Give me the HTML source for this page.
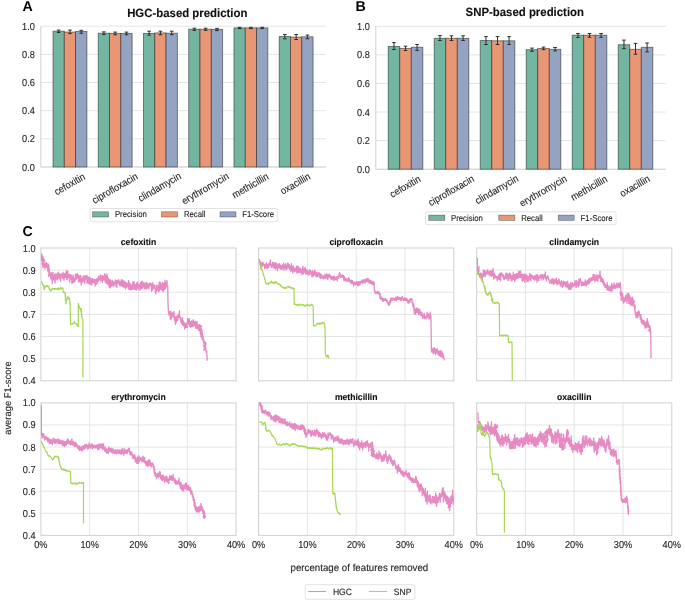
<!DOCTYPE html>
<html><head><meta charset="utf-8"><title>Figure</title>
<style>
html,body{margin:0;padding:0;background:#fff;}
body{width:685px;height:600px;overflow:hidden;font-family:"Liberation Sans", sans-serif;}
svg{display:block;will-change:transform;} text{text-rendering:geometricPrecision;}
</style></head><body>
<svg width="685" height="600" viewBox="0 0 685 600" font-family='"Liberation Sans", sans-serif'><rect width="685" height="600" fill="#fff"/><text x="22.6" y="11.4" font-size="14.2" font-weight="bold" fill="#000">A</text><text x="355.6" y="11.4" font-size="14.2" font-weight="bold" fill="#000">B</text><text x="22.4" y="236.1" font-size="14.2" font-weight="bold" fill="#000">C</text><line x1="40.8" y1="167" x2="326" y2="167" stroke="#e5e5e5" stroke-width="1"/><text x="34.90" y="170.50" text-anchor="end" font-size="10.12" fill="#262626" stroke="#262626" stroke-width="0.12" textLength="12.79" lengthAdjust="spacingAndGlyphs">0.0</text><line x1="40.8" y1="138.84" x2="326" y2="138.84" stroke="#e5e5e5" stroke-width="1"/><text x="34.90" y="142.34" text-anchor="end" font-size="10.12" fill="#262626" stroke="#262626" stroke-width="0.12" textLength="12.79" lengthAdjust="spacingAndGlyphs">0.2</text><line x1="40.8" y1="110.68" x2="326" y2="110.68" stroke="#e5e5e5" stroke-width="1"/><text x="34.90" y="114.18" text-anchor="end" font-size="10.12" fill="#262626" stroke="#262626" stroke-width="0.12" textLength="12.79" lengthAdjust="spacingAndGlyphs">0.4</text><line x1="40.8" y1="82.52" x2="326" y2="82.52" stroke="#e5e5e5" stroke-width="1"/><text x="34.90" y="86.02" text-anchor="end" font-size="10.12" fill="#262626" stroke="#262626" stroke-width="0.12" textLength="12.79" lengthAdjust="spacingAndGlyphs">0.6</text><line x1="40.8" y1="54.36" x2="326" y2="54.36" stroke="#e5e5e5" stroke-width="1"/><text x="34.90" y="57.86" text-anchor="end" font-size="10.12" fill="#262626" stroke="#262626" stroke-width="0.12" textLength="12.79" lengthAdjust="spacingAndGlyphs">0.8</text><line x1="40.8" y1="26.2" x2="326" y2="26.2" stroke="#e5e5e5" stroke-width="1"/><text x="34.90" y="29.70" text-anchor="end" font-size="10.12" fill="#262626" stroke="#262626" stroke-width="0.12" textLength="12.79" lengthAdjust="spacingAndGlyphs">1.0</text><line x1="40.8" y1="26.2" x2="40.8" y2="167" stroke="#d4d4d4" stroke-width="1.1"/><line x1="40.8" y1="167" x2="326" y2="167" stroke="#d4d4d4" stroke-width="1.1"/><rect x="53" y="31.2" width="11.3" height="135.8" fill="#72b6a1" stroke="#1a1a1a" stroke-opacity="0.55" stroke-width="0.9"/><rect x="64.3" y="32.1" width="11.3" height="134.9" fill="#e99675" stroke="#1a1a1a" stroke-opacity="0.55" stroke-width="0.9"/><rect x="75.6" y="31.5" width="11.3" height="135.5" fill="#95a3c3" stroke="#1a1a1a" stroke-opacity="0.55" stroke-width="0.9"/><path d="M58.65 30.1V32.5M56.85 30.1H60.45M56.85 32.5H60.45" stroke="#2e2e2e" stroke-width="1.0" fill="none"/><path d="M69.95 30.1V33.6M68.15 30.1H71.75M68.15 33.6H71.75" stroke="#2e2e2e" stroke-width="1.0" fill="none"/><path d="M81.25 30.3V33.3M79.45 30.3H83.05M79.45 33.3H83.05" stroke="#2e2e2e" stroke-width="1.0" fill="none"/><rect x="98.24" y="33.2" width="11.3" height="133.8" fill="#72b6a1" stroke="#1a1a1a" stroke-opacity="0.55" stroke-width="0.9"/><rect x="109.54" y="33.4" width="11.3" height="133.6" fill="#e99675" stroke="#1a1a1a" stroke-opacity="0.55" stroke-width="0.9"/><rect x="120.84" y="33.4" width="11.3" height="133.6" fill="#95a3c3" stroke="#1a1a1a" stroke-opacity="0.55" stroke-width="0.9"/><path d="M103.89 31.9V34.6M102.09 31.9H105.69M102.09 34.6H105.69" stroke="#2e2e2e" stroke-width="1.0" fill="none"/><path d="M115.19 32.1V34.8M113.39 32.1H116.99M113.39 34.8H116.99" stroke="#2e2e2e" stroke-width="1.0" fill="none"/><path d="M126.49 32.1V34.8M124.69 32.1H128.29M124.69 34.8H128.29" stroke="#2e2e2e" stroke-width="1.0" fill="none"/><rect x="143.48" y="33.4" width="11.3" height="133.6" fill="#72b6a1" stroke="#1a1a1a" stroke-opacity="0.55" stroke-width="0.9"/><rect x="154.78" y="32.9" width="11.3" height="134.1" fill="#e99675" stroke="#1a1a1a" stroke-opacity="0.55" stroke-width="0.9"/><rect x="166.08" y="33.2" width="11.3" height="133.8" fill="#95a3c3" stroke="#1a1a1a" stroke-opacity="0.55" stroke-width="0.9"/><path d="M149.13 31.2V35.1M147.33 31.2H150.93M147.33 35.1H150.93" stroke="#2e2e2e" stroke-width="1.0" fill="none"/><path d="M160.43 31.2V34.7M158.63 31.2H162.23M158.63 34.7H162.23" stroke="#2e2e2e" stroke-width="1.0" fill="none"/><path d="M171.73 31.2V34.7M169.93 31.2H173.53M169.93 34.7H173.53" stroke="#2e2e2e" stroke-width="1.0" fill="none"/><rect x="188.72" y="29.2" width="11.3" height="137.8" fill="#72b6a1" stroke="#1a1a1a" stroke-opacity="0.55" stroke-width="0.9"/><rect x="200.02" y="29.2" width="11.3" height="137.8" fill="#e99675" stroke="#1a1a1a" stroke-opacity="0.55" stroke-width="0.9"/><rect x="211.32" y="29.4" width="11.3" height="137.6" fill="#95a3c3" stroke="#1a1a1a" stroke-opacity="0.55" stroke-width="0.9"/><path d="M194.37 28.2V30.4M192.57 28.2H196.17M192.57 30.4H196.17" stroke="#2e2e2e" stroke-width="1.0" fill="none"/><path d="M205.67 28.2V30.4M203.87 28.2H207.47M203.87 30.4H207.47" stroke="#2e2e2e" stroke-width="1.0" fill="none"/><path d="M216.97 28.4V30.6M215.17 28.4H218.77M215.17 30.6H218.77" stroke="#2e2e2e" stroke-width="1.0" fill="none"/><rect x="233.96" y="27.9" width="11.3" height="139.1" fill="#72b6a1" stroke="#1a1a1a" stroke-opacity="0.55" stroke-width="0.9"/><rect x="245.26" y="27.9" width="11.3" height="139.1" fill="#e99675" stroke="#1a1a1a" stroke-opacity="0.55" stroke-width="0.9"/><rect x="256.56" y="27.9" width="11.3" height="139.1" fill="#95a3c3" stroke="#1a1a1a" stroke-opacity="0.55" stroke-width="0.9"/><path d="M239.61 27.3V28.6M237.81 27.3H241.41M237.81 28.6H241.41" stroke="#2e2e2e" stroke-width="1.0" fill="none"/><path d="M250.91 27.3V28.6M249.11 27.3H252.71M249.11 28.6H252.71" stroke="#2e2e2e" stroke-width="1.0" fill="none"/><path d="M262.21 27.3V28.6M260.41 27.3H264.01M260.41 28.6H264.01" stroke="#2e2e2e" stroke-width="1.0" fill="none"/><rect x="279.2" y="36.5" width="11.3" height="130.5" fill="#72b6a1" stroke="#1a1a1a" stroke-opacity="0.55" stroke-width="0.9"/><rect x="290.5" y="37.1" width="11.3" height="129.9" fill="#e99675" stroke="#1a1a1a" stroke-opacity="0.55" stroke-width="0.9"/><rect x="301.8" y="36.8" width="11.3" height="130.2" fill="#95a3c3" stroke="#1a1a1a" stroke-opacity="0.55" stroke-width="0.9"/><path d="M284.85 34.5V38.8M283.05 34.5H286.65M283.05 38.8H286.65" stroke="#2e2e2e" stroke-width="1.0" fill="none"/><path d="M296.15 34.5V39.5M294.35 34.5H297.95M294.35 39.5H297.95" stroke="#2e2e2e" stroke-width="1.0" fill="none"/><path d="M307.45 35.1V38.8M305.65 35.1H309.25M305.65 38.8H309.25" stroke="#2e2e2e" stroke-width="1.0" fill="none"/><text x="70.00" y="184.90" text-anchor="middle" font-size="10.12" fill="#262626" stroke="#262626" stroke-width="0.12" textLength="33.75" lengthAdjust="spacingAndGlyphs" dominant-baseline="central" transform="rotate(-30 70 184.9)">cefoxitin</text><text x="115.30" y="189.00" text-anchor="middle" font-size="10.12" fill="#262626" stroke="#262626" stroke-width="0.12" textLength="51.13" lengthAdjust="spacingAndGlyphs" dominant-baseline="central" transform="rotate(-30 115.3 189)">ciprofloxacin</text><text x="160.00" y="187.90" text-anchor="middle" font-size="10.12" fill="#262626" stroke="#262626" stroke-width="0.12" textLength="48.06" lengthAdjust="spacingAndGlyphs" dominant-baseline="central" transform="rotate(-30 160 187.9)">clindamycin</text><text x="205.70" y="189.30" text-anchor="middle" font-size="10.12" fill="#262626" stroke="#262626" stroke-width="0.12" textLength="52.66" lengthAdjust="spacingAndGlyphs" dominant-baseline="central" transform="rotate(-30 205.7 189.3)">erythromycin</text><text x="250.80" y="186.40" text-anchor="middle" font-size="10.12" fill="#262626" stroke="#262626" stroke-width="0.12" textLength="40.39" lengthAdjust="spacingAndGlyphs" dominant-baseline="central" transform="rotate(-30 250.8 186.4)">methicillin</text><text x="295.80" y="184.40" text-anchor="middle" font-size="10.12" fill="#262626" stroke="#262626" stroke-width="0.12" textLength="32.73" lengthAdjust="spacingAndGlyphs" dominant-baseline="central" transform="rotate(-30 295.8 184.4)">oxacillin</text><text x="187.30" y="16.80" text-anchor="middle" font-size="11.97" font-weight="bold" fill="#111" stroke="#111" stroke-width="0.12" textLength="120.35" lengthAdjust="spacingAndGlyphs">HGC-based prediction</text><rect x="90.1" y="208.5" width="187.2" height="13.2" rx="1.5" fill="#fff" stroke="#dcdcdc" stroke-width="0.8"/><rect x="92.6" y="211.8" width="16" height="5.2" fill="#72b6a1" stroke="#1a1a1a" stroke-opacity="0.55" stroke-width="0.6"/><text x="114.90" y="217.20" font-size="8.53" fill="#262626" stroke="#262626" stroke-width="0.12" textLength="31.87" lengthAdjust="spacingAndGlyphs">Precision</text><rect x="161.6" y="211.8" width="16" height="5.2" fill="#e99675" stroke="#1a1a1a" stroke-opacity="0.55" stroke-width="0.6"/><text x="183.90" y="217.20" font-size="8.53" fill="#262626" stroke="#262626" stroke-width="0.12" textLength="21.54" lengthAdjust="spacingAndGlyphs">Recall</text><rect x="220" y="211.8" width="16" height="5.2" fill="#95a3c3" stroke="#1a1a1a" stroke-opacity="0.55" stroke-width="0.6"/><text x="242.20" y="217.20" font-size="8.53" fill="#262626" stroke="#262626" stroke-width="0.12" textLength="31.87" lengthAdjust="spacingAndGlyphs">F1-Score</text><line x1="375.8" y1="169.2" x2="665.8" y2="169.2" stroke="#e5e5e5" stroke-width="1"/><text x="369.90" y="172.70" text-anchor="end" font-size="10.12" fill="#262626" stroke="#262626" stroke-width="0.12" textLength="12.79" lengthAdjust="spacingAndGlyphs">0.0</text><line x1="375.8" y1="140.62" x2="665.8" y2="140.62" stroke="#e5e5e5" stroke-width="1"/><text x="369.90" y="144.12" text-anchor="end" font-size="10.12" fill="#262626" stroke="#262626" stroke-width="0.12" textLength="12.79" lengthAdjust="spacingAndGlyphs">0.2</text><line x1="375.8" y1="112.04" x2="665.8" y2="112.04" stroke="#e5e5e5" stroke-width="1"/><text x="369.90" y="115.54" text-anchor="end" font-size="10.12" fill="#262626" stroke="#262626" stroke-width="0.12" textLength="12.79" lengthAdjust="spacingAndGlyphs">0.4</text><line x1="375.8" y1="83.46" x2="665.8" y2="83.46" stroke="#e5e5e5" stroke-width="1"/><text x="369.90" y="86.96" text-anchor="end" font-size="10.12" fill="#262626" stroke="#262626" stroke-width="0.12" textLength="12.79" lengthAdjust="spacingAndGlyphs">0.6</text><line x1="375.8" y1="54.88" x2="665.8" y2="54.88" stroke="#e5e5e5" stroke-width="1"/><text x="369.90" y="58.38" text-anchor="end" font-size="10.12" fill="#262626" stroke="#262626" stroke-width="0.12" textLength="12.79" lengthAdjust="spacingAndGlyphs">0.8</text><line x1="375.8" y1="26.3" x2="665.8" y2="26.3" stroke="#e5e5e5" stroke-width="1"/><text x="369.90" y="29.80" text-anchor="end" font-size="10.12" fill="#262626" stroke="#262626" stroke-width="0.12" textLength="12.79" lengthAdjust="spacingAndGlyphs">1.0</text><line x1="375.8" y1="26.3" x2="375.8" y2="169.2" stroke="#d4d4d4" stroke-width="1.1"/><line x1="375.8" y1="169.2" x2="665.8" y2="169.2" stroke="#d4d4d4" stroke-width="1.1"/><rect x="388.2" y="46.4" width="11.55" height="122.8" fill="#72b6a1" stroke="#1a1a1a" stroke-opacity="0.55" stroke-width="0.9"/><rect x="399.75" y="48.4" width="11.55" height="120.8" fill="#e99675" stroke="#1a1a1a" stroke-opacity="0.55" stroke-width="0.9"/><rect x="411.3" y="47.2" width="11.55" height="122" fill="#95a3c3" stroke="#1a1a1a" stroke-opacity="0.55" stroke-width="0.9"/><path d="M393.97 42.6V49.5M392.17 42.6H395.77M392.17 49.5H395.77" stroke="#2e2e2e" stroke-width="1.0" fill="none"/><path d="M405.52 46.2V50.5M403.72 46.2H407.32M403.72 50.5H407.32" stroke="#2e2e2e" stroke-width="1.0" fill="none"/><path d="M417.07 44.5V50.4M415.27 44.5H418.88M415.27 50.4H418.88" stroke="#2e2e2e" stroke-width="1.0" fill="none"/><rect x="434.2" y="38.3" width="11.55" height="130.9" fill="#72b6a1" stroke="#1a1a1a" stroke-opacity="0.55" stroke-width="0.9"/><rect x="445.75" y="38.3" width="11.55" height="130.9" fill="#e99675" stroke="#1a1a1a" stroke-opacity="0.55" stroke-width="0.9"/><rect x="457.3" y="38.3" width="11.55" height="130.9" fill="#95a3c3" stroke="#1a1a1a" stroke-opacity="0.55" stroke-width="0.9"/><path d="M439.97 35.6V40.5M438.17 35.6H441.77M438.17 40.5H441.77" stroke="#2e2e2e" stroke-width="1.0" fill="none"/><path d="M451.52 35.8V40.5M449.72 35.8H453.32M449.72 40.5H453.32" stroke="#2e2e2e" stroke-width="1.0" fill="none"/><path d="M463.07 35.8V40.5M461.27 35.8H464.88M461.27 40.5H464.88" stroke="#2e2e2e" stroke-width="1.0" fill="none"/><rect x="480.2" y="40.5" width="11.55" height="128.7" fill="#72b6a1" stroke="#1a1a1a" stroke-opacity="0.55" stroke-width="0.9"/><rect x="491.75" y="40.8" width="11.55" height="128.4" fill="#e99675" stroke="#1a1a1a" stroke-opacity="0.55" stroke-width="0.9"/><rect x="503.3" y="40.8" width="11.55" height="128.4" fill="#95a3c3" stroke="#1a1a1a" stroke-opacity="0.55" stroke-width="0.9"/><path d="M485.97 36.6V44.5M484.17 36.6H487.77M484.17 44.5H487.77" stroke="#2e2e2e" stroke-width="1.0" fill="none"/><path d="M497.52 36.6V44.5M495.72 36.6H499.32M495.72 44.5H499.32" stroke="#2e2e2e" stroke-width="1.0" fill="none"/><path d="M509.07 36.6V44.5M507.27 36.6H510.88M507.27 44.5H510.88" stroke="#2e2e2e" stroke-width="1.0" fill="none"/><rect x="526.2" y="49.7" width="11.55" height="119.5" fill="#72b6a1" stroke="#1a1a1a" stroke-opacity="0.55" stroke-width="0.9"/><rect x="537.75" y="48.4" width="11.55" height="120.8" fill="#e99675" stroke="#1a1a1a" stroke-opacity="0.55" stroke-width="0.9"/><rect x="549.3" y="49.3" width="11.55" height="119.9" fill="#95a3c3" stroke="#1a1a1a" stroke-opacity="0.55" stroke-width="0.9"/><path d="M531.98 48.1V51.3M530.18 48.1H533.77M530.18 51.3H533.77" stroke="#2e2e2e" stroke-width="1.0" fill="none"/><path d="M543.52 47.1V49.7M541.73 47.1H545.32M541.73 49.7H545.32" stroke="#2e2e2e" stroke-width="1.0" fill="none"/><path d="M555.08 47.5V51M553.28 47.5H556.88M553.28 51H556.88" stroke="#2e2e2e" stroke-width="1.0" fill="none"/><rect x="572.2" y="35.2" width="11.55" height="134" fill="#72b6a1" stroke="#1a1a1a" stroke-opacity="0.55" stroke-width="0.9"/><rect x="583.75" y="35.2" width="11.55" height="134" fill="#e99675" stroke="#1a1a1a" stroke-opacity="0.55" stroke-width="0.9"/><rect x="595.3" y="35.2" width="11.55" height="134" fill="#95a3c3" stroke="#1a1a1a" stroke-opacity="0.55" stroke-width="0.9"/><path d="M577.98 33.5V37.5M576.18 33.5H579.77M576.18 37.5H579.77" stroke="#2e2e2e" stroke-width="1.0" fill="none"/><path d="M589.52 33.5V37.3M587.73 33.5H591.32M587.73 37.3H591.32" stroke="#2e2e2e" stroke-width="1.0" fill="none"/><path d="M601.08 33.5V37.3M599.28 33.5H602.88M599.28 37.3H602.88" stroke="#2e2e2e" stroke-width="1.0" fill="none"/><rect x="618.2" y="44.7" width="11.55" height="124.5" fill="#72b6a1" stroke="#1a1a1a" stroke-opacity="0.55" stroke-width="0.9"/><rect x="629.75" y="49.3" width="11.55" height="119.9" fill="#e99675" stroke="#1a1a1a" stroke-opacity="0.55" stroke-width="0.9"/><rect x="641.3" y="47.3" width="11.55" height="121.9" fill="#95a3c3" stroke="#1a1a1a" stroke-opacity="0.55" stroke-width="0.9"/><path d="M623.98 40.1V48.7M622.18 40.1H625.77M622.18 48.7H625.77" stroke="#2e2e2e" stroke-width="1.0" fill="none"/><path d="M635.52 43.4V54.2M633.73 43.4H637.32M633.73 54.2H637.32" stroke="#2e2e2e" stroke-width="1.0" fill="none"/><path d="M647.08 43V51.9M645.28 43H648.88M645.28 51.9H648.88" stroke="#2e2e2e" stroke-width="1.0" fill="none"/><text x="405.60" y="187.30" text-anchor="middle" font-size="10.12" fill="#262626" stroke="#262626" stroke-width="0.12" textLength="33.75" lengthAdjust="spacingAndGlyphs" dominant-baseline="central" transform="rotate(-30 405.6 187.3)">cefoxitin</text><text x="451.66" y="191.40" text-anchor="middle" font-size="10.12" fill="#262626" stroke="#262626" stroke-width="0.12" textLength="51.13" lengthAdjust="spacingAndGlyphs" dominant-baseline="central" transform="rotate(-30 451.66 191.4)">ciprofloxacin</text><text x="497.12" y="190.30" text-anchor="middle" font-size="10.12" fill="#262626" stroke="#262626" stroke-width="0.12" textLength="48.06" lengthAdjust="spacingAndGlyphs" dominant-baseline="central" transform="rotate(-30 497.12 190.3)">clindamycin</text><text x="543.58" y="191.70" text-anchor="middle" font-size="10.12" fill="#262626" stroke="#262626" stroke-width="0.12" textLength="52.66" lengthAdjust="spacingAndGlyphs" dominant-baseline="central" transform="rotate(-30 543.58 191.7)">erythromycin</text><text x="589.44" y="188.80" text-anchor="middle" font-size="10.12" fill="#262626" stroke="#262626" stroke-width="0.12" textLength="40.39" lengthAdjust="spacingAndGlyphs" dominant-baseline="central" transform="rotate(-30 589.44 188.8)">methicillin</text><text x="635.20" y="186.80" text-anchor="middle" font-size="10.12" fill="#262626" stroke="#262626" stroke-width="0.12" textLength="32.73" lengthAdjust="spacingAndGlyphs" dominant-baseline="central" transform="rotate(-30 635.2 186.8)">oxacillin</text><text x="524.80" y="15.90" text-anchor="middle" font-size="11.97" font-weight="bold" fill="#111" stroke="#111" stroke-width="0.12" textLength="118.45" lengthAdjust="spacingAndGlyphs">SNP-based prediction</text><rect x="425.5" y="211.8" width="190.5" height="12.8" rx="1.5" fill="#fff" stroke="#dcdcdc" stroke-width="0.8"/><rect x="428.8" y="215.1" width="16" height="5.2" fill="#72b6a1" stroke="#1a1a1a" stroke-opacity="0.55" stroke-width="0.6"/><text x="451.00" y="220.50" font-size="8.53" fill="#262626" stroke="#262626" stroke-width="0.12" textLength="31.87" lengthAdjust="spacingAndGlyphs">Precision</text><rect x="498.8" y="215.1" width="16" height="5.2" fill="#e99675" stroke="#1a1a1a" stroke-opacity="0.55" stroke-width="0.6"/><text x="521.20" y="220.50" font-size="8.53" fill="#262626" stroke="#262626" stroke-width="0.12" textLength="21.54" lengthAdjust="spacingAndGlyphs">Recall</text><rect x="558.2" y="215.1" width="16" height="5.2" fill="#95a3c3" stroke="#1a1a1a" stroke-opacity="0.55" stroke-width="0.6"/><text x="580.60" y="220.50" font-size="8.53" fill="#262626" stroke="#262626" stroke-width="0.12" textLength="31.87" lengthAdjust="spacingAndGlyphs">F1-Score</text><g><line x1="89.7" y1="248" x2="89.7" y2="380.8" stroke="#e5e5e5" stroke-width="1"/><line x1="138.5" y1="248" x2="138.5" y2="380.8" stroke="#e5e5e5" stroke-width="1"/><line x1="187.3" y1="248" x2="187.3" y2="380.8" stroke="#e5e5e5" stroke-width="1"/><line x1="40.9" y1="270.13" x2="236.1" y2="270.13" stroke="#e5e5e5" stroke-width="1"/><line x1="40.9" y1="292.27" x2="236.1" y2="292.27" stroke="#e5e5e5" stroke-width="1"/><line x1="40.9" y1="314.4" x2="236.1" y2="314.4" stroke="#e5e5e5" stroke-width="1"/><line x1="40.9" y1="336.53" x2="236.1" y2="336.53" stroke="#e5e5e5" stroke-width="1"/><line x1="40.9" y1="358.67" x2="236.1" y2="358.67" stroke="#e5e5e5" stroke-width="1"/><rect x="40.9" y="248" width="195.2" height="132.8" fill="none" stroke="#d4d4d4" stroke-width="1.1"/></g><text x="35.60" y="251.50" text-anchor="end" font-size="10.12" fill="#262626" stroke="#262626" stroke-width="0.12" textLength="12.79" lengthAdjust="spacingAndGlyphs">1.0</text><text x="35.60" y="273.63" text-anchor="end" font-size="10.12" fill="#262626" stroke="#262626" stroke-width="0.12" textLength="12.79" lengthAdjust="spacingAndGlyphs">0.9</text><text x="35.60" y="295.77" text-anchor="end" font-size="10.12" fill="#262626" stroke="#262626" stroke-width="0.12" textLength="12.79" lengthAdjust="spacingAndGlyphs">0.8</text><text x="35.60" y="317.90" text-anchor="end" font-size="10.12" fill="#262626" stroke="#262626" stroke-width="0.12" textLength="12.79" lengthAdjust="spacingAndGlyphs">0.7</text><text x="35.60" y="340.03" text-anchor="end" font-size="10.12" fill="#262626" stroke="#262626" stroke-width="0.12" textLength="12.79" lengthAdjust="spacingAndGlyphs">0.6</text><text x="35.60" y="362.17" text-anchor="end" font-size="10.12" fill="#262626" stroke="#262626" stroke-width="0.12" textLength="12.79" lengthAdjust="spacingAndGlyphs">0.5</text><text x="35.60" y="384.30" text-anchor="end" font-size="10.12" fill="#262626" stroke="#262626" stroke-width="0.12" textLength="12.79" lengthAdjust="spacingAndGlyphs">0.4</text><text x="138.50" y="245.00" text-anchor="middle" font-size="9.03" font-weight="bold" fill="#111" stroke="#111" stroke-width="0.12" textLength="35.36" lengthAdjust="spacingAndGlyphs">cefoxitin</text><clipPath id="cp00"><rect x="40.9" y="247" width="195.2" height="133.8"/></clipPath><g clip-path="url(#cp00)"><path d="M41.40,255.00 40.97,256.63 41.68,254.91 41.59,253.95 41.39,255.54 41.83,254.01 41.60,257.07 42.50,256.29 41.80,255.83 41.50,260.25 41.41,259.52 42.74,257.33 41.95,259.42 42.37,257.79 42.62,256.15 42.00,260.95 42.67,256.46 43.29,257.82 42.69,258.38 42.43,258.67 42.38,260.20 42.93,261.62 43.00,259.80 42.63,261.50 44.36,259.39 43.97,260.88 44.93,261.12 42.42,261.61 43.50,262.55 43.14,258.39 43.84,262.03 42.42,261.47 42.50,262.67 43.14,264.49 42.98,261.90 43.02,261.31 43.18,261.36 43.92,262.99 42.84,261.68 43.60,262.39 42.12,263.58 42.98,266.55 42.68,267.90 43.50,264.36 43.16,264.37 43.75,265.00 43.89,266.03 44.02,262.78 44.16,265.97 44.30,264.33 44.43,266.90 44.57,265.36 44.70,263.39 44.84,265.51 44.98,268.97 45.11,266.81 45.25,265.80 45.38,266.26 45.51,265.22 45.65,264.09 45.78,263.82 45.91,262.82 46.04,262.28 46.17,264.25 46.31,267.21 46.44,266.55 46.57,266.18 46.70,265.66 46.84,263.76 46.97,264.61 47.10,264.60 47.77,264.16 48.04,266.66 47.95,266.38 47.24,264.89 46.76,265.19 46.83,264.22 46.19,264.87 47.65,268.99 47.98,267.59 47.95,266.94 48.16,267.81 48.42,264.19 48.19,266.64 48.01,268.11 47.64,270.21 47.75,269.72 49.58,268.92 48.24,271.44 47.95,271.17 48.50,267.03 47.39,268.12 48.25,269.50 49.00,265.86 48.63,269.39 48.43,268.84 48.22,271.94 48.07,271.48 48.10,271.40 48.51,270.50 48.94,272.38 48.74,270.91 48.85,271.42 49.32,270.47 49.07,271.98 48.82,276.01 48.38,274.86 48.73,276.41 49.15,272.74 48.70,271.70 49.69,274.04 49.25,273.90 49.19,274.95 50.01,273.39 49.20,272.73 49.54,274.79 49.75,274.80 49.88,273.00 50.01,274.13 50.15,274.43 50.28,273.69 50.41,275.58 50.54,277.21 50.68,278.62 50.81,274.48 50.94,275.99 51.07,276.57 51.21,272.47 51.34,273.64 51.47,276.01 51.60,273.22 51.74,276.80 51.87,280.06 52.00,277.80 52.13,276.03 52.26,280.27 52.40,283.64 52.53,280.26 52.66,278.17 52.79,277.18 52.93,272.37 53.06,273.39 53.19,278.31 53.32,277.68 53.46,279.37 53.59,278.66 53.72,278.32 53.85,279.49 53.99,276.54 54.12,278.65 54.25,278.50 54.38,279.07 54.51,276.06 54.64,274.05 54.77,275.59 54.90,282.75 55.03,282.85 55.16,281.93 55.29,278.49 55.42,278.42 55.55,277.47 55.68,279.66 55.82,279.20 55.95,273.95 56.08,277.68 56.21,279.10 56.34,276.57 56.47,275.19 56.60,277.34 56.73,275.68 56.86,276.83 56.99,276.64 57.12,275.34 57.25,276.30 57.38,273.51 57.51,279.86 57.64,275.86 57.77,276.55 57.90,275.94 58.03,276.01 58.16,272.82 58.29,273.07 58.42,272.26 58.55,277.06 58.68,274.61 58.82,273.64 58.95,276.90 59.08,276.90 59.21,278.80 59.34,277.98 59.47,276.56 59.60,274.15 59.73,278.26 59.86,276.15 59.99,273.93 60.12,274.52 60.25,275.50 60.38,274.75 60.51,278.28 60.64,281.27 60.77,277.15 60.90,278.14 61.03,274.86 61.16,274.85 61.29,273.86 61.42,275.24 61.55,276.77 61.68,276.46 61.82,275.20 61.95,275.43 62.08,274.13 62.21,276.25 62.34,275.14 62.47,276.05 62.60,277.86 62.73,275.28 62.86,278.70 62.99,272.12 63.12,273.27 63.25,275.90 63.38,276.92 63.51,275.55 63.64,273.67 63.77,273.99 63.90,278.35 64.03,280.33 64.16,274.51 64.29,273.92 64.42,273.67 64.55,277.90 64.68,276.00 64.82,276.59 64.95,276.34 65.08,275.89 65.21,274.99 65.34,277.45 65.47,276.35 65.60,273.61 65.73,274.61 65.86,272.49 65.99,274.66 66.12,274.28 66.25,275.50 66.38,273.13 66.51,270.53 66.64,278.33 66.77,276.30 66.90,279.40 67.03,275.18 67.16,276.29 67.29,279.66 67.42,278.67 67.55,275.41 67.68,271.35 67.82,271.23 67.95,275.09 68.08,277.04 68.21,277.63 68.34,276.59 68.47,276.66 68.60,277.48 68.73,275.95 68.86,276.72 68.99,277.26 69.12,274.50 69.25,275.90 69.38,277.37 69.51,280.26 69.64,282.09 69.77,279.94 69.90,277.75 70.03,274.63 70.16,277.96 70.29,279.22 70.42,276.36 70.55,278.71 70.68,277.15 70.82,275.19 70.95,277.05 71.08,277.12 71.21,276.69 71.34,276.74 71.47,277.06 71.60,275.35 71.73,282.15 71.86,283.24 71.99,278.41 72.12,280.21 72.25,279.50 72.38,279.97 72.52,279.36 72.65,282.85 72.79,281.90 72.92,277.74 73.05,277.76 73.19,274.79 73.32,278.15 73.46,278.82 73.59,279.05 73.72,278.24 73.86,278.43 73.99,278.92 74.12,282.41 74.26,280.00 74.39,278.12 74.53,279.07 74.66,280.06 74.79,280.98 74.93,281.22 75.06,278.37 75.20,279.78 75.33,276.81 75.46,274.36 75.60,274.83 75.73,277.50 75.87,273.94 76.00,277.00 76.13,279.37 76.26,277.73 76.39,278.57 76.52,276.96 76.65,274.50 76.78,275.79 76.91,277.98 77.04,275.60 77.17,277.44 77.30,275.62 77.43,273.56 77.57,274.25 77.70,277.51 77.83,274.92 77.96,278.24 78.09,278.14 78.22,276.56 78.35,277.56 78.48,281.77 78.61,281.18 78.74,281.01 78.87,278.75 79.00,278.50 79.13,275.52 79.27,279.59 79.40,281.73 79.54,280.91 79.67,280.72 79.80,280.72 79.94,279.88 80.07,278.67 80.21,280.98 80.34,280.22 80.47,275.40 80.61,278.06 80.74,278.19 80.88,275.88 81.01,281.64 81.14,285.08 81.28,279.02 81.41,280.83 81.54,279.51 81.68,279.99 81.81,278.61 81.95,279.54 82.08,282.48 82.21,281.33 82.35,279.71 82.48,279.14 82.62,277.87 82.75,280.00 82.88,278.64 83.02,276.78 83.15,281.14 83.29,275.99 83.42,278.66 83.55,277.52 83.69,277.40 83.82,277.53 83.96,277.42 84.09,280.95 84.22,282.13 84.36,277.69 84.49,276.20 84.62,281.33 84.76,283.18 84.89,281.94 85.03,275.69 85.16,280.01 85.29,277.09 85.43,279.19 85.56,276.65 85.70,278.34 85.83,277.30 85.96,278.65 86.10,276.45 86.23,277.93 86.37,276.05 86.50,278.50 86.63,277.89 86.76,277.60 86.90,282.95 87.03,281.58 87.16,275.39 87.29,278.07 87.42,281.54 87.56,278.88 87.69,277.74 87.82,278.05 87.95,282.00 88.09,282.36 88.22,283.16 88.35,278.43 88.48,278.44 88.61,277.13 88.75,278.41 88.88,280.19 89.01,277.53 89.14,280.21 89.28,284.27 89.41,279.21 89.54,278.92 89.67,280.15 89.80,280.64 89.94,277.04 90.07,281.34 90.20,280.30 90.33,281.04 90.46,280.24 90.59,279.64 90.73,284.46 90.86,278.93 90.99,279.36 91.12,278.79 91.25,281.12 91.38,280.96 91.52,281.90 91.65,280.66 91.78,285.14 91.91,281.78 92.04,280.45 92.17,278.89 92.31,280.12 92.44,278.52 92.57,279.65 92.70,278.90 92.84,282.24 92.97,281.27 93.11,279.65 93.25,281.54 93.38,280.41 93.52,282.78 93.66,281.36 93.79,281.36 93.93,279.58 94.07,281.52 94.21,282.07 94.34,282.18 94.48,280.98 94.62,282.83 94.75,281.25 94.89,279.50 95.03,280.96 95.16,286.06 95.30,281.50 95.43,281.04 95.56,280.30 95.70,279.84 95.83,281.56 95.96,281.09 96.09,279.85 96.22,279.81 96.36,284.30 96.49,278.83 96.62,280.43 96.75,278.63 96.89,279.78 97.02,283.41 97.15,280.61 97.28,282.18 97.41,281.64 97.55,280.64 97.68,280.73 97.81,279.98 97.94,281.46 98.08,280.94 98.21,276.52 98.34,277.06 98.47,279.59 98.60,280.73 98.74,278.82 98.87,277.99 99.00,278.50 99.13,276.49 99.27,278.58 99.40,279.36 99.53,278.77 99.67,277.04 99.80,279.43 99.93,278.91 100.07,277.22 100.20,278.95 100.33,280.76 100.47,274.83 100.60,278.68 100.73,279.63 100.87,277.93 101.00,276.04 101.13,277.23 101.27,279.45 101.40,277.49 101.53,276.16 101.67,280.66 101.80,278.78 101.93,280.22 102.07,275.48 102.20,279.90 102.33,281.53 102.47,282.50 102.60,280.30 102.73,279.39 102.86,277.91 103.00,279.12 103.13,279.53 103.26,278.54 103.39,276.27 103.52,279.82 103.65,279.31 103.79,279.28 103.92,275.94 104.05,276.39 104.18,277.26 104.31,277.17 104.45,275.42 104.58,275.42 104.71,273.70 104.84,276.51 104.97,280.47 105.10,277.17 105.24,282.75 105.37,282.00 105.50,276.70 105.64,281.57 105.77,280.15 105.91,278.60 106.05,275.06 106.18,276.14 106.32,276.28 106.45,277.76 106.59,277.75 106.73,279.54 106.86,278.71 107.00,278.10 106.92,274.07 107.27,276.74 106.77,276.43 107.26,280.30 107.66,284.29 107.19,283.02 106.65,283.31 106.87,279.84 107.14,279.65 107.84,278.57 107.54,276.33 107.51,281.18 107.62,280.22 107.60,279.00 107.66,280.01 107.37,279.43 107.11,281.42 107.76,282.35 108.71,285.08 108.27,284.10 108.23,282.58 108.40,282.90 108.53,282.57 108.66,278.58 108.80,282.21 108.93,285.25 109.06,283.97 109.19,287.17 109.33,286.19 109.46,282.87 109.59,279.92 109.72,281.91 109.85,282.54 109.99,285.75 110.12,284.85 110.25,288.01 110.38,284.93 110.51,282.85 110.65,280.01 110.78,282.69 110.91,286.55 111.04,284.28 111.17,284.68 111.31,282.10 111.44,283.45 111.57,284.55 111.70,285.77 111.84,286.10 111.97,283.14 112.10,283.60 112.23,280.36 112.37,283.48 112.50,282.43 112.63,282.95 112.77,285.17 112.90,282.85 113.03,283.71 113.17,281.51 113.30,283.42 113.43,281.44 113.57,282.90 113.70,284.48 113.83,286.23 113.97,283.27 114.10,285.17 114.23,284.50 114.37,283.71 114.50,284.19 114.63,283.75 114.77,283.96 114.90,282.54 115.03,281.88 115.17,280.42 115.30,280.26 115.43,281.31 115.57,279.98 115.70,282.90 115.83,280.95 115.96,286.31 116.09,282.68 116.22,284.59 116.35,281.75 116.48,280.59 116.61,286.94 116.74,282.83 116.87,287.11 117.00,282.20 117.13,280.44 117.27,280.73 117.40,281.58 117.53,280.90 117.66,281.96 117.79,283.00 117.92,282.83 118.05,282.82 118.18,282.01 118.31,281.42 118.44,282.85 118.57,279.60 118.70,282.50 118.83,283.54 118.97,282.53 119.10,284.56 119.23,282.22 119.37,281.99 119.50,283.24 119.63,285.60 119.77,281.27 119.90,281.22 120.03,284.27 120.17,283.09 120.30,283.36 120.43,284.93 120.57,284.14 120.70,283.97 120.83,285.72 120.97,284.45 121.10,284.77 121.23,282.06 121.37,279.72 121.50,280.33 121.63,285.90 121.77,284.03 121.90,285.34 122.03,283.78 122.17,282.79 122.30,283.20 122.43,283.85 122.56,283.20 122.70,280.11 122.83,283.08 122.96,286.94 123.09,285.84 123.22,286.65 123.36,284.40 123.49,284.58 123.62,284.62 123.75,286.96 123.89,286.99 124.02,281.03 124.15,285.33 124.28,283.72 124.41,284.26 124.55,281.08 124.68,284.64 124.81,284.66 124.94,283.91 125.08,285.21 125.21,286.86 125.34,288.19 125.47,288.81 125.60,287.71 125.74,284.98 125.87,282.37 126.00,284.70 126.13,285.00 126.26,284.31 126.39,287.18 126.52,286.22 126.65,287.04 126.78,283.09 126.91,285.36 127.04,283.62 127.17,284.24 127.30,284.97 127.43,286.16 127.56,285.78 127.69,284.56 127.82,284.91 127.95,283.68 128.08,284.11 128.22,288.30 128.35,284.68 128.48,282.41 128.61,280.44 128.74,283.46 128.87,287.07 129.00,288.28 129.13,289.16 129.26,289.29 129.39,285.14 129.52,288.06 129.65,285.85 129.78,283.07 129.91,285.72 130.04,289.82 130.17,287.61 130.30,286.20 130.43,289.18 130.56,286.53 130.70,284.95 130.83,284.55 130.96,284.35 131.09,287.27 131.23,289.81 131.36,285.65 131.49,285.32 131.62,285.39 131.75,285.57 131.89,287.28 132.02,287.96 132.15,289.12 132.28,286.70 132.41,289.33 132.55,288.75 132.68,287.62 132.81,283.03 132.94,282.02 133.07,283.19 133.21,285.70 133.34,289.07 133.47,288.38 133.60,283.54 133.74,283.36 133.87,287.14 134.00,285.80 134.13,283.27 134.27,281.80 134.40,287.57 134.53,289.04 134.67,285.22 134.80,285.52 134.93,285.66 135.07,286.16 135.20,286.84 135.33,289.50 135.47,286.24 135.60,284.38 135.73,288.06 135.87,286.44 136.00,285.03 136.13,289.82 136.27,287.69 136.40,289.95 136.53,286.87 136.67,283.27 136.80,286.15 136.93,284.77 137.07,286.84 137.20,287.28 137.33,286.48 137.47,281.81 137.60,284.19 137.73,288.14 137.87,287.25 138.00,287.50 138.13,284.32 138.26,285.97 138.40,289.73 138.53,287.24 138.66,288.75 138.79,284.13 138.92,284.85 139.06,286.09 139.19,286.54 139.32,285.94 139.45,285.63 139.58,287.19 139.72,286.64 139.85,285.52 139.98,284.84 140.11,290.25 140.24,289.06 140.38,282.61 140.51,286.14 140.64,285.72 140.77,287.18 140.90,284.65 141.04,285.48 141.17,281.81 141.30,284.20 141.43,288.68 141.56,285.77 141.69,282.78 141.83,282.42 141.96,284.54 142.09,281.13 142.22,282.59 142.35,282.88 142.48,281.78 142.61,288.01 142.74,286.93 142.88,283.64 143.01,285.33 143.14,285.96 143.27,285.09 143.40,286.46 143.53,283.46 143.66,284.11 143.79,283.33 143.93,282.33 144.06,287.35 144.19,286.34 144.32,283.93 144.45,288.20 144.58,286.53 144.71,287.22 144.84,288.87 144.97,285.79 145.11,284.09 145.24,288.82 145.37,288.57 145.50,285.00 145.63,283.94 145.76,283.01 145.89,283.23 146.03,284.76 146.16,283.75 146.29,283.73 146.42,285.83 146.55,282.29 146.68,288.92 146.81,287.36 146.94,286.88 147.07,286.06 147.21,285.28 147.34,286.47 147.47,285.94 147.60,287.52 147.73,285.98 147.86,283.55 147.99,284.51 148.12,287.54 148.26,284.85 148.39,286.43 148.52,287.99 148.65,284.92 148.78,288.90 148.91,286.29 149.04,284.45 149.17,284.58 149.31,284.45 149.44,283.21 149.57,284.51 149.70,285.80 149.83,283.32 149.96,284.56 150.10,285.44 150.23,285.73 150.36,285.34 150.49,284.61 150.63,283.06 150.76,285.28 150.89,284.12 151.02,284.86 151.15,284.40 151.29,283.70 151.42,284.98 151.55,291.24 151.68,287.25 151.82,287.30 151.95,289.23 152.08,284.76 152.21,290.56 152.35,290.29 152.48,286.53 152.61,285.90 152.74,283.22 152.87,282.58 153.01,288.81 153.14,288.85 153.27,286.29 153.40,286.51 153.54,286.33 153.67,287.64 153.80,286.70 153.93,284.80 154.06,288.22 154.19,287.10 154.32,286.13 154.45,285.90 154.58,287.81 154.72,285.30 154.85,287.37 154.98,288.12 155.11,288.90 155.24,289.39 155.37,292.55 155.50,289.20 155.63,293.76 155.76,292.94 155.89,289.64 156.03,292.79 156.16,289.01 156.29,289.52 156.42,285.69 156.55,288.67 156.68,291.09 156.81,285.02 156.94,289.66 157.07,289.51 157.21,289.96 157.34,288.31 157.47,287.34 157.60,289.86 157.73,290.38 157.86,289.78 157.99,286.04 158.12,287.43 158.26,286.22 158.39,286.90 158.52,289.71 158.65,291.80 158.78,289.04 158.91,290.64 159.04,287.91 159.17,281.99 159.31,283.51 159.44,287.48 159.57,290.86 159.70,287.50 159.83,289.65 159.96,284.36 160.10,286.33 160.23,285.80 160.36,284.31 160.49,282.28 160.62,283.72 160.76,285.24 160.89,289.03 161.02,286.99 161.15,284.66 161.28,287.75 161.42,287.80 161.55,285.90 161.68,289.14 161.81,287.98 161.94,290.21 162.08,286.94 162.21,284.93 162.34,284.05 162.47,282.51 162.60,285.35 162.74,286.28 162.87,290.91 163.00,286.70 163.13,287.30 163.26,291.65 163.40,288.95 163.53,286.82 163.66,283.16 163.79,286.12 163.92,283.67 164.06,285.85 164.19,286.91 164.32,283.07 164.45,285.87 164.58,285.27 164.72,289.51 164.85,284.56 164.98,281.70 165.11,280.21 165.24,283.22 165.38,288.53 165.51,286.49 165.64,282.49 165.77,284.26 165.90,284.65 166.04,286.02 166.17,284.97 166.30,284.20 166.44,284.75 166.58,282.63 166.72,284.48 166.86,281.92 167.00,280.72 167.14,286.38 167.28,287.99 167.42,286.96 167.56,286.68 167.70,285.80 168.00,303.30 168.50,313.30 168.63,312.36 168.77,312.57 168.90,311.28 169.03,315.13 169.17,314.47 169.30,313.27 169.43,313.41 169.57,311.76 169.70,312.22 169.83,314.62 169.97,314.12 170.10,316.00 170.23,316.35 170.37,319.53 170.50,317.24 170.63,318.06 170.77,311.16 170.90,311.22 171.03,317.41 171.17,318.96 171.30,314.20 171.43,315.65 171.56,314.42 171.69,317.75 171.83,314.02 171.96,313.37 172.09,314.21 172.22,315.56 172.35,316.22 172.48,316.54 172.62,312.86 172.75,315.09 172.88,315.64 173.01,315.20 173.14,316.08 173.27,315.61 173.41,312.76 173.54,313.99 173.67,312.14 173.80,316.70 173.93,311.41 174.06,313.46 174.19,318.24 174.33,320.02 174.46,319.71 174.59,318.87 174.72,316.77 174.85,317.23 174.98,321.04 175.12,319.08 175.25,320.19 175.38,324.26 175.51,318.10 175.64,321.03 175.77,323.37 175.91,319.88 176.04,319.12 176.17,316.48 176.30,319.20 176.43,316.62 176.56,321.68 176.69,320.61 176.82,319.75 176.95,318.29 177.08,317.06 177.22,316.07 177.35,317.74 177.48,320.47 177.61,320.03 177.74,320.41 177.87,317.46 178.00,315.72 178.13,314.54 178.26,315.67 178.39,317.78 178.52,315.82 178.65,317.20 178.78,316.47 178.92,315.15 179.05,317.32 179.18,313.24 179.31,316.87 179.44,310.91 179.57,314.07 179.70,316.70 179.81,316.66 179.98,316.86 180.09,317.22 180.21,318.60 180.38,317.49 180.55,317.11 180.66,321.41 180.72,319.08 180.88,319.34 181.05,321.03 181.12,322.82 181.24,319.34 181.38,320.29 181.58,323.85 181.70,320.00 181.85,322.41 181.97,320.49 182.11,319.85 182.20,318.22 182.36,322.49 182.47,317.63 182.62,319.30 182.77,324.96 182.83,324.09 183.05,322.61 183.17,325.78 183.33,321.01 183.41,321.62 183.52,325.06 183.68,323.72 183.80,323.30 183.93,322.75 184.06,324.21 184.19,322.76 184.33,323.14 184.46,325.93 184.59,329.10 184.72,324.95 184.85,323.37 184.98,326.32 185.12,323.18 185.25,326.58 185.38,324.69 185.51,327.42 185.64,323.88 185.77,326.37 185.91,326.23 186.04,325.56 186.17,326.97 186.30,325.80 186.62,326.14 186.25,327.28 186.46,326.63 186.66,325.09 186.76,324.94 187.23,321.55 186.96,323.62 186.72,324.93 187.28,327.71 187.52,327.17 186.88,325.14 187.48,323.35 187.80,318.55 187.83,320.30 188.00,323.24 187.79,321.64 188.16,319.10 188.00,321.70 188.13,323.08 188.26,321.92 188.40,319.84 188.53,322.39 188.66,322.75 188.79,324.76 188.92,322.09 189.06,320.86 189.19,318.65 189.32,319.53 189.45,326.41 189.58,324.37 189.72,323.48 189.85,323.90 189.98,321.93 190.11,321.62 190.24,323.23 190.38,324.44 190.51,322.66 190.64,327.27 190.77,326.49 190.90,325.08 191.04,325.39 191.17,324.62 191.30,325.00 191.43,324.76 191.56,324.36 191.69,320.85 191.83,325.50 191.96,321.19 192.09,326.53 192.22,324.66 192.35,321.79 192.48,324.65 192.62,326.26 192.75,322.68 192.88,325.37 193.01,326.52 193.14,325.09 193.27,319.59 193.41,322.54 193.54,321.95 193.67,325.93 193.80,324.20 193.93,325.15 194.06,321.59 194.19,323.43 194.33,322.66 194.46,325.14 194.59,324.38 194.72,322.95 194.85,323.13 194.98,322.95 195.11,322.77 195.24,321.11 195.38,324.89 195.51,324.47 195.64,328.22 195.77,325.46 195.90,326.12 196.03,324.46 196.16,324.05 196.29,322.81 196.43,325.30 196.56,328.30 196.69,327.93 196.82,324.70 196.95,321.78 197.08,321.55 197.21,323.37 197.34,325.52 197.47,326.87 197.61,326.45 197.74,328.59 197.87,327.61 198.00,325.80 198.13,325.29 198.27,327.61 198.40,325.04 198.53,325.59 198.67,324.81 198.80,328.76 198.93,330.00 199.07,328.84 199.20,326.35 199.33,328.86 199.47,325.29 199.60,325.57 199.73,328.20 199.87,326.57 200.00,327.50 201.80,329.45 200.04,326.28 201.74,326.31 199.12,324.53 198.35,330.26 201.50,329.13 200.04,329.09 201.21,328.50 199.79,329.29 199.19,326.28 200.03,328.49 199.10,328.85 201.23,326.59 199.89,330.75 200.47,329.93 201.51,330.53 200.16,329.36 199.62,330.92 200.54,332.10 200.85,333.81 199.37,329.47 201.90,330.38 201.07,333.30 201.37,332.64 201.37,330.41 200.39,331.10 200.80,333.50 200.79,331.87 201.13,331.09 200.52,332.25 200.45,334.42 201.31,331.70 201.02,331.65 200.99,331.05 201.27,331.34 201.50,331.50 201.94,331.67 201.05,330.41 201.95,330.28 202.35,333.41 201.81,335.42 201.89,333.06 200.27,333.35 201.16,335.65 201.75,333.89 202.57,334.54 202.68,336.31 201.95,337.24 201.72,334.69 202.42,334.60 201.88,333.31 201.26,332.72 200.53,331.17 201.74,332.88 202.46,335.30 202.30,335.76 202.12,334.92 202.82,337.60 201.88,336.37 201.60,337.17 201.61,336.60 202.13,338.11 203.22,336.60 200.68,336.34 201.73,337.72 202.20,338.00 202.44,338.87 202.38,339.78 202.47,339.08 202.59,338.04 202.79,339.49 203.00,336.50 203.60,342.50 204.20,340.50 203.22,341.31 205.68,342.63 203.66,341.62 203.65,341.69 204.31,342.16 205.13,342.98 204.88,341.96 203.69,343.16 206.17,343.95 203.47,342.69 204.02,342.07 203.80,341.25 204.32,342.80 203.84,342.77 204.75,346.38 205.44,348.16 204.83,345.70 204.73,345.12 205.53,346.17 204.23,347.15 205.27,346.71 204.97,346.28 203.30,345.89 205.02,343.73 204.68,347.60 205.80,346.84 205.12,344.88 204.89,346.47 203.78,350.21 204.11,350.08 204.88,348.91 204.80,347.50 204.83,345.79 204.78,348.50 204.83,344.65 204.99,343.92 205.67,345.07 205.20,344.91 205.00,347.78 205.11,344.85 205.50,345.50 206.00,352.00 206.60,350.50 207.00,356.00 207.20,360.80" fill="none" stroke="#e78ac3" stroke-width="1.3" stroke-linejoin="round"/><path d="M41.30,281.40 41.53,282.11 41.71,282.43 41.94,282.61 42.16,283.12 42.41,283.87 42.63,285.07 42.84,285.22 43.09,284.72 43.29,285.02 43.50,285.10 43.81,285.82 43.16,285.15 44.38,286.16 43.60,285.57 43.73,286.55 43.84,286.99 44.03,288.06 43.75,288.41 44.66,289.03 44.15,289.51 44.45,288.96 44.40,289.70 44.58,289.35 44.74,287.73 44.93,287.29 45.11,287.60 45.40,287.34 45.53,286.75 45.70,287.00 45.93,285.83 46.03,286.28 46.30,286.00 46.52,285.84 46.75,285.77 46.98,286.72 47.20,285.76 47.42,285.99 47.65,285.53 47.88,285.57 48.10,286.90 48.32,286.53 48.55,287.07 48.78,286.77 49.00,288.37 49.23,288.44 49.45,289.10 49.67,289.83 49.90,289.46 50.12,289.27 50.35,290.04 50.57,290.77 50.80,291.10 51.04,290.62 51.28,290.79 51.51,290.04 51.75,288.99 51.98,288.44 52.23,288.24 52.46,288.95 52.70,288.20 52.93,288.34 53.15,288.45 53.38,288.77 53.60,288.83 53.83,288.80 54.05,288.49 54.27,288.30 54.50,289.52 54.73,289.59 54.95,288.64 55.17,289.01 55.40,288.42 55.62,288.63 55.85,288.38 56.07,288.67 56.30,288.80 56.53,288.49 56.77,288.55 57.00,289.02 57.23,289.37 57.47,288.33 57.70,289.39 57.93,288.25 58.17,288.00 58.40,288.39 58.63,289.18 58.87,289.34 59.10,289.70 59.36,288.85 59.62,289.18 59.88,288.69 60.14,288.20 60.40,287.80 60.64,288.20 60.88,287.63 61.12,288.81 61.36,289.00 61.60,288.43 61.84,288.15 62.08,288.06 62.32,288.31 62.56,288.29 62.80,287.80 63.30,292.40 63.52,292.07 63.75,291.83 63.97,292.86 64.20,292.18 64.42,292.14 64.65,293.22 64.88,292.51 65.10,293.30 65.43,293.58 65.53,295.25 64.90,295.18 65.57,295.94 65.69,296.62 65.19,296.36 65.43,295.80 65.16,296.66 65.64,296.98 65.19,298.03 65.16,297.84 65.69,297.52 65.37,298.52 65.35,298.61 65.38,299.90 65.34,299.66 65.46,300.21 65.70,299.37 65.61,300.13 65.76,300.66 66.04,301.29 66.04,301.97 65.93,302.51 65.83,302.55 66.16,302.14 65.85,303.82 65.90,303.40 66.08,302.97 66.33,302.47 66.59,301.34 66.36,302.12 66.22,300.56 66.44,301.42 66.52,300.46 66.22,300.24 66.91,299.90 67.02,300.08 66.62,299.69 67.45,299.09 67.19,298.94 67.38,297.83 67.58,297.70 67.19,297.15 67.30,297.00 67.54,296.86 67.78,296.76 68.01,296.91 68.25,297.29 68.49,297.47 68.72,297.80 68.96,298.87 69.20,297.90 69.40,299.18 69.80,298.79 68.73,298.72 69.47,299.31 69.79,299.26 69.02,299.02 69.38,299.86 69.69,300.41 69.97,300.93 69.77,300.68 69.71,302.60 70.07,303.16 69.67,303.29 69.58,302.14 69.83,303.57 69.97,303.50 70.06,304.18 70.12,304.58 70.54,304.72 69.95,305.62 70.10,306.31 70.10,306.20 70.60,324.50 70.82,324.65 71.04,324.28 71.26,324.19 71.48,324.05 71.70,323.96 71.92,324.31 72.14,323.89 72.36,323.68 72.58,323.95 72.80,324.10 73.04,323.26 73.28,323.35 73.51,323.49 73.75,323.51 73.99,323.27 74.22,321.71 74.46,322.29 74.70,323.00 74.92,322.84 75.15,322.73 75.38,323.56 75.60,323.58 75.83,323.27 76.05,323.44 76.28,323.86 76.50,324.50 76.72,324.07 76.95,324.23 77.17,325.05 77.40,326.05 77.62,325.58 77.85,325.36 78.08,326.54 78.30,326.30 78.30,303.40 78.25,303.50 78.47,303.79 78.65,304.39 78.81,305.45 78.27,306.06 79.44,306.34 79.24,306.05 78.79,305.98 78.52,306.19 78.83,306.67 78.87,307.84 79.30,308.00 79.52,307.25 79.75,308.74 79.97,308.50 80.20,308.62 80.42,309.82 80.65,309.10 80.88,308.21 81.10,308.90 81.10,308.76 81.28,309.14 81.51,309.06 81.16,309.73 80.76,311.23 81.71,311.05 81.50,311.64 81.65,311.77 81.21,312.48 81.22,312.15 81.30,312.63 81.26,311.76 81.73,312.77 81.13,313.49 81.75,313.74 81.55,313.61 81.73,314.01 81.49,314.89 81.74,315.80 81.91,315.80 81.64,316.89 82.11,316.68 82.04,316.79 81.92,318.10 82.00,318.10 82.22,318.60 82.45,318.51 82.68,318.89 82.90,319.00 82.90,377.70" fill="none" stroke="#a6d854" stroke-width="1.2" stroke-linejoin="round"/></g><g><line x1="307.4" y1="248" x2="307.4" y2="380.8" stroke="#e5e5e5" stroke-width="1"/><line x1="356.2" y1="248" x2="356.2" y2="380.8" stroke="#e5e5e5" stroke-width="1"/><line x1="405" y1="248" x2="405" y2="380.8" stroke="#e5e5e5" stroke-width="1"/><line x1="258.6" y1="270.13" x2="453.8" y2="270.13" stroke="#e5e5e5" stroke-width="1"/><line x1="258.6" y1="292.27" x2="453.8" y2="292.27" stroke="#e5e5e5" stroke-width="1"/><line x1="258.6" y1="314.4" x2="453.8" y2="314.4" stroke="#e5e5e5" stroke-width="1"/><line x1="258.6" y1="336.53" x2="453.8" y2="336.53" stroke="#e5e5e5" stroke-width="1"/><line x1="258.6" y1="358.67" x2="453.8" y2="358.67" stroke="#e5e5e5" stroke-width="1"/><rect x="258.6" y="248" width="195.2" height="132.8" fill="none" stroke="#d4d4d4" stroke-width="1.1"/></g><text x="356.20" y="245.00" text-anchor="middle" font-size="9.03" font-weight="bold" fill="#111" stroke="#111" stroke-width="0.12" textLength="53.52" lengthAdjust="spacingAndGlyphs">ciprofloxacin</text><clipPath id="cp10"><rect x="258.6" y="247" width="195.2" height="133.8"/></clipPath><g clip-path="url(#cp10)"><path d="M259.10,261.00 259.18,259.62 259.31,259.88 259.30,262.35 259.54,261.58 259.70,260.53 260.08,261.80 259.95,262.91 259.98,264.39 260.25,262.59 260.23,262.27 260.31,262.18 260.69,265.20 260.66,268.64 260.79,265.53 260.93,265.79 261.03,266.46 261.33,263.10 261.30,265.10 261.43,263.66 261.57,266.58 261.70,265.08 261.84,265.38 261.97,262.45 262.11,262.59 262.24,264.96 262.38,266.14 262.51,265.16 262.65,265.47 262.78,262.23 262.92,264.29 263.05,263.81 263.18,263.05 263.32,265.13 263.45,264.52 263.59,263.58 263.72,264.08 263.86,264.28 263.99,264.53 264.13,265.24 264.26,264.62 264.40,266.70 264.53,268.55 264.67,268.27 264.80,265.50 264.94,265.92 265.07,264.60 265.21,265.90 265.35,265.36 265.48,267.85 265.62,266.80 265.76,266.85 265.89,265.15 266.03,265.82 266.17,263.93 266.31,262.63 266.44,265.04 266.58,263.67 266.72,264.07 266.85,266.74 266.99,268.88 267.13,267.07 267.26,265.64 267.40,266.00 267.53,267.09 267.67,267.87 267.80,267.36 267.94,264.79 268.07,264.47 268.21,266.86 268.34,264.08 268.48,265.01 268.61,267.23 268.75,267.63 268.88,264.91 269.02,264.50 269.15,264.44 269.28,262.85 269.42,264.25 269.55,263.13 269.69,265.14 269.82,262.97 269.96,262.89 270.09,262.87 270.23,263.89 270.36,260.00 270.50,264.32 270.63,263.80 270.77,264.18 270.90,264.00 271.03,266.27 271.16,265.08 271.29,265.43 271.42,265.18 271.55,266.39 271.68,266.65 271.81,267.60 271.94,266.00 272.07,263.89 272.20,265.45 272.33,263.80 272.46,265.14 272.59,265.18 272.72,262.27 272.85,264.34 272.98,264.06 273.11,263.55 273.24,262.67 273.37,266.14 273.50,267.00 273.63,267.77 273.77,265.38 273.90,264.67 274.03,264.76 274.17,264.44 274.30,267.00 274.43,265.28 274.57,267.89 274.70,263.24 274.83,262.58 274.97,266.72 275.10,266.15 275.23,263.19 275.37,269.18 275.50,268.77 275.63,268.01 275.77,262.99 275.90,266.90 276.03,266.72 276.17,266.37 276.30,265.88 276.43,263.39 276.57,263.51 276.70,266.24 276.83,268.10 276.97,268.25 277.10,267.86 277.23,267.39 277.37,267.75 277.50,270.67 277.63,268.15 277.77,264.56 277.90,266.80 278.03,266.66 278.17,266.08 278.30,264.65 278.43,263.89 278.57,266.99 278.70,265.68 278.83,266.03 278.97,265.06 279.10,268.07 279.23,266.54 279.37,265.99 279.50,263.99 279.63,263.76 279.77,267.57 279.90,265.45 280.03,268.09 280.17,268.18 280.30,267.95 280.43,267.70 280.57,267.26 280.70,269.04 280.83,267.94 280.97,265.06 281.10,265.91 281.23,269.28 281.37,265.93 281.50,266.68 281.63,266.88 281.77,268.93 281.90,266.37 282.03,269.24 282.17,266.15 282.30,267.30 282.43,267.09 282.57,265.29 282.70,266.84 282.83,266.10 282.97,264.33 283.10,266.74 283.23,265.40 283.37,267.73 283.50,263.16 283.63,268.44 283.77,267.45 283.90,270.23 284.03,269.50 284.17,268.08 284.30,267.16 284.43,266.39 284.57,268.12 284.70,267.27 284.83,264.79 284.97,266.00 285.10,267.69 285.23,267.59 285.37,267.83 285.50,268.24 285.63,263.55 285.77,266.25 285.90,269.40 286.03,268.80 286.17,267.20 286.30,265.33 286.43,265.51 286.57,269.71 286.70,266.80 286.83,267.32 286.96,268.17 287.09,267.48 287.22,268.43 287.35,265.71 287.48,263.55 287.61,265.42 287.74,266.90 287.87,262.90 288.00,265.46 288.13,267.09 288.26,267.03 288.39,266.72 288.52,264.08 288.65,264.91 288.78,264.74 288.92,267.91 289.05,268.13 289.18,268.64 289.31,265.32 289.44,264.75 289.57,267.08 289.70,267.50 289.83,269.45 289.96,267.42 290.09,266.70 290.22,268.85 290.35,266.87 290.48,266.85 290.61,269.66 290.74,271.28 290.87,268.58 291.00,268.10 291.13,266.10 291.27,266.62 291.40,263.55 291.53,267.80 291.67,270.95 291.80,269.96 291.93,267.57 292.07,266.41 292.20,267.10 292.33,268.65 292.47,270.30 292.60,271.46 292.73,272.85 292.87,271.08 293.00,271.78 293.13,265.71 293.27,265.80 293.40,268.24 293.53,267.15 293.67,267.95 293.80,269.02 293.93,270.42 294.07,270.03 294.20,269.96 294.33,269.29 294.47,270.31 294.60,271.78 294.73,269.48 294.87,270.23 295.00,270.16 295.13,269.53 295.27,268.04 295.40,269.50 295.53,268.00 295.67,268.39 295.80,270.08 295.93,270.67 296.07,271.47 296.20,270.32 296.33,268.01 296.47,269.70 296.60,266.31 296.73,270.16 296.87,272.99 297.00,269.38 297.13,268.81 297.27,265.96 297.40,268.21 297.53,268.72 297.67,269.98 297.80,270.78 297.93,270.04 298.07,272.13 298.20,272.44 298.33,270.36 298.47,271.47 298.60,268.48 298.73,266.68 298.87,266.85 299.00,272.04 299.13,269.15 299.27,268.27 299.40,269.29 299.53,269.87 299.67,271.53 299.80,270.30 299.93,272.89 300.07,270.99 300.20,269.89 300.33,268.99 300.47,268.49 300.60,268.28 300.73,268.93 300.87,270.29 301.00,272.01 301.13,272.16 301.27,270.94 301.40,272.09 301.53,269.59 301.67,273.05 301.80,272.93 301.93,274.71 302.07,272.50 302.20,269.41 302.33,273.54 302.47,271.57 302.60,269.55 302.73,266.94 302.87,266.25 303.00,269.78 303.13,271.58 303.27,270.46 303.40,273.87 303.53,272.08 303.67,272.72 303.80,270.01 303.93,269.28 304.07,268.66 304.20,271.20 304.33,271.40 304.47,271.51 304.60,271.43 304.73,271.96 304.87,271.70 305.00,272.15 305.13,267.08 305.27,271.15 305.40,272.60 305.53,273.75 305.67,272.55 305.80,270.75 305.93,269.39 306.07,272.68 306.20,270.88 306.33,273.06 306.47,272.83 306.60,270.77 306.73,271.94 306.87,274.30 307.00,273.35 307.13,269.88 307.27,271.53 307.40,271.52 307.53,272.45 307.67,272.22 307.80,273.31 307.93,271.72 308.07,272.38 308.20,274.21 308.33,274.03 308.47,273.53 308.60,272.50 308.73,273.53 308.86,274.84 308.99,275.22 309.12,274.64 309.25,270.51 309.38,269.84 309.51,270.67 309.64,272.12 309.77,270.83 309.90,269.53 310.03,271.59 310.16,270.96 310.29,270.59 310.42,270.94 310.55,270.69 310.68,272.61 310.82,274.39 310.95,273.00 311.08,271.54 311.21,273.72 311.34,272.21 311.47,272.57 311.60,272.40 311.73,272.08 311.86,276.14 311.99,275.52 312.12,276.37 312.25,276.86 312.38,275.18 312.51,270.77 312.64,273.79 312.77,275.11 312.90,273.80 313.03,271.72 313.17,271.80 313.30,275.31 313.44,275.53 313.57,276.15 313.71,273.31 313.84,275.02 313.98,274.24 314.11,275.32 314.25,272.13 314.38,273.17 314.52,270.01 314.65,271.18 314.79,272.31 314.92,273.30 315.06,273.07 315.19,272.80 315.33,274.69 315.46,274.22 315.60,271.98 315.73,274.31 315.87,276.50 316.00,274.60 316.13,275.02 316.27,273.33 316.40,275.48 316.54,275.48 316.67,272.49 316.81,273.76 316.94,273.73 317.08,276.89 317.21,275.26 317.35,273.32 317.48,274.80 317.62,275.94 317.75,272.90 317.88,273.92 318.02,273.88 318.15,275.33 318.29,275.30 318.42,273.91 318.56,274.62 318.69,274.60 318.83,272.69 318.96,272.53 319.10,274.90 319.23,275.68 319.37,277.56 319.50,274.60 319.63,275.78 319.77,275.85 319.90,273.64 320.04,276.11 320.17,274.13 320.31,273.92 320.44,275.37 320.58,274.48 320.71,278.46 320.85,275.88 320.98,274.06 321.12,274.91 321.25,276.60 321.38,275.16 321.52,277.05 321.65,277.85 321.79,274.89 321.92,276.65 322.06,276.78 322.19,277.02 322.33,277.31 322.46,277.80 322.60,276.85 322.73,277.68 322.87,276.77 323.00,277.50 323.13,278.54 323.27,278.52 323.40,278.83 323.54,277.77 323.67,277.53 323.81,276.72 323.94,275.84 324.08,277.06 324.21,274.81 324.35,277.97 324.48,277.88 324.62,275.07 324.75,276.86 324.88,278.48 325.02,278.84 325.15,277.07 325.29,277.08 325.42,274.61 325.56,276.49 325.69,277.56 325.83,277.42 325.96,276.97 326.10,276.73 326.23,277.22 326.37,275.44 326.50,276.40 326.63,273.87 326.76,274.48 326.90,278.05 327.03,278.35 327.16,277.13 327.30,274.46 327.43,276.17 327.56,275.29 327.69,279.52 327.82,278.18 327.96,275.83 328.09,274.89 328.22,275.55 328.36,275.21 328.49,275.30 328.62,274.99 328.75,276.10 328.88,277.60 329.02,275.89 329.15,276.41 329.28,276.40 329.42,273.94 329.55,275.34 329.68,275.89 329.81,274.70 329.94,275.37 330.08,276.42 330.21,275.53 330.34,276.20 330.48,277.41 330.61,277.80 330.74,278.54 330.87,278.58 331.00,277.41 331.14,276.90 331.27,276.32 331.40,278.16 331.54,279.52 331.67,276.99 331.80,276.40 331.94,278.55 332.07,278.65 332.21,277.76 332.35,278.14 332.48,277.78 332.62,279.22 332.76,278.32 332.89,276.91 333.03,277.82 333.17,276.45 333.31,278.38 333.44,278.30 333.58,279.06 333.72,280.35 333.85,279.75 333.99,278.79 334.13,278.26 334.26,276.03 334.40,279.30 334.53,277.83 334.66,276.80 334.79,278.61 334.92,278.04 335.05,279.79 335.18,279.53 335.31,277.38 335.44,277.52 335.57,277.77 335.70,279.56 335.83,279.39 335.96,278.66 336.09,277.50 336.22,277.92 336.35,276.96 336.48,279.18 336.61,279.20 336.74,277.60 336.87,277.64 337.00,278.10 337.13,278.83 337.27,280.98 337.40,277.38 337.54,276.56 337.67,278.89 337.81,278.34 337.94,278.27 338.08,278.58 338.21,276.64 338.35,277.45 338.48,277.15 338.62,276.04 338.75,278.37 338.89,276.30 339.02,273.95 339.16,275.46 339.29,273.39 339.43,274.21 339.56,272.67 339.70,274.60 339.83,275.11 339.97,273.62 340.10,275.30 340.24,276.53 340.38,275.87 340.51,275.84 340.65,277.48 340.79,277.07 340.93,277.45 341.06,276.45 341.20,275.70 341.34,275.50 341.48,276.60 341.61,275.99 341.75,276.98 341.89,276.37 342.03,274.81 342.16,274.63 342.30,277.30 342.43,276.72 342.57,277.32 342.70,275.50 342.84,277.49 342.97,276.17 343.11,277.20 343.24,275.94 343.38,275.40 343.51,276.97 343.65,278.54 343.78,280.15 343.92,278.21 344.05,277.43 344.18,276.29 344.32,276.42 344.45,278.49 344.59,277.19 344.72,280.31 344.86,278.30 344.99,277.94 345.13,280.90 345.26,281.14 345.40,279.20 345.53,280.18 345.67,279.65 345.80,279.90 345.93,280.13 346.07,279.21 346.20,278.61 346.34,280.28 346.47,278.89 346.61,280.25 346.74,280.43 346.88,280.39 347.01,280.02 347.15,279.17 347.28,279.46 347.42,281.59 347.55,280.68 347.68,278.93 347.82,280.15 347.95,279.20 348.09,281.07 348.22,279.47 348.36,281.12 348.49,278.84 348.63,278.97 348.76,277.37 348.90,279.28 349.03,278.70 349.17,280.58 349.30,280.30 349.43,281.33 349.56,280.73 349.69,280.65 349.82,279.93 349.95,280.07 350.08,280.46 350.22,281.17 350.35,282.89 350.48,282.93 350.61,282.20 350.74,282.76 350.87,282.67 351.00,282.30 351.13,282.23 351.27,281.71 351.40,280.15 351.54,282.94 351.67,281.62 351.81,283.32 351.94,283.19 352.08,283.57 352.21,282.09 352.35,280.61 352.48,281.50 352.62,281.30 352.75,281.69 352.88,281.29 353.02,281.53 353.15,282.11 353.29,282.91 353.42,282.60 353.56,285.93 353.69,283.82 353.83,284.21 353.96,283.88 354.10,283.20 354.23,283.03 354.37,284.09 354.50,283.00 354.63,282.29 354.77,283.04 354.90,282.96 355.03,283.67 355.17,282.66 355.30,282.72 355.43,284.89 355.57,283.81 355.70,283.49 355.83,282.23 355.97,283.36 356.10,282.83 356.23,284.48 356.37,282.70 356.50,282.91 356.63,282.85 356.77,283.20 356.90,282.61 357.03,281.71 357.17,282.47 357.30,283.94 357.43,283.95 357.57,285.27 357.70,283.16 357.83,282.26 357.97,285.94 358.10,285.83 358.23,285.04 358.37,284.78 358.50,281.93 358.63,281.88 358.77,281.52 358.90,283.60 359.03,282.83 359.16,285.13 359.29,283.28 359.42,281.86 359.55,282.45 359.68,284.44 359.81,284.67 359.94,283.83 360.07,282.50 360.20,281.68 360.33,281.87 360.46,281.95 360.59,281.48 360.72,283.04 360.85,283.05 360.98,281.10 361.11,282.57 361.24,281.57 361.37,282.78 361.50,281.60 361.63,281.02 361.77,280.64 361.90,281.33 362.04,282.34 362.17,279.97 362.31,280.15 362.44,281.58 362.58,281.27 362.71,282.31 362.85,283.49 362.98,283.23 363.12,281.27 363.25,281.49 363.38,280.98 363.52,280.44 363.65,280.94 363.79,280.95 363.92,279.48 364.06,279.94 364.19,280.20 364.33,281.30 364.46,282.26 364.60,280.47 364.73,280.49 364.87,280.06 365.00,280.80 365.13,283.00 365.26,281.75 365.40,281.32 365.53,281.39 365.66,281.33 365.80,279.64 365.93,281.92 366.06,281.46 366.19,278.61 366.32,280.03 366.46,280.14 366.59,280.39 366.72,279.41 366.86,279.07 366.99,281.35 367.12,281.01 367.25,280.79 367.38,280.87 367.52,281.68 367.65,281.20 367.78,279.95 367.92,278.98 368.05,278.14 368.18,280.32 368.31,279.75 368.44,281.58 368.58,281.55 368.71,281.27 368.84,282.77 368.98,280.24 369.11,281.90 369.24,283.10 369.37,281.92 369.50,282.37 369.64,280.04 369.77,280.89 369.90,280.57 370.04,281.92 370.17,281.94 370.30,281.60 370.43,283.25 370.57,280.33 370.70,280.19 370.84,281.38 370.97,281.65 371.11,282.27 371.24,282.65 371.38,282.10 371.51,284.04 371.65,281.11 371.78,282.07 371.92,282.92 372.05,281.77 372.19,283.09 372.32,282.84 372.46,281.69 372.59,281.44 372.73,282.92 372.86,284.75 373.00,284.27 373.13,283.63 373.27,281.81 373.40,283.20 373.53,282.53 373.67,283.87 373.80,282.81 373.93,283.45 374.07,282.00 374.20,283.00 374.40,291.00 374.69,290.48 374.63,289.73 374.89,290.57 374.86,291.24 375.00,292.70 375.10,292.16 375.20,292.60 375.33,293.22 375.46,291.85 375.59,293.62 375.72,292.52 375.86,292.75 375.99,292.11 376.12,293.08 376.25,292.95 376.38,292.46 376.51,292.70 376.64,293.34 376.77,292.51 376.90,292.65 377.03,292.34 377.17,293.00 377.30,292.06 377.43,291.13 377.56,291.97 377.69,291.78 377.82,291.81 377.95,292.30 378.08,293.42 378.21,292.86 378.34,292.68 378.48,292.68 378.61,292.98 378.74,293.46 378.87,291.64 379.00,292.60 378.70,293.17 379.19,293.98 378.99,294.38 379.42,293.65 379.27,294.13 379.59,293.57 379.00,292.70 378.83,293.73 380.05,294.05 379.58,294.58 379.48,293.26 379.84,295.33 379.78,294.28 379.77,293.45 380.28,294.17 379.92,293.90 380.53,293.99 379.83,296.66 380.06,298.07 381.02,296.87 380.61,296.73 380.23,296.57 380.53,298.40 380.60,298.00 380.74,299.22 380.88,298.11 381.01,298.36 381.15,299.46 381.29,298.37 381.43,297.69 381.56,297.34 381.70,297.59 381.84,298.59 381.98,298.68 382.11,297.65 382.25,299.38 382.39,300.34 382.53,301.42 382.66,299.54 382.80,299.00 382.93,299.57 383.07,300.06 383.20,301.37 383.33,300.68 383.47,298.54 383.60,300.20 383.73,300.03 383.87,300.18 384.00,299.67 384.13,300.68 384.27,300.35 384.40,299.98 384.53,298.90 384.67,300.37 384.80,299.70 384.93,299.88 385.07,299.09 385.20,299.71 385.33,298.30 385.47,300.49 385.60,300.62 385.73,300.02 385.87,298.83 386.00,299.60 386.14,299.52 386.22,299.31 386.42,300.11 386.54,301.39 386.65,300.67 386.75,300.01 386.87,300.17 386.88,301.07 387.07,300.12 387.19,301.59 387.30,302.79 387.42,301.74 387.55,303.12 387.68,302.75 387.88,303.57 387.93,303.62 388.04,303.42 388.20,303.60 388.33,304.90 388.47,305.13 388.60,305.01 388.73,304.39 388.87,303.00 389.00,302.11 389.13,303.04 389.27,302.88 389.40,303.79 389.53,304.14 389.67,304.76 389.80,303.40 389.59,301.99 389.61,302.90 390.47,302.06 390.52,302.44 390.05,301.67 389.45,301.50 390.14,300.20 390.24,301.88 389.89,302.77 390.14,303.18 390.42,300.62 390.46,300.00 390.20,301.26 390.90,301.19 391.04,300.34 390.53,298.52 391.31,300.04 390.56,299.78 391.18,299.39 390.90,299.00 391.03,298.51 391.16,298.95 391.29,300.13 391.42,299.84 391.56,300.04 391.69,298.69 391.82,297.99 391.95,300.06 392.08,300.55 392.21,299.96 392.34,298.47 392.47,298.13 392.60,298.22 392.73,299.32 392.87,298.04 393.00,299.32 393.13,298.44 393.26,298.76 393.39,299.50 393.52,299.05 393.65,298.36 393.78,299.51 393.91,298.42 394.04,299.08 394.18,299.67 394.31,299.06 394.44,298.57 394.57,300.01 394.70,300.10 394.83,300.53 394.96,299.69 395.09,299.92 395.22,300.21 395.35,299.90 395.48,299.17 395.61,297.66 395.74,299.88 395.87,300.03 396.00,297.24 396.13,299.55 396.26,300.59 396.39,299.41 396.52,299.26 396.65,297.28 396.78,298.78 396.92,299.20 397.05,297.72 397.18,296.88 397.31,297.61 397.44,296.33 397.57,298.23 397.70,299.12 397.83,299.18 397.96,299.80 398.09,299.50 398.22,298.58 398.35,297.40 398.48,298.28 398.61,297.44 398.74,297.64 398.87,297.86 399.00,298.00 399.13,297.96 399.26,299.15 399.39,298.46 399.52,299.22 399.65,299.27 399.78,297.67 399.91,298.49 400.04,297.71 400.17,299.78 400.30,297.68 400.43,299.56 400.56,299.88 400.69,299.33 400.82,299.45 400.95,300.62 401.08,300.78 401.22,299.63 401.35,298.85 401.48,297.55 401.61,299.40 401.74,299.28 401.87,298.41 402.00,296.74 402.13,297.05 402.26,296.35 402.39,296.60 402.52,298.59 402.65,299.13 402.78,298.24 402.91,298.50 403.04,299.27 403.17,300.55 403.30,298.50 403.43,299.49 403.56,299.01 403.70,298.93 403.83,298.76 403.96,299.87 404.09,299.97 404.22,298.83 404.36,300.40 404.49,297.94 404.62,299.98 404.75,299.41 404.88,298.68 405.02,298.14 405.15,299.32 405.28,298.05 405.41,299.79 405.54,300.27 405.68,300.48 405.81,299.23 405.94,300.04 406.07,298.18 406.20,299.54 406.34,298.35 406.47,298.92 406.60,300.10 406.74,300.70 406.87,300.88 407.00,299.59 407.14,299.74 407.28,299.95 407.41,299.16 407.55,300.34 407.68,300.86 407.81,301.33 407.95,302.92 408.09,302.45 408.22,302.12 408.36,302.22 408.49,300.84 408.62,303.15 408.76,302.28 408.90,300.32 409.03,300.56 409.17,301.06 409.30,300.70 409.43,299.97 409.56,300.65 409.69,300.92 409.82,302.54 409.96,300.61 410.09,299.91 410.22,299.09 410.35,299.73 410.48,300.02 410.61,298.56 410.74,300.30 410.88,299.82 411.01,298.73 411.14,299.10 411.27,298.40 411.40,299.00 411.60,299.25 411.63,300.03 411.25,299.85 411.86,299.19 411.71,299.08 411.72,298.93 412.09,299.83 411.95,298.99 412.17,301.63 412.23,303.01 412.01,302.51 412.17,302.18 412.32,302.23 412.66,301.68 412.50,302.30 412.85,303.04 412.55,301.70 412.24,301.88 412.54,303.76 412.76,304.45 412.55,303.60 412.76,303.21 412.95,305.55 413.28,304.49 412.54,305.06 412.75,305.26 413.22,304.42 413.94,307.52 413.86,306.17 413.33,303.71 413.54,303.99 412.86,305.60 413.39,305.52 413.23,306.10 413.36,306.75 413.42,307.84 413.38,305.91 412.84,305.99 413.53,306.90 414.21,307.00 413.62,306.44 413.50,306.36 413.99,307.66 414.18,308.60 414.50,309.05 414.82,309.14 414.44,309.37 413.73,309.91 414.10,309.80 414.33,309.82 413.92,309.40 414.15,308.88 414.42,311.56 414.23,310.08 414.36,313.51 414.53,312.52 414.56,311.56 414.70,312.02 415.21,311.97 414.97,312.55 415.26,312.78 415.60,314.22 415.20,313.00 415.34,311.50 415.47,310.73 415.61,312.77 415.75,309.33 415.89,308.88 416.02,310.60 416.16,308.18 416.30,311.86 416.44,312.48 416.57,310.87 416.71,309.71 416.85,309.75 416.99,310.52 417.12,310.35 417.26,308.05 417.40,309.80 417.53,311.18 417.66,312.28 417.79,312.63 417.92,310.53 418.06,312.21 418.19,309.85 418.32,309.24 418.45,311.60 418.58,314.23 418.71,311.36 418.84,309.20 418.98,311.32 419.11,309.70 419.24,313.44 419.37,312.83 419.50,311.50 419.64,310.86 419.77,309.19 419.91,314.12 420.05,312.24 420.19,312.07 420.32,314.29 420.46,315.55 420.60,314.41 420.74,312.97 420.88,313.26 421.01,312.56 421.15,312.15 421.29,314.39 421.43,315.10 421.56,312.97 421.70,313.60 421.83,312.19 421.96,314.70 422.09,316.08 422.23,315.67 422.36,315.02 422.49,315.74 422.62,318.33 422.75,317.38 422.88,316.19 423.01,318.04 423.14,315.13 423.27,316.45 423.41,316.64 423.54,315.18 423.67,314.21 423.80,316.30 423.94,316.20 424.07,316.77 424.21,313.06 424.35,314.96 424.49,316.34 424.62,318.66 424.76,318.39 424.90,317.26 425.04,316.64 425.18,318.78 425.31,317.27 425.45,317.23 425.59,317.41 425.73,316.51 425.86,317.59 426.00,317.20 426.14,318.07 426.27,316.96 426.41,316.39 426.55,315.14 426.69,317.91 426.82,316.39 426.96,313.79 427.10,312.33 427.24,313.66 427.38,317.02 427.51,314.20 427.65,316.37 427.79,316.43 427.93,317.10 428.06,316.89 428.20,316.30 428.33,314.30 428.47,313.86 428.60,315.72 428.74,316.89 428.88,315.36 429.01,315.45 429.14,318.92 429.28,315.99 429.41,318.82 429.55,318.33 429.69,317.30 429.82,315.34 429.95,318.61 430.09,312.05 430.22,316.36 430.36,316.26 430.50,313.56 430.63,313.92 430.76,316.79 430.90,315.80 431.40,350.80 431.53,349.02 431.66,349.51 431.79,351.65 431.92,352.20 432.05,349.96 432.18,350.60 432.31,349.59 432.44,350.05 432.57,351.35 432.70,350.25 432.83,350.13 432.96,348.05 433.09,353.20 433.22,351.16 433.35,350.13 433.48,350.85 433.61,353.49 433.74,352.88 433.87,353.39 434.00,351.60 434.13,350.07 434.27,347.56 434.40,348.36 434.54,350.03 434.67,348.49 434.81,352.31 434.94,350.16 435.08,351.33 435.21,351.41 435.35,351.61 435.48,350.19 435.62,354.83 435.75,352.22 435.88,353.14 436.02,349.05 436.15,350.85 436.29,351.43 436.42,351.23 436.56,351.71 436.69,352.37 436.83,351.74 436.96,350.94 437.10,352.61 437.23,348.75 437.37,349.89 437.50,351.60 437.63,352.76 437.77,352.88 437.90,353.94 438.04,354.32 438.17,351.88 438.31,351.78 438.44,351.62 438.58,350.97 438.71,353.50 438.85,355.32 438.98,355.07 439.12,355.17 439.25,353.32 439.38,352.02 439.52,353.46 439.65,351.85 439.79,350.93 439.92,351.40 440.06,356.18 440.19,353.79 440.33,352.30 440.46,354.03 440.60,356.63 440.73,352.57 440.87,354.79 441.00,353.40 441.13,350.49 441.26,353.92 441.39,353.80 441.52,356.09 441.65,353.98 441.78,352.49 441.91,353.51 442.04,355.07 442.17,352.21 442.30,357.74 442.43,356.19 442.56,354.12 442.69,354.81 442.82,353.64 442.95,353.63 443.08,353.86 443.21,356.47 443.34,357.16 443.47,356.03 443.60,356.00 444.20,360.40" fill="none" stroke="#e78ac3" stroke-width="1.3" stroke-linejoin="round"/><path d="M259.30,262.00 259.39,262.76 259.49,263.10 259.70,263.00 259.82,263.28 260.00,263.45 260.14,264.77 260.19,265.13 260.26,264.95 260.55,264.87 260.54,265.31 260.84,265.58 260.87,267.19 260.90,267.36 260.99,268.52 261.23,268.55 261.44,268.29 261.60,267.78 261.67,268.09 261.80,269.20 261.98,269.29 261.79,270.24 262.16,270.51 262.35,270.77 262.43,270.83 262.54,270.85 262.55,271.15 262.78,271.69 262.86,272.69 262.95,273.25 263.34,274.56 263.27,274.11 263.33,275.21 263.69,275.71 263.68,275.72 263.95,276.18 263.79,275.67 264.00,275.90 263.96,276.25 264.23,276.80 264.53,277.16 264.42,277.60 264.52,277.92 264.63,278.46 264.81,278.99 264.59,279.54 264.90,279.81 265.16,279.73 265.16,279.60 264.96,280.09 265.44,280.64 265.39,281.62 265.30,282.65 265.38,282.77 265.56,282.78 265.97,283.08 266.00,283.41 266.00,283.50 266.23,283.91 266.45,283.97 266.68,284.09 266.91,283.97 267.14,283.90 267.36,283.77 267.59,283.68 267.82,283.19 268.05,283.82 268.27,284.36 268.50,284.10 268.73,283.25 268.95,282.71 269.18,282.73 269.41,282.67 269.64,282.92 269.86,282.80 270.09,283.04 270.32,283.16 270.55,282.65 270.77,281.99 271.00,281.60 271.23,281.96 271.46,281.10 271.69,281.68 271.92,282.46 272.15,282.51 272.38,282.99 272.61,282.91 272.84,282.62 273.07,282.22 273.30,283.00 273.53,282.60 273.77,283.45 274.00,282.40 274.23,282.94 274.47,282.63 274.70,282.17 274.93,283.17 275.17,283.44 275.40,282.51 275.63,281.76 275.87,281.47 276.10,282.60 276.32,282.29 276.55,282.84 276.77,283.03 276.99,282.85 277.22,282.77 277.44,282.76 277.66,282.99 277.88,283.20 278.11,284.13 278.33,284.06 278.55,284.57 278.78,284.56 279.00,284.50 279.22,284.01 279.45,284.45 279.67,284.12 279.89,284.16 280.12,284.87 280.34,285.55 280.56,285.03 280.78,286.00 281.01,285.56 281.23,286.01 281.45,287.01 281.68,286.44 281.90,287.40 282.12,286.97 282.35,287.27 282.57,287.29 282.79,287.42 283.02,287.39 283.24,287.83 283.46,287.59 283.68,288.16 283.91,287.72 284.13,286.97 284.35,288.00 284.58,287.51 284.80,288.30 285.03,288.05 285.27,288.39 285.50,287.72 285.73,287.91 285.97,288.04 286.20,287.88 286.43,288.31 286.67,287.44 286.90,287.19 287.13,286.72 287.37,286.80 287.60,286.40 287.82,286.25 288.05,286.16 288.27,286.82 288.49,286.67 288.72,287.06 288.94,287.46 289.16,286.95 289.38,286.53 289.61,286.95 289.83,287.26 290.05,287.38 290.28,287.78 290.50,287.40 290.73,287.79 290.97,287.79 291.20,287.65 291.43,287.45 291.67,288.42 291.90,288.31 292.13,288.60 292.37,288.88 292.60,288.07 292.83,287.80 293.07,288.17 293.30,288.12 293.53,288.55 293.77,288.99 294.00,288.30 294.30,304.60 294.53,304.55 294.76,303.67 294.99,304.45 295.22,304.28 295.45,304.61 295.68,304.40 295.91,304.47 296.14,304.55 296.36,304.57 296.59,304.51 296.82,304.62 297.05,304.80 297.28,305.53 297.51,305.52 297.74,305.70 297.97,305.13 298.20,304.60 298.42,304.80 298.65,304.86 298.87,304.75 299.09,305.22 299.32,304.08 299.54,304.04 299.76,304.59 299.99,304.20 300.21,304.90 300.44,304.68 300.66,304.56 300.88,304.85 301.11,305.03 301.33,305.12 301.55,305.11 301.78,304.79 302.00,304.86 302.22,304.74 302.45,304.51 302.67,304.87 302.89,304.87 303.12,304.60 303.34,304.48 303.56,304.73 303.79,304.78 304.01,305.31 304.24,306.11 304.46,305.28 304.68,305.29 304.91,305.71 305.13,305.75 305.35,306.07 305.58,305.56 305.80,305.20 306.02,305.99 306.24,305.49 306.46,305.96 306.68,305.71 306.91,304.40 307.13,304.37 307.35,304.96 307.57,304.49 307.79,305.16 308.01,305.58 308.23,305.50 308.45,304.92 308.68,304.97 308.90,305.07 309.12,305.04 309.34,305.17 309.56,305.95 309.78,305.81 310.00,305.41 310.22,305.58 310.45,305.36 310.67,305.45 310.89,304.72 311.11,304.29 311.33,305.11 311.55,304.49 311.77,304.49 311.99,304.24 312.22,304.54 312.44,305.11 312.66,305.35 312.88,305.52 313.10,305.60 313.50,325.70 313.72,325.64 313.95,325.71 314.17,325.86 314.39,326.12 314.62,325.35 314.84,325.41 315.06,325.65 315.29,325.69 315.51,325.15 315.74,325.71 315.96,325.14 316.18,324.77 316.41,324.69 316.63,323.94 316.85,324.30 317.08,323.53 317.30,323.80 317.53,323.44 317.76,323.21 317.99,323.25 318.22,323.20 318.45,324.00 318.68,323.28 318.91,323.16 319.14,323.05 319.36,323.21 319.59,323.63 319.82,324.14 320.05,324.39 320.28,324.19 320.51,323.40 320.74,323.18 320.97,323.50 321.20,322.80 321.43,323.61 321.67,323.22 321.90,323.01 322.13,322.46 322.37,322.85 322.60,323.09 322.83,322.39 323.07,322.85 323.30,322.61 323.53,322.89 323.77,323.69 324.00,322.80 324.20,324.18 324.20,323.76 324.29,323.64 324.38,324.34 324.58,324.70 324.76,324.97 324.65,325.25 324.89,325.52 324.68,326.78 325.00,326.70 325.40,354.50 325.59,354.75 325.90,355.66 326.07,355.77 326.21,355.77 326.48,356.64 326.68,356.61 326.90,357.30 327.02,356.75 327.33,356.08 327.38,356.63 327.60,355.55 327.72,354.79 327.90,355.00 327.95,355.04 327.89,355.09 328.18,355.65 328.06,355.58 328.04,355.53 328.77,356.87 328.45,357.83 328.70,357.80 328.80,358.30" fill="none" stroke="#a6d854" stroke-width="1.2" stroke-linejoin="round"/></g><g><line x1="525.4" y1="248" x2="525.4" y2="380.8" stroke="#e5e5e5" stroke-width="1"/><line x1="574.2" y1="248" x2="574.2" y2="380.8" stroke="#e5e5e5" stroke-width="1"/><line x1="623" y1="248" x2="623" y2="380.8" stroke="#e5e5e5" stroke-width="1"/><line x1="476.6" y1="270.13" x2="671.8" y2="270.13" stroke="#e5e5e5" stroke-width="1"/><line x1="476.6" y1="292.27" x2="671.8" y2="292.27" stroke="#e5e5e5" stroke-width="1"/><line x1="476.6" y1="314.4" x2="671.8" y2="314.4" stroke="#e5e5e5" stroke-width="1"/><line x1="476.6" y1="336.53" x2="671.8" y2="336.53" stroke="#e5e5e5" stroke-width="1"/><line x1="476.6" y1="358.67" x2="671.8" y2="358.67" stroke="#e5e5e5" stroke-width="1"/><rect x="476.6" y="248" width="195.2" height="132.8" fill="none" stroke="#d4d4d4" stroke-width="1.1"/></g><text x="574.20" y="245.00" text-anchor="middle" font-size="9.03" font-weight="bold" fill="#111" stroke="#111" stroke-width="0.12" textLength="49.71" lengthAdjust="spacingAndGlyphs">clindamycin</text><clipPath id="cp20"><rect x="476.6" y="247" width="195.2" height="133.8"/></clipPath><g clip-path="url(#cp20)"><path d="M477.30,257.70 477.50,274.00 477.90,270.00 477.65,272.60 477.23,271.71 478.69,270.96 477.79,274.16 478.21,271.26 479.04,266.34 478.68,271.15 478.43,273.62 478.97,273.11 478.53,274.08 479.04,270.79 478.47,272.89 479.22,275.16 479.09,274.79 479.69,275.05 479.80,273.63 479.30,273.90 479.44,274.44 479.57,275.00 479.71,277.34 479.85,275.74 479.98,275.62 480.12,273.77 480.26,274.21 480.39,274.69 480.53,273.63 480.67,273.02 480.81,275.87 480.94,277.20 481.08,274.00 481.22,273.39 481.35,275.94 481.49,277.54 481.63,274.08 481.76,274.10 481.90,275.20 482.03,277.06 482.16,279.59 482.29,278.65 482.42,274.30 482.55,277.42 482.68,276.00 482.81,275.06 482.94,276.03 483.07,273.85 483.20,273.44 483.33,270.22 483.46,275.59 483.59,276.01 483.72,274.89 483.85,275.38 483.98,275.40 484.11,274.55 484.24,273.89 484.37,274.41 484.50,275.60 484.63,270.41 484.76,270.34 484.89,272.71 485.02,276.63 485.15,276.19 485.28,276.50 485.41,276.35 485.54,274.41 485.67,274.61 485.80,273.90 485.93,272.71 486.06,272.96 486.19,273.75 486.32,272.28 486.45,271.12 486.58,272.36 486.71,272.36 486.84,272.54 486.97,274.24 487.10,271.70 487.24,272.98 487.37,272.25 487.50,270.85 487.64,269.55 487.78,272.18 487.91,273.28 488.05,273.53 488.18,273.66 488.31,271.66 488.45,272.85 488.59,272.87 488.72,273.75 488.86,272.06 488.99,274.51 489.12,275.18 489.26,271.63 489.40,272.04 489.53,272.41 489.67,273.52 489.80,272.60 489.93,275.45 490.07,270.68 490.20,274.08 490.34,274.59 490.47,272.62 490.61,271.78 490.74,273.74 490.88,272.90 491.01,272.25 491.15,272.19 491.28,276.63 491.42,270.95 491.55,276.01 491.68,271.43 491.82,274.87 491.95,273.10 492.09,273.54 492.22,272.39 492.36,272.56 492.49,275.78 492.63,272.98 492.76,269.30 492.90,271.43 493.03,268.60 493.17,270.51 493.30,273.90 493.43,272.67 493.58,272.81 493.71,278.26 493.83,279.03 493.95,275.01 494.08,273.15 494.22,273.64 494.35,277.52 494.47,277.74 494.60,277.80 494.75,276.67 494.87,277.24 495.00,276.50 495.13,277.98 495.27,275.86 495.40,276.56 495.54,275.04 495.67,277.75 495.81,276.92 495.94,276.91 496.08,277.34 496.21,277.46 496.35,277.58 496.48,277.18 496.62,276.55 496.75,277.71 496.88,278.04 497.02,279.27 497.15,280.19 497.29,280.84 497.42,278.37 497.56,276.78 497.69,277.71 497.83,277.48 497.96,279.40 498.10,277.84 498.23,279.14 498.37,275.97 498.50,277.00 498.63,278.12 498.77,276.89 498.90,275.42 499.03,274.07 499.17,274.00 499.30,274.92 499.43,279.19 499.57,279.51 499.70,278.80 499.83,276.86 499.97,277.52 500.10,274.98 500.23,272.97 500.37,273.59 500.50,275.70 500.63,280.99 500.77,274.86 500.90,274.26 501.03,273.96 501.17,273.70 501.30,273.22 501.43,274.32 501.57,273.52 501.70,275.39 501.83,272.88 501.97,273.68 502.10,273.53 502.23,274.39 502.37,276.51 502.50,274.68 502.63,275.55 502.77,274.76 502.90,276.10 503.03,275.85 503.17,276.85 503.30,275.84 503.43,277.81 503.57,275.07 503.70,279.06 503.83,275.13 503.97,276.54 504.10,277.65 504.23,279.48 504.37,277.32 504.50,277.89 504.63,277.58 504.77,278.05 504.90,277.81 505.03,277.30 505.17,276.90 505.30,278.56 505.43,277.70 505.57,276.30 505.70,274.17 505.83,274.30 505.97,273.26 506.10,277.24 506.23,278.89 506.37,275.33 506.50,276.02 506.63,278.30 506.77,276.61 506.90,275.24 507.03,273.06 507.17,274.22 507.30,276.50 507.43,275.84 507.57,276.89 507.70,278.14 507.83,277.85 507.97,278.84 508.10,280.35 508.23,279.31 508.37,277.95 508.50,274.53 508.63,276.98 508.77,277.74 508.90,280.23 509.03,275.78 509.17,275.97 509.30,272.85 509.43,275.93 509.57,278.10 509.70,275.44 509.83,277.31 509.97,276.23 510.10,277.84 510.23,277.83 510.37,276.28 510.50,273.77 510.63,274.49 510.77,277.26 510.90,278.63 511.03,276.65 511.17,278.14 511.30,280.94 511.43,276.69 511.57,277.62 511.70,277.40 511.83,277.95 511.96,275.69 512.09,275.46 512.22,280.25 512.35,279.11 512.48,279.55 512.61,276.27 512.74,277.82 512.87,277.96 513.00,278.80 513.13,275.16 513.26,272.18 513.39,276.72 513.52,279.53 513.65,278.51 513.78,279.08 513.92,274.49 514.05,278.32 514.18,278.87 514.31,274.96 514.44,274.97 514.57,278.59 514.70,281.25 514.83,279.04 514.96,277.13 515.09,274.42 515.22,274.93 515.35,274.21 515.48,276.09 515.61,276.40 515.74,279.27 515.87,275.17 516.00,276.10 516.13,275.54 516.27,274.23 516.40,275.18 516.54,278.10 516.67,274.59 516.81,275.08 516.94,276.93 517.08,273.32 517.21,274.05 517.35,278.29 517.48,273.72 517.62,278.04 517.75,277.48 517.88,278.24 518.02,276.21 518.15,275.39 518.29,273.72 518.42,274.34 518.56,275.13 518.69,271.32 518.83,274.52 518.96,277.45 519.10,275.30 519.23,271.10 519.37,275.76 519.50,273.90 519.63,272.69 519.77,272.86 519.90,272.94 520.04,277.40 520.17,272.66 520.31,274.54 520.44,272.77 520.58,271.13 520.71,273.30 520.85,275.22 520.98,276.09 521.12,277.90 521.25,276.54 521.38,276.11 521.52,274.03 521.65,277.24 521.79,276.87 521.92,277.56 522.06,280.17 522.19,281.10 522.33,281.20 522.46,275.40 522.60,274.75 522.73,274.42 522.87,275.46 523.00,276.50 523.13,277.91 523.27,277.52 523.40,274.66 523.53,278.64 523.67,280.28 523.80,278.20 523.93,277.11 524.07,278.84 524.20,278.84 524.33,274.19 524.47,276.60 524.60,278.25 524.73,282.33 524.87,278.52 525.00,278.56 525.13,280.89 525.27,278.18 525.40,277.97 525.53,276.52 525.67,278.71 525.80,277.59 525.93,273.87 526.07,277.11 526.20,277.81 526.33,278.06 526.47,276.22 526.60,277.80 526.73,275.74 526.87,281.78 527.00,277.54 527.14,275.58 527.27,279.28 527.41,281.17 527.54,279.30 527.68,276.65 527.81,277.80 527.95,277.18 528.08,279.47 528.22,276.65 528.35,277.66 528.48,278.01 528.62,277.72 528.75,281.13 528.89,279.17 529.02,276.17 529.16,277.93 529.29,278.22 529.43,277.23 529.56,278.88 529.70,274.24 529.83,273.54 529.97,277.18 530.10,277.20 530.23,278.63 530.36,277.88 530.49,279.80 530.63,278.26 530.76,280.83 530.89,277.70 531.02,274.50 531.15,275.63 531.28,276.38 531.42,276.56 531.55,276.46 531.68,277.32 531.81,275.74 531.94,276.96 532.07,277.03 532.21,276.84 532.34,278.14 532.47,278.45 532.60,276.60 532.73,278.44 532.87,275.56 533.00,277.21 533.14,276.31 533.27,276.81 533.41,278.48 533.54,279.32 533.68,278.80 533.81,278.30 533.95,278.14 534.08,278.39 534.22,276.95 534.35,275.88 534.48,277.66 534.62,278.24 534.75,278.20 534.89,280.31 535.02,276.45 535.16,277.69 535.29,276.44 535.43,278.10 535.56,279.16 535.70,277.75 535.83,278.21 535.97,275.23 536.10,278.80 536.23,274.59 536.37,278.21 536.50,278.07 536.64,278.43 536.77,278.92 536.91,282.12 537.04,277.92 537.18,279.40 537.31,276.60 537.45,274.92 537.58,275.16 537.72,276.43 537.85,279.14 537.98,280.23 538.12,277.80 538.25,277.28 538.39,278.46 538.52,277.46 538.66,280.61 538.79,276.82 538.93,276.06 539.06,278.46 539.20,275.90 539.33,276.47 539.47,277.06 539.60,277.50 539.73,277.51 539.87,276.32 540.00,277.10 540.13,277.52 540.27,275.15 540.40,276.35 540.53,277.33 540.67,277.51 540.80,275.35 540.93,276.76 541.07,277.21 541.20,280.08 541.33,276.77 541.47,277.06 541.60,277.49 541.73,274.30 541.87,275.11 542.00,277.15 542.13,276.04 542.27,276.34 542.40,276.98 542.53,275.75 542.67,276.36 542.80,278.38 542.93,274.57 543.07,275.76 543.20,277.00 543.33,277.87 543.47,279.73 543.60,276.14 543.73,276.48 543.87,275.87 544.00,275.30 544.13,275.96 544.27,277.61 544.40,274.59 544.54,275.18 544.67,275.53 544.81,276.46 544.94,275.08 545.08,275.94 545.21,273.88 545.35,271.99 545.48,276.82 545.62,278.90 545.75,278.65 545.88,276.65 546.02,277.98 546.15,277.40 546.29,276.89 546.42,279.28 546.56,281.07 546.69,278.07 546.83,277.67 546.96,278.42 547.10,276.69 547.23,277.71 547.37,276.36 547.50,277.50 547.63,275.55 547.77,278.11 547.90,278.07 548.04,276.59 548.17,278.18 548.31,278.22 548.44,277.72 548.58,279.52 548.71,279.74 548.85,279.43 548.98,279.77 549.12,281.52 549.25,279.55 549.38,281.74 549.52,280.87 549.65,282.58 549.79,283.05 549.92,281.21 550.06,281.61 550.19,281.57 550.33,280.89 550.46,281.99 550.60,282.71 550.73,281.91 550.87,280.80 551.00,280.60 551.13,280.72 551.27,283.56 551.40,279.11 551.54,279.14 551.67,280.03 551.81,281.13 551.94,279.57 552.08,281.06 552.21,282.58 552.35,283.13 552.48,281.69 552.62,279.45 552.75,279.74 552.88,278.49 553.02,281.98 553.15,279.91 553.29,279.73 553.42,283.74 553.56,284.49 553.69,280.66 553.83,281.46 553.96,281.56 554.10,283.63 554.23,280.32 554.37,280.86 554.50,281.90 554.63,282.33 554.77,282.71 554.90,279.27 555.03,280.56 555.17,281.66 555.30,282.55 555.43,283.16 555.57,280.96 555.70,279.34 555.83,281.48 555.97,282.10 556.10,280.86 556.23,280.32 556.37,277.99 556.50,280.37 556.63,283.54 556.77,282.67 556.90,280.77 557.03,282.80 557.17,282.95 557.30,284.94 557.43,281.56 557.57,282.77 557.70,281.08 557.83,280.54 557.97,282.62 558.10,283.51 558.23,283.59 558.37,283.80 558.50,281.31 558.63,278.86 558.77,279.00 558.90,281.90 559.03,280.76 559.17,279.75 559.30,280.77 559.44,281.70 559.57,283.54 559.71,283.32 559.84,282.98 559.98,282.81 560.11,281.86 560.25,286.24 560.38,284.92 560.52,283.98 560.65,283.73 560.78,284.35 560.92,284.64 561.05,282.48 561.19,282.45 561.32,283.35 561.46,280.68 561.59,281.41 561.73,282.85 561.86,285.21 562.00,286.40 562.13,285.67 562.27,287.41 562.40,283.60 562.53,282.63 562.67,286.44 562.80,283.60 562.93,285.88 563.07,285.87 563.20,285.04 563.33,284.50 563.47,281.03 563.60,285.64 563.73,282.48 563.87,285.81 564.00,284.14 564.13,283.39 564.27,284.38 564.40,282.72 564.53,281.93 564.67,282.72 564.80,283.57 564.93,282.68 565.07,282.61 565.20,283.14 565.33,284.65 565.47,284.77 565.60,283.99 565.73,286.82 565.87,286.30 566.00,281.90 566.13,282.13 566.27,283.68 566.40,286.03 566.53,286.72 566.67,284.16 566.80,285.40 566.93,286.94 567.07,284.03 567.20,284.34 567.34,284.31 567.47,281.49 567.61,284.14 567.74,287.40 567.88,286.52 568.01,288.05 568.15,285.33 568.28,283.63 568.42,285.50 568.55,284.45 568.68,285.52 568.82,289.16 568.95,286.62 569.09,286.47 569.22,286.98 569.36,287.03 569.49,285.01 569.63,285.04 569.76,285.58 569.90,289.53 570.03,287.08 570.17,284.80 570.30,286.70 570.43,282.72 570.57,286.94 570.70,287.70 570.84,289.17 570.97,289.17 571.11,284.93 571.24,284.92 571.38,284.96 571.51,286.05 571.65,285.42 571.78,287.62 571.92,285.39 572.05,282.34 572.18,285.35 572.32,283.07 572.45,285.62 572.59,284.45 572.72,284.30 572.86,284.60 572.99,283.19 573.13,286.58 573.26,285.54 573.40,286.32 573.53,285.45 573.67,285.30 573.80,285.00 573.93,284.88 574.07,285.69 574.20,284.13 574.34,284.78 574.47,285.72 574.61,283.45 574.74,284.28 574.88,283.29 575.01,280.53 575.15,280.98 575.28,284.72 575.42,283.77 575.55,282.94 575.68,282.32 575.82,285.41 575.95,287.30 576.09,284.99 576.22,286.27 576.36,287.09 576.49,286.44 576.63,283.34 576.76,280.49 576.90,282.77 577.03,284.47 577.17,284.62 577.30,284.10 577.43,284.38 577.57,284.45 577.70,282.77 577.84,284.30 577.97,285.23 578.11,282.35 578.24,285.79 578.38,286.79 578.51,284.91 578.65,282.15 578.78,279.32 578.92,281.42 579.05,284.36 579.18,285.40 579.32,284.01 579.45,283.07 579.59,282.69 579.72,279.13 579.86,279.83 579.99,280.51 580.13,278.58 580.26,279.82 580.40,278.58 580.53,280.40 580.67,280.58 580.80,281.00 580.93,280.79 581.07,281.81 581.20,284.64 581.34,283.73 581.47,285.66 581.61,284.44 581.74,282.30 581.88,283.77 582.01,281.83 582.15,283.89 582.28,281.86 582.42,282.70 582.55,285.23 582.68,284.61 582.82,285.57 582.95,284.19 583.09,283.43 583.22,282.75 583.36,284.21 583.49,283.90 583.63,283.34 583.76,282.36 583.90,284.56 584.03,285.51 584.17,284.97 584.30,283.60 584.43,283.17 584.56,283.51 584.70,283.39 584.83,281.72 584.96,282.87 585.09,285.20 585.22,280.33 585.36,279.76 585.49,281.02 585.62,281.74 585.75,281.97 585.89,282.93 586.02,282.19 586.15,282.06 586.28,285.86 586.41,285.82 586.55,282.60 586.68,281.30 586.81,282.35 586.94,282.13 587.08,282.80 587.21,283.04 587.34,282.62 587.47,280.46 587.60,280.73 587.74,284.27 587.87,281.55 588.00,281.90 588.13,281.13 588.26,281.78 588.39,280.26 588.52,278.88 588.65,280.65 588.78,281.91 588.91,283.74 589.04,281.93 589.17,279.89 589.31,282.62 589.44,282.60 589.57,281.98 589.70,282.60 589.83,280.49 589.96,279.98 590.09,277.92 590.22,278.88 590.35,278.60 590.48,278.66 590.61,281.01 590.74,280.29 590.87,278.39 591.00,281.04 591.13,280.57 591.26,278.12 591.39,279.39 591.53,277.93 591.66,279.64 591.79,280.46 591.92,277.47 592.05,278.52 592.18,279.51 592.31,280.00 592.44,277.56 592.57,280.22 592.70,279.00 592.83,279.57 592.96,275.78 593.09,274.37 593.23,276.85 593.36,279.04 593.49,278.21 593.62,279.14 593.75,279.58 593.88,278.53 594.01,279.31 594.15,279.23 594.28,275.47 594.41,274.54 594.54,277.34 594.67,280.00 594.80,281.08 594.93,281.63 595.07,279.09 595.20,278.19 595.33,277.82 595.46,277.00 595.59,276.21 595.72,276.04 595.85,276.01 595.99,279.42 596.12,280.01 596.25,277.97 596.38,274.80 596.51,276.40 596.64,278.19 596.77,280.69 596.91,279.02 597.04,274.89 597.17,275.39 597.30,279.60 597.44,280.31 597.55,280.02 597.69,279.77 597.82,281.24 597.95,277.18 598.09,277.80 598.22,275.79 598.34,278.23 598.46,278.20 598.61,276.85 598.74,275.77 598.86,277.34 599.00,277.47 599.13,276.50 599.26,275.27 599.38,274.11 599.51,277.80 599.66,277.94 599.79,275.33 599.91,272.85 600.04,271.03 600.16,273.45 600.30,275.00 600.80,281.30 600.93,281.38 601.07,280.56 601.20,280.60 601.33,276.89 601.47,279.51 601.60,279.76 601.73,281.70 601.87,280.50 602.00,278.90 602.13,278.36 602.27,278.51 602.40,282.37 602.53,281.42 602.67,282.84 602.80,278.92 602.93,281.07 603.07,282.57 603.20,282.50 603.34,283.12 603.47,279.89 603.61,283.19 603.74,285.51 603.88,282.82 604.01,283.07 604.15,284.19 604.28,283.93 604.42,284.23 604.55,283.24 604.69,284.30 604.82,283.39 604.96,284.79 605.09,287.67 605.23,285.56 605.36,286.83 605.50,284.80 605.63,285.58 605.76,285.13 605.90,286.89 606.03,287.32 606.16,284.82 606.29,286.22 606.42,286.66 606.55,285.80 606.69,284.92 606.82,287.59 606.95,289.85 607.08,287.55 607.21,282.37 607.35,286.63 607.48,289.90 607.61,287.02 607.74,289.18 607.87,285.67 608.00,287.59 608.14,290.04 608.27,287.84 608.40,288.60 608.53,289.06 608.66,289.06 608.80,288.91 608.93,289.02 609.06,289.31 609.19,290.70 609.32,286.76 609.45,286.42 609.59,285.94 609.72,287.00 609.85,288.56 609.98,291.19 610.11,288.25 610.25,289.57 610.38,290.86 610.51,289.20 610.64,289.59 610.77,287.35 610.90,290.10 611.04,287.56 611.17,285.96 611.30,288.30 611.43,289.84 611.56,285.52 611.69,283.48 611.82,284.07 611.95,287.58 612.08,291.39 612.21,287.56 612.34,288.97 612.47,286.80 612.61,286.16 612.74,285.65 612.87,287.86 613.00,288.11 613.13,288.55 613.26,288.67 613.39,286.95 613.52,286.72 613.65,285.60 613.78,284.96 613.91,284.64 614.04,282.80 614.17,283.59 614.30,285.65 614.43,284.22 614.56,287.03 614.69,288.46 614.83,288.20 614.96,285.29 615.09,286.59 615.22,285.41 615.35,285.82 615.48,285.34 615.61,285.55 615.74,288.14 615.87,286.58 616.00,286.60 616.13,287.42 616.27,286.32 616.40,286.54 616.54,286.29 616.67,284.71 616.81,285.10 616.94,283.01 617.08,283.34 617.21,283.94 617.35,286.67 617.48,284.85 617.62,287.76 617.75,287.63 617.88,284.24 618.02,287.34 618.15,286.49 618.29,283.31 618.42,283.52 618.56,283.94 618.69,284.15 618.83,284.23 618.96,285.77 619.10,284.67 619.23,285.96 619.37,285.62 619.50,284.80 619.53,287.31 619.98,284.55 619.69,285.06 620.24,282.30 620.15,284.04 620.12,283.24 620.11,283.53 620.40,283.00 620.90,293.00 620.75,293.12 621.87,297.14 621.58,296.59 621.58,297.37 621.38,292.24 621.58,292.74 620.97,293.23 620.18,292.90 620.64,295.34 620.93,294.46 620.12,293.48 622.22,293.12 620.30,292.09 621.99,293.86 621.61,292.05 620.46,293.87 621.54,297.76 622.01,297.57 621.61,295.79 621.03,300.08 622.06,298.49 624.17,298.26 622.52,298.30 623.09,296.92 622.40,298.50 622.53,293.85 622.66,298.71 622.80,299.70 622.93,301.78 623.06,299.35 623.19,301.98 623.32,297.19 623.45,301.18 623.59,303.09 623.72,298.97 623.85,299.84 623.98,300.85 624.11,298.92 624.25,299.43 624.38,301.88 624.51,298.86 624.64,301.82 624.77,298.18 624.90,301.80 625.04,298.33 625.17,299.32 625.30,299.40 625.43,296.36 625.57,296.28 625.70,300.54 625.83,297.84 625.97,296.75 626.10,295.03 626.23,294.95 626.37,296.22 626.50,294.95 626.63,298.67 626.77,300.13 626.90,301.80 627.03,303.30 627.17,298.29 627.30,301.05 627.43,296.34 627.57,295.86 627.70,296.50 627.77,293.09 627.88,295.16 628.18,295.23 627.97,300.03 628.74,299.50 628.21,296.90 628.34,297.75 628.52,296.37 628.66,293.65 628.83,297.58 628.75,303.63 629.12,300.76 629.28,296.21 629.34,294.69 628.85,296.29 629.47,296.35 629.66,298.92 629.33,300.30 629.60,303.11 630.33,304.25 630.00,301.20 630.14,302.43 630.27,301.72 630.41,297.25 630.54,298.69 630.68,301.65 630.81,305.23 630.95,303.26 631.08,297.53 631.22,301.47 631.35,301.33 631.49,303.60 631.62,302.73 631.76,300.30 631.89,299.94 632.03,302.08 632.16,305.48 632.30,302.30 632.43,301.29 632.57,297.19 632.70,300.44 632.83,301.78 632.97,304.71 633.10,303.13 633.23,302.75 633.37,301.92 633.50,301.20 633.60,302.20 633.79,302.63 633.44,299.98 634.33,301.82 633.44,303.87 633.46,301.11 634.38,302.54 633.09,301.69 633.32,304.70 634.40,306.69 634.57,306.15 634.94,305.64 634.78,306.46 635.31,306.50 634.66,310.21 634.70,304.70 635.30,314.00 635.43,314.56 635.56,311.58 635.70,314.25 635.83,312.83 635.96,317.16 636.09,313.77 636.22,313.90 636.35,315.73 636.49,313.70 636.62,315.51 636.75,315.35 636.88,317.91 637.01,315.57 637.15,312.37 637.28,313.58 637.41,314.99 637.54,317.56 637.67,317.69 637.80,313.06 637.94,311.92 638.07,313.19 638.20,315.20 638.34,314.03 638.47,310.92 638.61,315.00 638.74,315.03 638.88,311.01 639.01,315.47 639.15,313.99 639.28,311.86 639.42,312.86 639.55,314.47 639.69,313.75 639.82,314.86 639.96,317.16 640.09,315.17 640.23,316.19 640.36,319.57 640.50,316.30 641.03,314.63 640.65,318.50 640.36,314.60 640.66,316.63 641.22,317.42 641.59,317.87 641.35,317.98 640.93,318.77 641.45,319.32 641.13,322.14 641.65,319.31 641.50,318.99 640.78,317.13 641.94,319.96 642.01,320.56 642.45,323.55 641.97,321.77 642.28,319.65 642.37,321.05 642.67,321.73 642.55,321.27 641.90,323.38 642.07,320.76 642.34,321.67 643.10,322.21 643.31,324.68 642.80,322.20 642.93,323.46 643.07,321.50 643.20,322.18 643.33,320.50 643.47,322.13 643.60,321.24 643.73,321.03 643.87,323.64 644.00,323.08 644.13,320.73 644.27,323.32 644.40,323.60 644.53,324.62 644.67,323.48 644.80,324.68 644.93,327.44 645.07,328.12 645.20,325.70 645.33,327.67 645.49,323.91 645.60,322.36 645.73,323.96 645.87,327.78 646.02,326.56 646.15,326.25 646.28,325.60 646.42,327.25 646.55,323.43 646.68,323.59 646.81,323.88 646.95,324.45 647.10,323.41 647.23,318.29 647.36,323.00 647.50,322.20 647.38,323.83 647.51,321.36 647.51,321.70 646.34,321.56 647.58,323.40 647.67,322.14 648.37,323.14 647.25,323.10 647.09,320.28 648.64,324.22 647.75,323.94 648.23,327.70 648.20,324.14 647.62,326.97 647.74,323.72 647.48,326.35 649.25,326.91 649.82,329.76 648.33,330.69 649.65,329.41 649.45,327.30 648.67,326.29 649.46,325.75 648.80,326.53 650.12,326.61 647.79,324.06 648.64,326.63 650.15,326.31 649.31,329.83 649.91,327.62 650.06,332.34 650.34,331.11 649.49,330.85 649.92,328.96 649.80,329.80 649.95,325.70 650.10,330.44 650.25,328.33 650.40,331.50 650.55,330.51 650.70,331.00 651.00,358.10" fill="none" stroke="#e78ac3" stroke-width="1.3" stroke-linejoin="round"/><path d="M477.30,271.00 477.46,271.12 477.61,272.20 477.72,271.57 478.03,272.85 478.18,273.17 478.39,273.17 478.43,274.25 478.66,274.33 478.84,274.56 478.97,274.44 479.16,275.26 479.30,275.70 479.46,276.52 479.72,277.39 479.89,276.96 480.02,277.50 480.28,277.37 480.44,277.09 480.64,277.82 480.85,278.82 481.09,278.98 481.22,279.24 481.44,279.25 481.62,279.58 481.78,280.13 482.00,281.00 482.19,281.84 482.38,280.66 482.69,280.57 482.75,280.76 483.02,281.98 483.14,281.40 483.45,283.45 483.53,284.19 483.70,284.15 484.03,286.32 484.19,286.02 484.23,285.72 484.41,287.69 484.70,286.30 484.79,287.31 484.60,287.65 485.07,287.43 484.66,288.08 484.48,288.74 484.57,287.96 485.26,288.39 484.53,289.02 485.28,289.18 485.58,290.29 484.94,290.37 485.30,291.00 485.47,292.09 485.83,292.30 485.61,292.20 486.02,293.56 486.13,292.25 486.16,293.07 486.56,293.33 486.59,294.26 486.70,294.50 486.92,294.53 487.14,294.28 487.37,294.38 487.59,294.84 487.81,295.66 488.03,294.46 488.26,294.54 488.48,293.13 488.70,294.50 489.01,293.54 489.24,292.87 489.49,293.30 489.77,291.80 490.00,292.30 490.12,291.57 490.07,291.97 490.09,293.12 490.71,293.84 490.34,293.30 491.00,293.98 490.59,294.37 491.15,294.77 490.83,295.57 491.70,295.91 491.19,296.37 491.30,297.00 491.15,295.27 491.44,295.39 491.42,296.92 491.61,297.97 492.02,299.54 492.19,298.57 492.14,298.36 491.91,298.11 491.45,300.61 492.82,299.08 492.47,301.32 492.36,301.35 493.02,301.50 492.69,302.75 492.70,302.50 492.94,302.82 493.17,302.60 493.41,302.63 493.65,302.76 493.88,302.99 494.12,303.16 494.35,302.86 494.59,303.07 494.83,303.34 495.06,302.91 495.30,303.50 495.53,303.18 495.75,303.21 495.98,302.33 496.20,302.82 496.43,302.56 496.65,302.75 496.88,302.99 497.10,302.86 497.32,303.27 497.55,303.14 497.77,302.02 498.00,303.00 498.26,302.57 498.52,303.58 498.78,303.87 499.04,304.32 499.30,304.00 499.60,335.50 499.82,335.95 500.04,335.53 500.27,336.03 500.49,335.28 500.71,335.39 500.93,335.90 501.15,335.42 501.37,335.49 501.60,335.26 501.82,335.41 502.04,334.96 502.26,335.38 502.48,335.77 502.70,335.30 502.93,335.44 503.15,335.40 503.37,335.31 503.59,335.93 503.81,335.17 504.03,335.42 504.26,335.50 504.48,335.17 504.70,335.50 504.92,335.36 505.14,335.09 505.36,335.43 505.58,335.40 505.80,335.80 506.02,335.45 506.24,335.70 506.46,335.71 506.68,335.20 506.90,335.99 507.12,335.61 507.34,335.73 507.56,335.40 507.78,335.35 508.00,335.50 508.50,342.30 508.73,341.93 508.97,342.27 509.20,342.45 509.43,342.71 509.67,342.61 509.90,342.37 510.13,342.25 510.37,342.11 510.60,341.99 510.83,342.22 511.07,342.34 511.30,342.16 511.53,342.03 511.77,341.82 512.00,342.30 512.30,382.00" fill="none" stroke="#a6d854" stroke-width="1.2" stroke-linejoin="round"/></g><g><line x1="89.7" y1="402.9" x2="89.7" y2="535.4" stroke="#e5e5e5" stroke-width="1"/><line x1="138.5" y1="402.9" x2="138.5" y2="535.4" stroke="#e5e5e5" stroke-width="1"/><line x1="187.3" y1="402.9" x2="187.3" y2="535.4" stroke="#e5e5e5" stroke-width="1"/><line x1="40.9" y1="424.98" x2="236.1" y2="424.98" stroke="#e5e5e5" stroke-width="1"/><line x1="40.9" y1="447.07" x2="236.1" y2="447.07" stroke="#e5e5e5" stroke-width="1"/><line x1="40.9" y1="469.15" x2="236.1" y2="469.15" stroke="#e5e5e5" stroke-width="1"/><line x1="40.9" y1="491.23" x2="236.1" y2="491.23" stroke="#e5e5e5" stroke-width="1"/><line x1="40.9" y1="513.32" x2="236.1" y2="513.32" stroke="#e5e5e5" stroke-width="1"/><rect x="40.9" y="402.9" width="195.2" height="132.5" fill="none" stroke="#d4d4d4" stroke-width="1.1"/></g><text x="35.60" y="406.40" text-anchor="end" font-size="10.12" fill="#262626" stroke="#262626" stroke-width="0.12" textLength="12.79" lengthAdjust="spacingAndGlyphs">1.0</text><text x="35.60" y="428.48" text-anchor="end" font-size="10.12" fill="#262626" stroke="#262626" stroke-width="0.12" textLength="12.79" lengthAdjust="spacingAndGlyphs">0.9</text><text x="35.60" y="450.57" text-anchor="end" font-size="10.12" fill="#262626" stroke="#262626" stroke-width="0.12" textLength="12.79" lengthAdjust="spacingAndGlyphs">0.8</text><text x="35.60" y="472.65" text-anchor="end" font-size="10.12" fill="#262626" stroke="#262626" stroke-width="0.12" textLength="12.79" lengthAdjust="spacingAndGlyphs">0.7</text><text x="35.60" y="494.73" text-anchor="end" font-size="10.12" fill="#262626" stroke="#262626" stroke-width="0.12" textLength="12.79" lengthAdjust="spacingAndGlyphs">0.6</text><text x="35.60" y="516.82" text-anchor="end" font-size="10.12" fill="#262626" stroke="#262626" stroke-width="0.12" textLength="12.79" lengthAdjust="spacingAndGlyphs">0.5</text><text x="35.60" y="538.90" text-anchor="end" font-size="10.12" fill="#262626" stroke="#262626" stroke-width="0.12" textLength="12.79" lengthAdjust="spacingAndGlyphs">0.4</text><text x="40.90" y="547.80" text-anchor="middle" font-size="10.12" fill="#262626" stroke="#262626" stroke-width="0.12" textLength="13.30" lengthAdjust="spacingAndGlyphs">0%</text><text x="89.70" y="547.80" text-anchor="middle" font-size="10.12" fill="#262626" stroke="#262626" stroke-width="0.12" textLength="18.41" lengthAdjust="spacingAndGlyphs">10%</text><text x="138.50" y="547.80" text-anchor="middle" font-size="10.12" fill="#262626" stroke="#262626" stroke-width="0.12" textLength="18.41" lengthAdjust="spacingAndGlyphs">20%</text><text x="187.30" y="547.80" text-anchor="middle" font-size="10.12" fill="#262626" stroke="#262626" stroke-width="0.12" textLength="18.41" lengthAdjust="spacingAndGlyphs">30%</text><text x="236.10" y="547.80" text-anchor="middle" font-size="10.12" fill="#262626" stroke="#262626" stroke-width="0.12" textLength="18.41" lengthAdjust="spacingAndGlyphs">40%</text><text x="138.50" y="399.90" text-anchor="middle" font-size="9.03" font-weight="bold" fill="#111" stroke="#111" stroke-width="0.12" textLength="54.49" lengthAdjust="spacingAndGlyphs">erythromycin</text><clipPath id="cp01"><rect x="40.9" y="401.9" width="195.2" height="133.5"/></clipPath><g clip-path="url(#cp01)"><path d="M41.30,405.00 41.40,435.50 41.90,435.50 42.04,437.37 42.17,438.28 42.31,436.70 42.45,435.01 42.59,434.00 42.73,435.26 42.86,434.25 43.00,433.36 43.14,435.38 43.27,436.03 43.41,436.88 43.55,435.16 43.69,435.88 43.83,436.07 43.96,434.15 44.10,436.40 44.23,436.47 44.37,437.02 44.51,440.17 44.64,438.25 44.77,437.15 44.91,438.76 45.05,437.92 45.18,438.68 45.31,437.21 45.45,437.57 45.59,438.89 45.72,438.94 45.85,438.22 45.99,436.32 46.12,437.86 46.26,437.93 46.39,438.92 46.53,438.61 46.66,439.78 46.80,438.10 46.93,438.81 47.06,438.90 47.19,439.70 47.32,437.62 47.45,437.96 47.58,438.05 47.71,441.67 47.84,440.14 47.97,440.75 48.10,441.03 48.23,439.97 48.36,437.92 48.49,440.84 48.62,440.05 48.75,441.46 48.88,439.21 49.01,439.76 49.14,442.43 49.27,443.72 49.40,441.40 49.53,440.48 49.67,439.26 49.80,440.67 49.94,442.27 50.07,442.05 50.21,442.20 50.34,440.46 50.48,442.09 50.61,443.42 50.75,441.73 50.88,439.76 51.02,440.04 51.15,442.30 51.28,439.61 51.42,440.99 51.55,440.24 51.69,441.20 51.82,441.40 51.96,441.86 52.09,444.13 52.23,443.43 52.36,444.49 52.50,442.81 52.63,441.77 52.77,442.64 52.90,442.30 53.03,438.40 53.17,440.81 53.30,441.91 53.44,440.30 53.57,442.10 53.71,441.26 53.84,438.27 53.98,440.36 54.11,439.98 54.25,440.47 54.38,441.13 54.52,443.30 54.65,442.42 54.78,441.90 54.92,442.28 55.05,439.29 55.19,442.51 55.32,440.35 55.46,441.70 55.59,439.94 55.73,439.51 55.86,440.15 56.00,443.56 56.13,443.05 56.27,441.01 56.40,441.20 56.53,440.72 56.67,439.41 56.80,440.53 56.94,440.16 57.07,441.85 57.21,439.52 57.34,440.14 57.48,439.65 57.61,439.65 57.75,441.66 57.88,441.54 58.02,442.14 58.15,443.20 58.28,443.52 58.42,440.08 58.55,441.56 58.69,438.85 58.82,440.29 58.96,443.58 59.09,441.76 59.23,440.88 59.36,441.33 59.50,441.27 59.63,441.26 59.77,440.16 59.90,441.20 60.03,442.43 60.17,443.01 60.30,441.71 60.44,442.05 60.57,442.70 60.71,443.50 60.84,442.93 60.98,443.21 61.11,442.01 61.25,440.51 61.38,440.84 61.52,443.13 61.65,443.93 61.78,443.09 61.92,441.84 62.05,442.68 62.19,444.93 62.32,445.34 62.46,442.66 62.59,442.68 62.73,440.75 62.86,440.58 63.00,442.42 63.13,442.89 63.27,444.42 63.40,443.20 63.53,445.39 63.66,445.06 63.80,445.59 63.93,443.12 64.06,441.41 64.19,443.06 64.33,446.67 64.46,444.64 64.59,441.78 64.72,442.70 64.86,444.65 64.99,441.85 65.12,443.42 65.25,441.94 65.39,444.04 65.52,444.06 65.65,443.36 65.78,445.46 65.92,442.78 66.05,441.42 66.18,444.48 66.31,441.69 66.45,444.99 66.58,442.97 66.71,440.83 66.84,441.51 66.98,441.90 67.11,442.10 67.24,441.58 67.38,443.16 67.51,438.90 67.64,439.86 67.77,440.57 67.91,443.71 68.04,439.43 68.17,440.21 68.30,439.33 68.44,439.66 68.57,441.58 68.70,441.20 68.83,441.95 68.96,443.59 69.09,441.33 69.22,441.80 69.35,443.28 69.48,443.45 69.61,441.81 69.74,443.34 69.87,441.03 70.00,444.09 70.13,442.88 70.26,442.12 70.39,442.44 70.52,443.40 70.65,445.03 70.78,442.99 70.92,442.00 71.05,443.04 71.18,441.39 71.31,439.69 71.44,442.70 71.57,442.08 71.70,444.02 71.83,441.71 71.96,438.82 72.09,441.63 72.22,442.65 72.35,445.08 72.48,444.46 72.61,443.98 72.74,444.24 72.87,443.03 73.00,443.20 73.13,443.33 73.27,441.44 73.40,443.45 73.54,442.32 73.67,442.47 73.81,444.17 73.94,445.11 74.08,442.77 74.21,446.22 74.35,443.82 74.48,445.02 74.62,445.65 74.75,444.88 74.88,444.57 75.02,446.79 75.15,446.33 75.29,445.58 75.42,442.16 75.56,442.52 75.69,445.37 75.83,445.04 75.96,443.35 76.10,443.23 76.23,443.70 76.37,445.30 76.50,444.70 76.63,445.59 76.77,446.61 76.90,444.49 77.04,446.37 77.17,445.01 77.31,444.89 77.44,447.79 77.58,446.55 77.71,445.89 77.85,445.64 77.98,445.38 78.12,448.10 78.25,448.87 78.38,448.30 78.52,447.42 78.65,448.40 78.79,447.24 78.92,447.66 79.06,447.82 79.19,447.51 79.33,449.67 79.46,450.65 79.60,450.47 79.73,445.93 79.87,449.69 80.00,447.80 80.13,449.49 80.27,447.76 80.40,447.75 80.54,449.38 80.67,450.00 80.81,449.77 80.94,448.69 81.08,448.16 81.21,449.10 81.35,448.13 81.48,446.65 81.62,446.52 81.75,447.16 81.88,448.04 82.02,451.07 82.15,447.02 82.29,448.20 82.42,447.81 82.56,448.23 82.69,449.85 82.83,450.26 82.96,448.44 83.10,447.24 83.23,445.69 83.37,446.96 83.50,447.80 83.64,449.13 83.77,447.69 83.91,448.46 84.04,448.66 84.17,448.21 84.31,448.93 84.45,447.43 84.58,445.81 84.72,444.68 84.85,447.15 84.98,446.13 85.12,445.76 85.25,447.16 85.39,445.29 85.53,448.14 85.66,447.51 85.80,445.53 85.93,444.61 86.06,446.62 86.20,445.30 86.33,444.18 86.46,444.21 86.59,445.21 86.72,445.92 86.85,445.98 86.98,446.61 87.12,445.85 87.25,446.00 87.38,448.09 87.51,448.03 87.64,446.55 87.77,449.15 87.90,446.90 88.04,444.89 88.17,446.24 88.31,447.50 88.44,448.35 88.58,447.40 88.71,446.34 88.84,447.31 88.98,446.52 89.11,447.16 89.25,442.67 89.39,445.62 89.52,444.97 89.66,447.15 89.79,447.61 89.92,447.72 90.06,446.13 90.19,446.73 90.33,445.82 90.46,446.25 90.60,446.00 90.73,445.92 90.87,444.80 91.00,448.44 91.14,447.97 91.27,443.93 91.41,446.68 91.54,444.45 91.68,445.32 91.81,445.16 91.95,445.19 92.08,446.32 92.22,445.94 92.35,444.25 92.48,445.71 92.62,446.76 92.75,449.12 92.89,446.91 93.02,445.06 93.16,445.58 93.29,447.23 93.43,445.67 93.56,445.38 93.70,447.09 93.83,446.92 93.97,447.21 94.10,446.90 94.24,446.16 94.37,445.53 94.51,446.03 94.64,446.46 94.78,446.38 94.91,447.45 95.05,448.00 95.19,448.21 95.32,448.21 95.46,446.31 95.59,445.33 95.73,447.71 95.86,447.45 96.00,447.30 96.13,447.52 96.27,445.71 96.40,446.40 96.54,446.03 96.67,445.57 96.81,445.73 96.94,444.56 97.08,446.35 97.21,448.49 97.35,446.59 97.48,447.04 97.62,445.52 97.75,447.45 97.88,449.79 98.02,446.24 98.15,446.40 98.29,448.77 98.42,448.10 98.56,447.50 98.69,444.24 98.83,445.75 98.96,447.77 99.10,449.19 99.23,448.55 99.37,446.61 99.50,446.80 99.63,445.71 99.77,443.78 99.90,444.12 100.04,447.29 100.17,446.63 100.31,444.65 100.44,447.66 100.58,444.47 100.71,447.45 100.85,446.23 100.98,446.70 101.12,447.31 101.25,446.91 101.38,448.15 101.52,446.79 101.65,445.80 101.79,444.95 101.92,443.52 102.06,444.04 102.19,446.55 102.33,447.17 102.46,448.15 102.60,449.55 102.73,448.24 102.87,447.18 103.00,445.50 103.10,444.44 103.28,448.58 103.38,446.89 103.42,443.97 103.44,443.92 103.79,446.96 103.87,446.84 103.99,445.78 104.20,448.03 104.24,450.09 104.26,448.58 104.49,447.52 104.56,448.94 104.73,451.12 104.80,448.80 104.93,449.86 105.06,449.15 105.19,449.38 105.32,448.11 105.45,447.72 105.58,449.55 105.71,448.98 105.84,449.31 105.97,451.62 106.10,450.54 106.23,452.38 106.36,451.26 106.49,453.11 106.62,452.38 106.75,449.10 106.88,452.26 107.01,451.43 107.14,448.77 107.27,450.85 107.40,451.80 107.54,451.64 107.67,449.76 107.81,450.00 107.95,451.65 108.08,453.37 108.22,453.53 108.36,453.63 108.49,453.46 108.63,448.27 108.77,448.86 108.91,450.28 109.04,446.70 109.18,450.21 109.32,451.55 109.45,449.61 109.59,449.43 109.73,448.51 109.86,449.42 110.00,449.90 110.13,449.75 110.27,450.02 110.40,448.76 110.54,450.38 110.67,449.99 110.81,451.74 110.94,451.53 111.08,449.00 111.21,448.25 111.35,450.19 111.48,450.15 111.62,451.56 111.75,452.59 111.88,451.92 112.02,449.37 112.15,449.23 112.29,451.74 112.42,450.41 112.56,453.05 112.69,452.37 112.83,453.05 112.96,451.40 113.10,451.99 113.23,448.68 113.37,450.88 113.50,452.80 113.63,452.95 113.77,451.55 113.90,451.12 114.04,452.06 114.17,452.53 114.31,451.46 114.44,453.15 114.58,450.46 114.71,453.38 114.85,450.85 114.98,450.76 115.12,453.74 115.25,451.49 115.38,449.77 115.52,451.57 115.65,450.79 115.79,450.22 115.92,450.59 116.06,450.64 116.19,450.31 116.33,450.11 116.46,453.73 116.60,451.77 116.73,453.37 116.87,450.58 117.00,452.10 117.14,452.40 117.27,450.58 117.41,451.10 117.55,452.88 117.68,451.91 117.82,449.61 117.96,450.84 118.09,451.88 118.23,453.32 118.37,451.66 118.51,452.12 118.64,452.84 118.78,450.74 118.92,452.22 119.05,451.78 119.19,453.45 119.33,453.32 119.46,453.24 119.60,453.60 119.73,449.99 119.87,451.99 120.00,452.24 120.14,451.44 120.27,451.70 120.41,450.65 120.55,452.22 120.68,453.38 120.81,453.62 120.95,452.05 121.08,454.52 121.22,454.14 121.35,451.40 121.49,451.50 121.62,449.36 121.76,450.66 121.89,452.20 122.03,453.45 122.16,451.44 122.30,451.20 122.43,448.74 122.57,450.13 122.70,452.77 122.84,452.00 122.97,453.33 123.11,453.17 123.24,454.16 123.38,453.16 123.51,451.05 123.65,451.88 123.78,455.12 123.92,451.97 124.05,449.00 124.18,453.53 124.32,452.75 124.45,451.03 124.59,450.46 124.72,448.96 124.86,451.60 124.99,451.75 125.13,450.72 125.26,450.66 125.40,450.65 125.53,452.75 125.67,451.74 125.80,451.60 125.93,453.53 126.06,450.99 126.19,450.38 126.32,450.30 126.45,450.15 126.58,450.69 126.71,452.40 126.84,453.22 126.97,450.26 127.10,452.48 127.23,451.55 127.36,453.29 127.49,451.38 127.62,449.73 127.75,451.40 127.88,451.71 128.01,450.25 128.14,450.38 128.27,450.53 128.40,450.30 128.54,451.00 128.67,448.26 128.81,448.18 128.95,450.15 129.08,451.26 129.22,450.59 129.36,448.61 129.49,452.69 129.63,451.75 129.77,450.43 129.91,454.04 130.04,454.72 130.18,454.93 130.32,454.81 130.45,454.49 130.59,452.17 130.73,452.98 130.86,453.86 131.00,453.60 131.15,454.92 131.25,452.92 131.40,453.37 131.48,452.86 131.68,452.31 131.83,454.07 131.93,452.01 132.02,455.60 132.16,454.04 132.35,457.08 132.49,455.61 132.65,455.96 132.78,458.11 132.91,457.77 133.06,458.50 133.17,454.93 133.30,456.69 133.43,456.96 133.57,458.31 133.70,458.00 133.83,458.49 133.96,456.74 134.09,455.93 134.22,456.48 134.35,455.19 134.48,456.71 134.61,456.82 134.74,455.50 134.87,454.90 135.00,456.96 135.13,457.59 135.26,462.01 135.39,461.67 135.52,459.15 135.65,458.77 135.78,457.93 135.91,458.05 136.04,458.82 136.17,459.61 136.30,460.20 136.43,459.06 136.57,460.96 136.70,461.33 136.84,463.40 136.97,459.21 137.11,460.69 137.24,459.60 137.38,457.35 137.51,458.49 137.65,456.85 137.78,458.67 137.92,463.42 138.05,462.91 138.18,463.48 138.32,462.71 138.45,458.30 138.59,459.67 138.72,459.72 138.86,460.15 138.99,458.06 139.13,455.89 139.26,461.22 139.40,461.70 139.53,460.51 139.67,458.87 139.80,459.10 139.93,459.29 140.07,457.33 140.20,459.96 140.34,459.69 140.47,459.14 140.61,458.53 140.74,458.88 140.88,459.31 141.01,458.66 141.15,460.49 141.28,460.02 141.42,459.41 141.55,458.05 141.68,460.70 141.82,461.76 141.95,461.23 142.09,457.26 142.22,458.12 142.36,460.44 142.49,459.83 142.63,461.48 142.76,459.50 142.90,460.67 143.03,460.68 143.17,456.24 143.30,459.50 143.44,457.93 143.57,458.88 143.71,458.74 143.85,458.41 143.98,462.13 144.12,460.98 144.26,462.05 144.39,459.35 144.53,457.41 144.67,459.25 144.81,461.33 144.94,460.47 145.08,462.16 145.22,463.28 145.35,461.90 145.49,462.12 145.63,461.29 145.76,463.84 145.90,462.80 146.03,465.84 146.17,464.56 146.31,462.59 146.44,461.58 146.57,461.85 146.71,463.67 146.84,461.82 146.98,464.51 147.12,461.38 147.25,462.09 147.38,464.30 147.52,465.75 147.66,462.96 147.79,463.76 147.93,466.51 148.06,465.57 148.19,460.14 148.33,461.93 148.47,465.68 148.60,462.20 148.74,461.82 148.87,463.70 149.01,459.96 149.15,464.26 149.28,462.23 149.42,464.09 149.56,465.00 149.69,459.89 149.83,460.23 149.97,463.08 150.11,461.41 150.24,463.18 150.38,462.51 150.52,465.81 150.65,464.30 150.79,463.26 150.93,465.33 151.06,467.03 151.20,465.20 151.34,465.61 151.48,465.67 151.62,465.98 151.75,464.57 151.89,463.01 152.03,465.00 152.17,464.34 152.31,462.55 152.45,465.22 152.58,465.49 152.72,465.11 152.86,463.60 153.00,464.50 153.19,464.24 152.95,465.09 153.26,464.62 153.43,465.31 153.51,464.81 153.57,466.69 153.63,466.43 153.41,465.54 153.22,467.57 153.80,466.31 153.57,466.35 154.10,466.19 153.75,466.62 154.04,466.12 154.04,467.27 154.00,468.00 154.09,469.08 153.75,467.96 154.53,468.55 154.07,468.06 154.39,468.73 154.32,468.61 154.25,469.82 154.49,469.81 154.73,470.39 154.76,469.65 154.05,470.09 154.06,470.18 154.81,470.59 154.15,469.53 154.46,471.28 154.17,472.06 153.84,471.92 154.90,471.49 155.22,472.84 154.46,472.62 154.17,472.48 155.19,473.71 155.43,472.80 155.07,472.34 154.38,472.68 154.60,473.73 155.00,474.00 155.13,476.02 155.27,473.49 155.40,474.30 155.53,473.73 155.67,474.60 155.80,473.77 155.93,475.88 156.07,476.37 156.20,475.77 156.33,475.33 156.47,478.60 156.60,475.59 156.73,475.03 156.87,476.85 157.00,476.00 157.13,476.28 157.26,473.43 157.39,474.77 157.52,474.83 157.65,473.85 157.78,475.37 157.91,473.76 158.04,474.58 158.17,473.42 158.30,477.29 158.43,475.67 158.57,476.24 158.70,476.16 158.83,476.77 158.96,475.59 159.09,476.59 159.22,475.91 159.35,471.55 159.48,474.39 159.61,472.80 159.74,475.78 159.87,475.63 160.00,475.00 160.04,474.83 160.22,471.90 160.35,473.82 160.55,478.39 160.63,476.84 160.79,476.04 160.93,475.74 161.00,477.76 161.24,477.69 161.33,475.27 161.42,476.13 161.59,478.70 161.75,480.06 161.88,478.40 162.00,478.30 162.13,477.81 162.26,475.52 162.39,479.59 162.52,479.33 162.65,480.50 162.78,476.19 162.91,479.23 163.04,479.94 163.17,478.81 163.30,475.10 163.43,477.34 163.57,476.90 163.70,477.50 163.83,478.11 163.96,476.79 164.09,477.56 164.22,478.06 164.35,480.54 164.48,478.92 164.61,482.26 164.74,477.80 164.87,477.91 165.00,478.30 165.13,480.21 165.27,476.59 165.40,478.87 165.54,479.35 165.67,477.99 165.81,478.13 165.94,481.08 166.08,478.99 166.21,479.46 166.35,479.92 166.48,481.37 166.62,476.71 166.75,476.08 166.88,476.11 167.02,477.86 167.15,479.95 167.29,481.08 167.42,479.74 167.56,482.19 167.69,480.57 167.83,481.27 167.96,479.26 168.10,481.14 168.23,479.37 168.37,481.80 168.50,480.30 168.63,482.08 168.76,483.66 168.89,480.46 169.03,478.07 169.16,480.31 169.29,480.18 169.42,478.69 169.55,476.79 169.68,479.43 169.82,475.88 169.95,476.91 170.08,479.61 170.21,478.36 170.34,478.96 170.47,479.12 170.61,479.25 170.74,479.94 170.87,479.44 171.00,477.50 171.13,477.62 171.26,475.72 171.39,476.62 171.52,476.40 171.65,478.07 171.78,480.03 171.91,480.06 172.04,477.77 172.17,478.45 172.30,478.44 172.43,477.73 172.57,480.36 172.70,480.25 172.83,479.86 172.96,477.26 173.09,474.47 173.22,476.16 173.35,479.89 173.48,479.10 173.61,479.18 173.74,478.89 173.87,480.02 174.00,479.50 174.23,479.92 174.23,479.81 174.42,482.38 174.53,482.26 174.65,481.19 174.76,481.88 174.96,478.41 174.96,479.57 175.08,480.34 175.24,479.89 175.36,482.69 175.41,483.15 175.55,483.91 175.70,484.22 175.79,482.41 176.00,483.00 176.13,480.78 176.26,481.76 176.39,480.86 176.52,481.70 176.65,484.12 176.78,481.77 176.91,481.75 177.04,482.04 177.17,481.27 177.30,481.90 177.43,482.50 177.57,483.95 177.70,481.60 177.83,481.55 177.96,481.58 178.09,483.74 178.22,480.92 178.35,481.76 178.48,482.96 178.61,483.05 178.74,480.98 178.87,479.69 179.00,481.50 179.02,478.11 178.98,480.27 179.34,482.91 179.33,482.25 179.47,483.30 179.55,483.86 179.47,485.07 180.10,482.25 180.18,484.77 180.15,482.87 180.28,485.20 180.47,484.27 180.15,485.04 180.47,488.72 180.45,488.22 180.79,484.70 180.64,486.41 180.66,486.23 181.13,482.64 181.18,482.98 181.23,486.75 181.33,488.94 181.38,487.89 181.54,487.87 181.58,485.84 182.07,486.17 181.67,488.98 181.63,489.09 182.00,487.80 182.13,488.38 182.26,490.84 182.39,488.91 182.52,490.13 182.65,487.90 182.78,488.42 182.91,488.44 183.04,484.33 183.17,485.09 183.30,489.63 183.43,486.86 183.57,489.10 183.70,490.69 183.83,488.41 183.96,489.26 184.09,488.52 184.22,486.71 184.35,487.93 184.48,488.10 184.61,485.87 184.74,485.93 184.87,484.49 185.00,487.00 185.13,485.59 185.26,486.48 185.39,485.31 185.52,483.50 185.65,486.93 185.78,489.08 185.91,486.39 186.04,487.02 186.17,486.08 186.30,482.80 186.43,489.00 186.57,488.34 186.70,485.42 186.83,488.67 186.96,488.96 187.09,490.17 187.22,489.52 187.35,488.99 187.48,490.26 187.61,487.99 187.74,488.03 187.87,485.95 188.00,487.50 188.13,485.25 188.26,487.23 188.39,488.02 188.52,485.48 188.65,487.78 188.78,489.67 188.91,486.79 189.04,487.31 189.17,490.84 189.30,488.06 189.43,489.42 189.57,490.31 189.70,489.72 189.83,489.54 189.96,490.21 190.09,490.08 190.22,489.88 190.35,487.29 190.48,489.20 190.61,488.29 190.74,491.68 190.87,494.09 191.00,490.00 190.48,492.56 191.16,492.12 190.86,490.33 191.08,491.65 191.33,491.30 190.70,492.18 191.22,492.87 191.67,491.88 190.94,492.32 191.58,492.82 191.52,491.76 191.96,491.05 191.64,493.54 191.48,492.91 191.66,492.63 192.47,493.29 192.33,494.53 192.35,493.40 191.95,493.36 192.22,494.71 192.36,496.81 192.58,495.33 192.62,494.23 192.46,496.29 192.87,495.40 192.73,494.72 192.77,495.12 192.91,495.19 193.29,496.49 192.99,496.31 192.72,495.21 193.00,497.00 192.49,496.89 192.72,497.23 193.37,497.98 193.44,497.59 193.26,497.52 193.49,498.55 193.99,499.11 193.28,498.40 193.74,497.29 193.19,497.65 193.65,498.42 193.41,499.03 193.43,499.69 193.21,499.98 193.16,499.77 194.06,501.03 193.87,501.45 194.01,500.67 192.81,499.74 194.48,499.86 194.54,501.25 194.37,501.07 194.00,502.00 194.44,503.31 194.52,503.06 194.85,502.49 193.87,501.84 193.91,502.75 194.53,504.66 194.98,503.38 194.19,504.83 194.87,505.66 194.21,504.35 194.94,504.71 195.13,506.05 193.84,504.92 195.22,503.65 195.13,505.67 194.73,505.62 194.93,506.15 194.39,506.14 194.89,505.06 195.44,505.84 194.11,505.49 194.94,504.75 195.00,507.00 195.13,509.12 195.26,507.45 195.39,506.41 195.53,507.86 195.66,510.32 195.79,510.56 195.92,510.42 196.05,510.56 196.18,508.76 196.32,508.84 196.45,509.49 196.58,512.05 196.71,506.64 196.84,507.50 196.97,509.36 197.11,509.14 197.24,509.34 197.37,509.30 197.50,510.00 197.63,508.17 197.77,509.97 197.90,511.79 198.04,509.71 198.17,510.18 198.31,511.34 198.44,508.86 198.58,508.82 198.71,506.79 198.85,510.61 198.98,512.09 199.12,509.47 199.25,511.98 199.38,510.97 199.52,506.26 199.65,508.23 199.79,508.46 199.92,508.88 200.06,509.23 200.19,507.47 200.33,509.31 200.46,508.57 200.60,510.75 200.73,508.24 200.87,503.48 201.00,507.00 201.13,508.97 201.27,508.90 201.40,505.20 201.53,505.99 201.67,506.10 201.80,509.02 201.93,507.69 202.07,510.20 202.20,508.55 202.33,510.44 202.47,508.73 202.60,507.33 202.73,509.82 202.87,509.50 203.00,510.00 202.15,510.70 202.91,509.44 203.36,512.52 201.84,509.64 203.41,512.75 203.81,510.47 204.49,512.20 203.11,512.20 202.69,513.05 202.93,512.06 202.82,511.72 202.96,510.76 203.63,512.63 203.91,512.90 203.96,514.07 203.90,516.11 203.53,515.06 204.62,515.63 204.33,511.41 204.13,512.18 203.30,513.92 203.89,513.05 203.41,517.37 203.97,515.61 204.78,515.29 204.19,517.94 204.09,517.16 204.28,518.34 204.25,517.89 204.37,518.37 205.49,516.47 204.50,517.00" fill="none" stroke="#e78ac3" stroke-width="1.3" stroke-linejoin="round"/><path d="M41.30,441.20 41.46,441.40 41.62,442.62 41.83,442.24 42.02,442.74 42.23,443.02 42.45,443.68 42.52,444.21 42.72,444.96 42.89,444.82 43.09,444.94 43.20,445.50 43.40,445.62 43.58,445.89 43.79,446.95 43.86,447.03 44.07,447.71 44.31,447.76 44.50,447.81 44.64,448.80 44.81,448.86 45.00,449.50 45.22,450.27 45.44,450.92 45.66,451.07 45.88,451.32 46.11,451.88 46.30,452.03 46.52,452.11 46.75,451.86 47.00,452.33 47.16,452.83 47.41,453.60 47.63,454.36 47.83,455.30 48.06,455.43 48.25,455.43 48.50,455.70 48.74,456.14 48.97,455.61 49.21,456.08 49.45,456.43 49.68,456.68 49.92,456.21 50.15,456.84 50.39,456.74 50.63,457.12 50.86,457.15 51.10,457.40 51.33,458.41 51.57,458.47 51.79,458.26 52.04,458.75 52.29,459.15 52.50,459.80 52.74,459.92 52.95,459.29 53.19,459.48 53.36,458.92 53.60,458.60 53.80,457.40 54.04,457.80 54.27,457.47 54.51,456.84 54.75,456.41 54.98,456.21 55.22,456.59 55.45,456.73 55.69,456.46 55.93,456.44 56.16,456.94 56.40,456.50 56.62,456.36 56.84,456.36 57.06,456.12 57.28,457.09 57.50,456.84 57.72,457.34 57.94,457.41 58.16,457.00 58.38,457.23 58.60,457.00 58.74,457.60 58.81,457.94 58.60,458.43 58.64,458.92 58.76,458.66 58.75,458.82 59.07,459.01 58.85,459.94 58.99,460.78 58.87,460.70 59.08,461.22 59.59,461.61 59.17,462.23 59.16,462.05 59.17,462.25 59.35,461.96 59.77,462.39 59.58,463.09 59.32,463.84 59.50,464.40 59.66,464.75 59.85,465.02 60.08,464.80 60.20,465.70 60.35,466.64 60.57,466.00 60.74,466.39 60.91,466.87 61.09,467.15 61.28,468.06 61.47,469.07 61.63,469.35 61.80,469.30 62.04,469.80 62.27,469.63 62.51,469.19 62.74,469.06 62.98,468.77 63.21,469.18 63.45,469.55 63.69,469.91 63.92,470.37 64.16,470.13 64.39,469.46 64.63,469.61 64.86,469.96 65.10,470.40 65.32,469.59 65.55,469.59 65.77,469.66 66.00,470.77 66.22,471.09 66.45,470.68 66.67,470.55 66.90,470.69 67.12,470.85 67.35,470.94 67.58,470.54 67.80,470.41 68.02,471.15 68.25,471.11 68.47,471.46 68.70,471.33 68.92,471.36 69.15,471.41 69.38,471.28 69.60,471.72 69.83,471.86 70.05,471.66 70.28,471.64 70.50,471.50 70.90,483.00 71.13,483.55 71.35,483.00 71.58,483.30 71.80,483.58 72.03,483.89 72.26,484.03 72.48,483.35 72.71,483.53 72.93,483.24 73.16,483.49 73.39,483.41 73.61,483.61 73.84,483.21 74.06,483.27 74.29,483.44 74.51,483.54 74.74,483.73 74.97,484.15 75.19,483.45 75.42,483.42 75.64,482.82 75.87,483.26 76.10,483.85 76.32,483.70 76.55,483.96 76.77,484.40 77.00,483.40 77.23,484.11 77.45,484.10 77.68,484.11 77.91,483.54 78.13,483.07 78.36,483.08 78.58,482.93 78.81,483.35 79.04,482.61 79.26,482.36 79.49,482.36 79.72,482.78 79.94,482.97 80.17,483.09 80.39,483.10 80.62,483.07 80.85,482.94 81.07,483.21 81.30,483.40 81.52,483.11 81.74,483.17 81.96,483.03 82.18,482.96 82.40,482.86 82.62,483.43 82.84,483.67 83.06,483.49 83.28,482.30 83.50,482.30 83.50,523.50" fill="none" stroke="#a6d854" stroke-width="1.2" stroke-linejoin="round"/></g><g><line x1="307.4" y1="402.9" x2="307.4" y2="535.4" stroke="#e5e5e5" stroke-width="1"/><line x1="356.2" y1="402.9" x2="356.2" y2="535.4" stroke="#e5e5e5" stroke-width="1"/><line x1="405" y1="402.9" x2="405" y2="535.4" stroke="#e5e5e5" stroke-width="1"/><line x1="258.6" y1="424.98" x2="453.8" y2="424.98" stroke="#e5e5e5" stroke-width="1"/><line x1="258.6" y1="447.07" x2="453.8" y2="447.07" stroke="#e5e5e5" stroke-width="1"/><line x1="258.6" y1="469.15" x2="453.8" y2="469.15" stroke="#e5e5e5" stroke-width="1"/><line x1="258.6" y1="491.23" x2="453.8" y2="491.23" stroke="#e5e5e5" stroke-width="1"/><line x1="258.6" y1="513.32" x2="453.8" y2="513.32" stroke="#e5e5e5" stroke-width="1"/><rect x="258.6" y="402.9" width="195.2" height="132.5" fill="none" stroke="#d4d4d4" stroke-width="1.1"/></g><text x="258.60" y="547.80" text-anchor="middle" font-size="10.12" fill="#262626" stroke="#262626" stroke-width="0.12" textLength="13.30" lengthAdjust="spacingAndGlyphs">0%</text><text x="307.40" y="547.80" text-anchor="middle" font-size="10.12" fill="#262626" stroke="#262626" stroke-width="0.12" textLength="18.41" lengthAdjust="spacingAndGlyphs">10%</text><text x="356.20" y="547.80" text-anchor="middle" font-size="10.12" fill="#262626" stroke="#262626" stroke-width="0.12" textLength="18.41" lengthAdjust="spacingAndGlyphs">20%</text><text x="405.00" y="547.80" text-anchor="middle" font-size="10.12" fill="#262626" stroke="#262626" stroke-width="0.12" textLength="18.41" lengthAdjust="spacingAndGlyphs">30%</text><text x="453.80" y="547.80" text-anchor="middle" font-size="10.12" fill="#262626" stroke="#262626" stroke-width="0.12" textLength="18.41" lengthAdjust="spacingAndGlyphs">40%</text><text x="356.20" y="399.90" text-anchor="middle" font-size="9.03" font-weight="bold" fill="#111" stroke="#111" stroke-width="0.12" textLength="42.53" lengthAdjust="spacingAndGlyphs">methicillin</text><clipPath id="cp11"><rect x="258.6" y="401.9" width="195.2" height="133.5"/></clipPath><g clip-path="url(#cp11)"><path d="M259.50,403.50 259.64,402.09 259.78,403.83 259.92,405.38 260.05,404.08 260.19,402.68 260.33,403.98 260.47,405.27 260.61,406.67 260.75,404.26 260.88,403.44 261.02,405.90 261.16,406.59 261.30,406.10 261.77,408.58 261.32,407.21 261.38,410.38 261.09,407.23 261.68,407.43 261.66,407.07 262.04,407.90 261.91,409.42 262.17,406.31 261.88,405.85 262.02,405.77 262.17,406.80 262.12,412.65 261.66,411.62 262.55,409.93 262.49,409.74 261.99,410.07 262.14,410.94 262.33,413.11 262.60,410.60 262.74,412.51 262.88,411.35 263.01,412.23 263.15,410.53 263.29,412.06 263.43,411.16 263.56,412.70 263.70,412.43 263.84,411.74 263.98,410.32 264.11,411.88 264.25,412.07 264.39,413.71 264.53,411.67 264.66,412.21 264.80,411.40 264.94,412.41 265.07,412.20 265.21,412.06 265.35,412.01 265.48,411.00 265.62,410.13 265.76,410.67 265.89,412.18 266.03,413.95 266.17,413.90 266.31,414.01 266.44,413.72 266.58,413.54 266.72,412.84 266.85,413.39 266.99,414.93 267.13,412.75 267.26,411.53 267.40,412.30 267.54,414.70 267.67,413.59 267.81,414.21 267.95,414.36 268.09,411.82 268.23,415.67 268.36,416.21 268.50,414.35 268.64,414.51 268.77,413.80 268.91,412.27 269.05,412.81 269.19,413.68 269.33,415.02 269.46,415.00 269.60,413.60 269.85,414.42 269.90,413.25 269.90,415.44 269.94,412.55 270.21,414.33 270.15,416.82 270.44,415.81 270.23,415.39 270.83,416.65 270.60,417.49 270.83,416.07 270.98,419.52 271.19,417.76 271.34,417.03 271.20,416.12 271.51,417.79 271.50,418.43 271.51,415.55 271.63,416.28 271.80,418.00 271.94,418.26 272.07,417.69 272.21,418.97 272.35,418.51 272.48,417.82 272.62,418.18 272.76,418.73 272.89,419.50 273.03,418.03 273.17,417.85 273.31,416.32 273.44,419.69 273.58,420.68 273.72,418.90 273.85,417.90 273.99,416.57 274.13,417.96 274.26,418.51 274.40,418.40 274.53,421.29 274.67,419.71 274.80,417.80 274.94,414.94 275.07,418.98 275.21,418.79 275.34,416.35 275.48,417.83 275.61,416.00 275.75,421.89 275.88,421.02 276.02,419.94 276.15,418.57 276.28,415.51 276.42,417.07 276.55,415.73 276.69,418.07 276.82,415.29 276.96,415.93 277.09,418.93 277.23,420.53 277.36,417.37 277.50,415.79 277.63,418.40 277.77,419.26 277.90,418.00 278.03,417.28 278.17,417.07 278.30,417.09 278.44,416.54 278.57,417.11 278.71,419.93 278.84,420.28 278.98,422.28 279.11,420.27 279.25,419.59 279.38,418.34 279.52,419.11 279.65,417.92 279.78,416.99 279.92,420.00 280.05,422.12 280.19,422.16 280.32,422.92 280.46,421.86 280.59,420.31 280.73,420.91 280.86,420.61 281.00,419.63 281.13,418.62 281.27,418.64 281.40,421.70 281.53,420.66 281.66,421.52 281.79,420.99 281.92,423.30 282.05,422.46 282.18,422.69 282.31,423.59 282.44,421.23 282.57,418.89 282.70,421.64 282.83,420.70 282.96,422.99 283.09,422.51 283.22,423.21 283.35,423.13 283.48,419.36 283.61,421.71 283.74,420.70 283.87,420.23 284.00,421.50 284.13,420.59 284.27,422.36 284.40,423.20 284.54,423.73 284.68,420.48 284.81,420.82 284.94,418.66 285.08,420.95 285.21,422.75 285.35,421.65 285.49,422.66 285.62,423.07 285.75,424.29 285.89,422.39 286.02,421.79 286.16,421.73 286.30,425.08 286.43,425.45 286.56,424.05 286.70,423.60 286.83,424.16 286.96,424.06 287.09,424.19 287.22,423.74 287.35,423.46 287.48,422.20 287.61,422.61 287.74,425.81 287.87,425.51 288.00,424.83 288.13,424.27 288.26,424.49 288.39,424.99 288.52,423.90 288.65,424.67 288.78,425.04 288.91,423.92 289.04,423.52 289.17,423.15 289.30,425.00 289.43,422.86 289.57,425.71 289.70,421.89 289.84,423.74 289.97,423.92 290.11,424.02 290.24,425.18 290.38,427.18 290.51,426.35 290.65,425.79 290.78,424.94 290.92,425.41 291.05,427.19 291.18,425.90 291.32,424.37 291.45,423.71 291.59,423.77 291.72,423.41 291.86,427.07 291.99,427.28 292.13,426.52 292.26,428.85 292.40,426.54 292.53,427.89 292.67,428.49 292.80,427.00 292.94,425.19 293.07,423.97 293.21,424.47 293.35,427.36 293.48,428.94 293.62,425.68 293.76,427.93 293.89,426.55 294.03,426.02 294.17,425.58 294.31,425.74 294.44,423.53 294.58,423.96 294.72,423.74 294.85,426.22 294.99,429.46 295.13,430.53 295.26,427.64 295.40,426.30 295.53,424.23 295.67,425.06 295.80,424.59 295.94,428.84 296.07,428.25 296.21,426.14 296.34,427.93 296.48,427.99 296.61,424.81 296.75,425.38 296.88,426.05 297.02,426.71 297.15,427.15 297.28,426.63 297.42,427.28 297.55,426.39 297.69,425.64 297.82,429.04 297.96,428.53 298.09,428.51 298.23,425.49 298.36,426.61 298.50,428.52 298.63,426.06 298.77,428.82 298.90,427.80 299.03,427.54 299.16,428.22 299.29,427.62 299.42,427.90 299.55,429.44 299.68,427.54 299.81,429.78 299.94,427.02 300.07,425.79 300.20,427.78 300.33,425.78 300.46,426.09 300.59,428.08 300.72,429.19 300.85,425.07 300.98,427.01 301.11,429.72 301.24,429.60 301.37,427.37 301.50,426.70 301.63,426.08 301.77,426.15 301.90,424.93 302.04,425.87 302.18,426.36 302.31,426.64 302.44,428.77 302.58,427.44 302.71,425.18 302.85,428.19 302.99,426.10 303.12,426.35 303.25,426.95 303.39,426.89 303.52,425.92 303.66,426.75 303.80,430.73 303.93,427.99 304.06,427.77 304.20,428.00 304.68,429.84 304.80,430.15 303.88,426.30 304.71,428.24 304.75,430.81 304.56,429.55 304.73,429.29 304.46,430.67 304.23,429.06 305.49,431.51 305.30,432.34 304.88,432.54 304.34,432.50 304.58,431.32 304.72,432.45 305.33,431.73 304.71,433.81 305.68,431.25 305.53,430.24 305.27,430.83 305.79,429.31 304.94,430.89 305.50,433.00 305.65,435.53 305.80,435.09 305.95,437.41 306.10,436.02 306.25,433.84 306.40,433.50 306.53,433.76 306.66,435.92 306.79,434.20 306.92,434.28 307.05,434.37 307.18,432.24 307.31,433.02 307.44,432.31 307.57,430.92 307.70,433.58 307.83,434.17 307.97,433.46 308.10,431.70 308.23,429.41 308.36,432.31 308.49,432.42 308.62,430.05 308.75,431.63 308.88,429.96 309.01,431.58 309.14,432.37 309.27,432.94 309.40,432.40 309.53,432.95 309.67,432.93 309.80,430.99 309.94,431.48 310.07,431.49 310.21,431.94 310.34,432.89 310.48,433.78 310.61,435.64 310.75,430.03 310.88,432.55 311.02,432.56 311.15,436.31 311.28,435.64 311.42,431.56 311.55,433.25 311.69,432.49 311.82,434.52 311.96,432.20 312.09,432.84 312.23,433.06 312.36,433.22 312.50,432.58 312.63,430.50 312.77,433.26 312.90,433.70 313.04,435.07 313.17,434.10 313.31,432.34 313.45,433.57 313.59,434.55 313.73,433.79 313.86,433.77 314.00,433.80 314.13,435.82 314.27,432.69 314.40,432.37 314.54,430.19 314.67,431.17 314.81,431.40 314.94,431.10 315.08,431.33 315.21,435.09 315.35,433.36 315.48,432.82 315.62,436.04 315.75,433.73 315.89,430.35 316.02,432.32 316.16,430.94 316.29,434.26 316.43,431.05 316.56,430.86 316.70,429.20 316.83,431.12 316.97,430.07 317.10,431.80 317.23,431.24 317.36,431.33 317.49,431.12 317.62,433.49 317.75,434.42 317.88,433.55 318.01,431.92 318.14,431.20 318.27,433.07 318.40,437.02 318.53,434.25 318.67,432.90 318.80,432.67 318.93,432.11 319.06,432.21 319.19,433.50 319.32,436.53 319.45,435.55 319.58,434.56 319.71,432.67 319.84,434.86 319.97,435.38 320.10,435.80 320.23,433.81 320.37,433.37 320.50,434.75 320.64,436.77 320.77,436.86 320.91,436.22 321.04,435.16 321.18,435.71 321.31,435.37 321.45,438.48 321.58,434.58 321.72,434.32 321.85,436.64 321.98,435.11 322.12,437.07 322.25,435.52 322.39,435.22 322.52,434.30 322.66,432.42 322.79,432.34 322.93,437.05 323.06,436.30 323.20,435.94 323.33,436.30 323.47,435.81 323.60,434.20 323.73,436.38 323.87,434.75 324.00,434.31 324.14,436.04 324.27,434.72 324.41,432.86 324.54,433.94 324.68,433.91 324.81,435.71 324.95,434.41 325.08,433.52 325.22,434.37 325.35,437.57 325.48,436.36 325.62,436.32 325.75,436.16 325.89,436.60 326.02,437.78 326.16,438.96 326.29,434.89 326.43,438.04 326.56,437.17 326.70,436.47 326.83,440.37 326.97,437.96 327.10,437.10 327.23,440.24 327.37,439.47 327.50,436.14 327.64,437.17 327.77,437.84 327.91,436.71 328.04,432.94 328.18,434.53 328.31,435.24 328.45,434.04 328.58,437.95 328.72,436.15 328.85,435.22 328.99,434.97 329.12,434.08 329.26,433.71 329.39,434.82 329.53,435.46 329.66,434.39 329.80,434.56 329.93,432.61 330.07,434.72 330.20,434.60 330.33,433.63 330.47,434.83 330.60,433.66 330.74,433.93 330.87,435.22 331.01,433.63 331.14,438.69 331.28,436.80 331.41,436.18 331.55,435.06 331.68,438.26 331.82,439.16 331.95,437.95 332.09,435.12 332.22,435.52 332.36,437.43 332.49,436.51 332.63,435.27 332.76,434.93 332.90,435.53 333.03,437.02 333.17,436.64 333.30,438.00 333.43,437.67 333.57,442.18 333.70,442.27 333.84,438.13 333.97,438.80 334.11,438.69 334.24,438.35 334.38,440.05 334.51,438.63 334.65,438.18 334.78,437.99 334.92,438.38 335.05,440.64 335.18,440.70 335.32,437.60 335.45,437.90 335.59,437.51 335.72,439.84 335.86,439.81 335.99,440.84 336.13,439.82 336.26,436.73 336.40,439.23 336.53,439.82 336.67,440.48 336.80,439.70 336.93,438.09 337.07,439.34 337.20,438.66 337.34,438.45 337.47,439.97 337.61,440.54 337.74,438.90 337.88,437.13 338.01,435.99 338.15,437.68 338.28,441.05 338.42,440.50 338.55,437.04 338.68,437.95 338.82,440.22 338.95,442.93 339.09,443.15 339.22,442.06 339.36,441.46 339.49,439.39 339.63,439.62 339.76,439.90 339.90,439.38 340.03,440.48 340.17,440.21 340.30,441.00 340.43,441.26 340.57,443.27 340.70,442.94 340.84,442.35 340.97,441.17 341.11,438.85 341.24,440.15 341.38,441.60 341.51,439.79 341.65,442.56 341.78,441.16 341.92,441.74 342.05,440.90 342.18,439.23 342.32,443.63 342.45,440.35 342.59,442.32 342.72,440.82 342.86,441.55 342.99,440.19 343.13,440.31 343.26,442.36 343.40,444.63 343.53,441.25 343.67,441.36 343.80,441.40 343.93,442.84 344.07,441.02 344.20,442.41 344.34,440.68 344.47,442.18 344.61,442.47 344.74,443.76 344.88,442.96 345.01,440.37 345.15,442.27 345.28,440.31 345.42,442.43 345.55,444.33 345.68,443.65 345.82,441.71 345.95,443.67 346.09,442.84 346.22,440.45 346.36,440.98 346.49,443.84 346.63,442.28 346.76,442.40 346.90,441.77 347.03,439.55 347.17,440.56 347.30,442.30 347.43,442.21 347.57,442.54 347.70,442.06 347.84,438.94 347.97,442.86 348.11,443.46 348.24,444.11 348.38,444.73 348.51,442.32 348.65,441.22 348.78,442.19 348.92,444.55 349.05,440.32 349.18,441.01 349.32,440.50 349.45,442.22 349.59,444.16 349.72,442.18 349.86,440.06 349.99,441.23 350.13,441.12 350.26,439.18 350.40,442.12 350.53,441.02 350.67,442.43 350.80,441.60 350.93,439.97 351.07,442.77 351.20,439.99 351.34,442.80 351.47,439.53 351.61,443.20 351.74,441.90 351.88,439.71 352.01,440.97 352.15,442.31 352.28,440.82 352.42,441.09 352.55,442.37 352.68,442.20 352.82,438.36 352.95,440.30 353.09,442.49 353.22,443.10 353.36,444.42 353.49,442.37 353.63,446.56 353.76,445.44 353.90,444.35 354.03,445.17 354.17,445.30 354.30,443.20 354.44,444.04 354.57,442.23 354.71,444.47 354.85,444.12 354.98,439.81 355.12,439.65 355.26,442.32 355.39,442.56 355.53,442.89 355.67,443.58 355.81,442.88 355.94,445.13 356.08,441.99 356.22,441.17 356.35,442.11 356.49,443.13 356.63,443.50 356.76,444.81 356.90,441.40 357.03,441.89 357.16,443.94 357.29,443.52 357.42,440.80 357.55,441.58 357.68,445.92 357.81,445.24 357.94,442.88 358.07,438.73 358.20,440.36 358.33,441.10 358.46,442.86 358.59,447.56 358.72,446.54 358.85,445.52 358.98,443.06 359.11,441.86 359.24,443.30 359.37,443.46 359.50,444.90 359.63,449.85 359.77,445.99 359.90,444.29 360.04,446.83 360.18,445.87 360.31,443.23 360.44,446.83 360.58,445.27 360.71,442.94 360.85,445.10 360.99,446.17 361.12,445.11 361.25,446.61 361.39,447.38 361.52,444.65 361.66,441.64 361.80,440.73 361.93,443.50 362.06,447.17 362.20,445.80 362.33,448.02 362.47,448.95 362.60,450.07 362.73,447.14 362.87,447.93 363.00,443.57 363.13,445.95 363.27,446.21 363.40,445.40 363.53,444.46 363.67,442.89 363.80,444.54 363.93,447.10 364.07,445.03 364.20,445.86 364.33,443.99 364.47,444.93 364.60,442.97 364.73,444.71 364.87,444.22 365.00,444.96 365.13,443.54 365.27,441.99 365.40,442.91 365.53,445.63 365.67,447.50 365.80,444.73 365.93,445.73 366.07,445.96 366.20,445.35 366.33,441.64 366.47,443.64 366.60,443.80 366.74,442.15 366.87,445.57 367.01,446.17 367.15,446.18 367.28,440.67 367.42,444.46 367.56,446.02 367.69,443.15 367.83,446.25 367.97,445.84 368.11,445.33 368.24,444.31 368.38,443.51 368.52,444.37 368.65,451.03 368.79,448.33 368.93,447.50 369.06,445.78 369.20,446.70 369.33,445.19 369.46,444.95 369.59,444.18 369.72,446.95 369.85,445.78 369.98,447.30 370.11,444.14 370.24,446.65 370.37,445.74 370.50,446.56 370.63,445.38 370.76,443.48 370.89,446.45 371.02,444.47 371.15,444.19 371.28,442.69 371.41,444.01 371.54,443.32 371.67,444.18 371.80,443.80 371.23,444.71 372.20,441.97 372.44,445.29 372.38,442.93 372.12,444.96 371.62,445.90 372.70,445.98 370.69,444.87 372.11,445.34 371.38,442.55 371.84,446.04 370.91,446.52 373.50,448.28 371.39,447.07 372.79,445.08 371.37,446.78 372.72,449.48 370.58,449.49 372.63,448.37 372.91,446.13 373.01,450.21 371.54,447.95 373.01,450.26 373.20,451.72 371.84,450.01 372.87,446.43 371.82,452.67 372.79,450.10 371.08,450.85 371.33,449.32 371.67,453.79 373.94,453.42 373.53,455.29 371.27,455.61 371.72,452.35 374.50,451.45 372.85,448.80 373.54,448.81 371.97,453.46 372.49,456.60 372.70,456.48 372.13,453.26 373.00,453.07 374.50,453.57 372.50,453.60 372.63,453.47 372.76,452.99 372.89,452.47 373.03,452.28 373.16,451.19 373.29,451.65 373.42,455.09 373.55,454.95 373.68,454.60 373.82,455.44 373.95,457.03 374.08,456.91 374.21,457.22 374.34,455.17 374.47,455.04 374.61,454.21 374.74,455.15 374.87,454.35 375.00,456.10 375.13,455.00 375.27,455.58 375.40,455.77 375.53,455.82 375.67,455.52 375.80,458.51 375.93,456.84 376.07,455.18 376.20,456.70 376.33,455.13 376.47,454.67 376.60,456.52 376.73,454.28 376.87,452.76 377.00,455.75 377.13,458.75 377.27,455.30 377.40,455.46 377.53,458.07 377.67,454.72 377.80,455.48 377.93,455.26 378.07,456.94 378.20,458.40 378.75,454.37 378.49,456.38 377.24,456.63 377.73,456.87 378.06,457.09 378.47,456.47 379.06,457.94 378.70,455.32 379.04,458.41 378.77,455.66 379.40,455.20 379.16,455.53 378.28,459.18 378.15,454.87 379.61,452.25 380.09,454.36 378.80,451.14 379.89,455.63 379.40,454.20 379.53,456.26 379.67,456.64 379.80,455.45 379.93,455.06 380.07,455.10 380.20,456.57 380.33,455.49 380.47,456.03 380.60,458.22 380.73,454.74 380.87,454.25 381.00,456.39 381.13,455.84 381.27,455.93 381.40,459.86 381.53,458.49 381.67,456.71 381.80,458.74 381.93,461.73 382.07,457.04 382.20,456.16 382.33,457.28 382.47,456.50 382.60,457.80 382.73,460.94 382.87,459.58 383.00,457.47 383.14,458.15 383.27,456.14 383.41,455.68 383.54,456.64 383.68,460.74 383.81,454.28 383.95,456.44 384.08,458.69 384.22,458.37 384.35,460.17 384.49,458.24 384.62,456.97 384.76,455.98 384.89,454.33 385.03,457.88 385.16,454.29 385.30,454.74 385.43,454.14 385.57,453.41 385.70,455.00 385.68,450.87 385.91,454.15 385.91,456.63 386.13,455.13 385.88,456.95 385.93,454.05 386.58,457.52 386.42,455.60 386.85,457.98 386.50,456.43 387.32,459.51 386.42,460.94 386.74,459.75 386.73,458.63 386.99,457.66 387.28,461.32 387.18,460.42 387.19,458.26 387.57,461.00 387.50,463.32 387.07,460.93 387.60,459.80 387.73,460.84 387.86,457.08 387.99,461.18 388.13,458.91 388.26,459.11 388.39,456.83 388.52,457.41 388.65,456.81 388.78,460.01 388.92,459.57 389.05,456.94 389.18,454.69 389.31,456.97 389.44,456.99 389.57,455.88 389.71,458.29 389.84,457.76 389.97,458.01 390.10,457.80 390.18,457.06 390.24,457.13 390.50,459.13 390.61,456.01 390.74,459.91 390.83,461.66 390.88,460.23 390.97,458.35 391.24,457.85 391.43,460.20 391.41,460.51 391.59,461.27 391.86,463.96 391.77,463.65 391.99,461.19 392.14,460.15 392.28,462.29 392.29,462.41 392.47,460.79 392.60,462.20 392.73,464.06 392.86,465.58 392.99,465.13 393.13,463.96 393.26,464.11 393.39,464.43 393.52,465.37 393.65,464.99 393.78,460.85 393.92,463.62 394.05,463.66 394.18,462.28 394.31,463.48 394.44,463.53 394.57,463.00 394.71,460.09 394.84,462.13 394.97,463.62 395.10,463.00 395.70,467.80 395.83,467.76 395.97,465.18 396.10,467.76 396.23,469.13 396.37,468.74 396.50,469.04 396.63,467.86 396.77,466.96 396.90,468.67 397.03,467.82 397.17,468.45 397.30,473.03 397.43,471.53 397.57,469.76 397.70,466.21 397.83,467.90 397.97,469.63 398.10,467.80 398.23,467.98 398.37,464.67 398.50,468.28 398.63,467.63 398.77,469.59 398.90,471.45 399.03,469.56 399.17,470.86 399.30,470.11 399.43,469.11 399.57,468.66 399.70,467.57 399.83,470.81 399.97,471.30 400.10,469.30 400.27,468.54 400.29,468.17 400.43,471.43 400.64,472.70 400.78,472.81 400.91,473.41 401.03,472.80 401.13,473.60 401.36,473.89 401.44,472.31 401.53,471.15 401.66,472.19 401.81,470.76 401.96,472.22 401.99,473.75 402.20,475.62 402.32,472.73 402.51,473.91 402.60,473.50 402.73,473.09 402.86,473.59 402.99,470.80 403.12,472.79 403.26,473.00 403.39,472.53 403.52,474.57 403.65,476.80 403.78,476.29 403.91,473.04 404.04,475.79 404.17,473.60 404.30,473.31 404.43,472.29 404.57,473.67 404.70,474.31 404.83,473.83 404.96,473.05 405.09,472.88 405.22,472.38 405.35,474.50 405.48,472.72 405.61,472.71 405.74,472.60 405.88,471.64 406.01,472.17 406.14,470.26 406.27,472.73 406.40,473.00 406.53,474.00 406.66,473.16 406.79,476.11 406.92,473.27 407.06,474.71 407.19,475.21 407.32,473.80 407.45,473.93 407.58,476.00 407.71,475.45 407.84,475.76 407.97,477.86 408.10,476.74 408.23,473.29 408.37,473.78 408.50,476.71 408.63,476.25 408.76,474.61 408.89,472.65 409.02,475.95 409.15,479.21 409.28,475.85 409.41,473.26 409.54,476.95 409.68,476.62 409.81,477.05 409.94,477.27 410.07,476.50 410.20,478.50 410.33,478.68 410.46,480.23 410.60,479.89 410.73,478.27 410.86,480.43 410.99,479.31 411.12,480.13 411.26,477.92 411.39,479.86 411.52,480.74 411.65,482.01 411.79,480.39 411.92,480.56 412.05,478.97 412.18,480.90 412.31,481.45 412.45,482.20 412.58,480.05 412.71,477.96 412.84,479.20 412.97,479.45 413.11,478.69 413.24,480.72 413.37,482.06 413.50,481.65 413.64,482.75 413.77,482.00 413.90,480.60 414.03,479.43 414.16,479.13 414.29,479.37 414.42,481.15 414.55,482.14 414.68,481.13 414.81,482.21 414.94,479.49 415.07,479.68 415.20,482.40 415.33,481.56 415.46,482.23 415.59,477.55 415.72,476.23 415.85,477.08 415.98,480.46 416.11,482.63 416.24,479.62 416.37,477.92 416.50,479.50 416.13,477.46 416.48,480.07 417.05,483.33 416.88,480.35 417.21,480.33 416.73,482.23 417.24,483.01 417.15,481.80 416.94,482.80 417.77,481.03 416.94,481.69 416.58,482.82 416.70,482.68 416.56,481.97 417.92,481.39 416.97,482.21 417.32,485.83 417.43,486.81 418.64,482.41 418.18,482.73 417.25,485.67 417.67,484.99 418.01,485.77 418.11,483.10 418.01,485.66 417.96,486.36 418.45,485.74 418.96,485.98 418.82,487.54 418.55,487.85 419.05,484.99 418.72,488.93 418.66,487.15 418.88,489.09 418.72,486.29 418.77,485.81 418.52,485.57 419.00,487.80 419.13,491.00 419.26,491.76 419.40,485.25 419.53,484.64 419.66,485.85 419.79,486.47 419.93,484.19 420.06,489.27 420.19,484.68 420.32,489.05 420.45,490.63 420.59,488.51 420.72,487.08 420.85,488.46 420.98,489.23 421.11,483.78 421.25,484.10 421.38,488.83 421.51,488.90 421.64,488.19 421.77,486.51 421.91,486.71 422.04,486.68 422.17,495.85 422.30,488.72 422.44,493.43 422.57,492.43 422.70,490.00 422.86,491.67 423.35,490.00 423.01,491.84 423.17,491.02 423.14,488.26 423.50,488.77 422.93,492.23 423.80,491.48 423.32,488.61 423.71,493.64 423.52,491.83 423.80,492.93 424.17,493.57 424.07,495.20 424.27,492.77 424.42,493.16 424.41,492.33 424.42,492.05 424.99,494.00 424.94,493.05 424.92,495.13 424.84,496.85 425.18,497.31 425.20,495.40 425.33,488.22 425.46,493.67 425.59,496.58 425.72,501.14 425.85,495.07 425.98,495.98 426.11,497.02 426.24,494.05 426.37,498.65 426.50,498.40 426.63,495.18 426.76,493.08 426.89,494.42 427.02,502.11 427.15,504.18 427.28,493.26 427.41,491.14 427.54,496.85 427.67,496.92 427.80,497.40 427.93,495.82 428.06,498.69 428.20,498.50 428.33,499.03 428.46,499.26 428.59,495.97 428.73,501.11 428.86,498.45 428.99,501.72 429.12,501.83 429.25,500.30 429.39,500.13 429.52,499.70 429.65,495.05 429.78,497.42 429.91,500.30 430.05,496.16 430.18,495.13 430.31,501.49 430.44,503.13 430.57,497.75 430.71,501.13 430.84,501.11 430.97,503.85 431.10,501.57 431.24,501.14 431.37,499.74 431.50,502.00 431.63,501.64 431.76,501.40 431.89,499.88 432.02,500.08 432.16,499.03 432.29,502.15 432.42,498.90 432.55,496.35 432.68,496.91 432.81,502.32 432.94,500.05 433.07,502.16 433.20,503.06 433.33,500.10 433.47,502.25 433.60,502.30 433.73,500.83 433.86,498.54 433.99,499.33 434.12,496.39 434.25,497.89 434.38,497.56 434.51,500.01 434.64,500.55 434.78,498.13 434.91,501.11 435.04,502.93 435.17,500.59 435.30,499.00 435.43,497.62 435.56,499.84 435.70,493.00 435.83,495.40 435.96,499.26 436.09,504.28 436.23,498.95 436.36,502.95 436.49,506.28 436.62,506.28 436.75,495.53 436.89,500.65 437.02,500.09 437.15,502.02 437.28,499.61 437.41,497.63 437.55,497.94 437.68,502.53 437.81,502.43 437.94,499.45 438.07,500.16 438.21,501.66 438.34,501.41 438.47,499.75 438.60,497.57 438.74,496.58 438.87,497.03 439.00,499.00 439.13,496.76 439.26,493.92 439.39,493.27 439.52,498.90 439.65,495.61 439.78,493.87 439.92,496.47 440.05,501.17 440.18,502.25 440.31,498.20 440.44,495.08 440.57,495.20 440.70,494.18 440.83,494.68 440.96,497.45 441.09,494.32 441.22,493.88 441.35,494.99 441.48,495.91 441.62,494.22 441.75,493.48 441.88,492.26 442.01,492.73 442.14,496.13 442.27,495.24 442.40,488.39 442.53,494.25 442.66,494.79 442.79,492.80 442.92,493.63 443.05,487.75 443.18,487.64 443.32,495.27 443.45,500.39 443.58,501.79 443.71,495.17 443.84,494.64 443.97,496.30 444.10,494.00 444.23,491.75 444.36,498.09 444.49,494.00 444.63,495.50 444.76,492.23 444.89,495.17 445.02,495.32 445.15,498.38 445.28,493.73 445.42,495.22 445.55,500.65 445.68,494.80 445.81,496.92 445.94,498.01 446.07,496.08 446.21,496.12 446.34,500.67 446.47,501.67 446.60,497.70 446.82,500.86 446.81,496.20 447.38,502.38 445.86,496.43 447.09,496.31 446.93,496.70 447.62,499.33 447.89,500.04 447.57,496.15 446.64,499.78 446.67,503.36 448.85,497.68 447.84,503.02 448.32,505.19 448.06,499.58 447.81,504.40 447.73,502.74 447.77,504.04 447.50,501.16 448.33,499.40 448.09,502.61 448.55,499.87 449.11,502.76 448.32,501.67 449.40,504.08 448.65,503.59 448.58,501.22 449.30,505.50 448.09,507.59 448.54,507.73 449.10,504.50 448.74,507.05 449.15,504.78 449.46,507.45 449.46,508.32 449.57,510.24 449.67,510.46 450.06,502.96 449.98,501.69 450.04,498.59 450.08,501.23 449.87,502.74 450.36,504.45 450.48,506.44 450.57,501.36 450.90,501.91 450.73,500.00 451.17,501.56 450.90,496.19 451.57,497.01 451.50,502.20 451.22,501.92 451.47,503.35 452.06,498.62 452.06,495.09 451.71,498.08 451.84,498.93 451.99,499.10 452.73,495.37 452.54,495.74 452.59,496.93 452.36,493.98 452.88,490.16 452.55,494.91 452.90,497.00 453.03,498.37 453.16,498.98 453.29,504.13 453.42,500.41 453.55,500.45 453.68,499.63 453.81,499.73 453.94,497.62 454.07,495.81 454.20,496.50" fill="none" stroke="#e78ac3" stroke-width="1.3" stroke-linejoin="round"/><path d="M259.50,422.30 259.76,422.25 260.02,421.83 260.28,422.10 260.54,421.68 260.80,421.50 261.04,421.51 261.29,422.14 261.53,422.34 261.78,422.66 262.02,422.96 262.27,423.59 262.51,424.26 262.76,424.64 263.00,424.80 263.23,424.62 263.45,424.00 263.68,423.46 263.90,423.18 264.12,423.43 264.35,422.62 264.57,422.56 264.80,422.30 264.75,422.75 264.98,423.15 265.05,424.31 265.35,424.27 265.53,424.51 265.14,424.52 265.11,424.41 265.44,425.07 265.35,425.44 265.71,425.45 265.84,426.59 265.70,427.67 265.34,427.31 265.75,427.19 265.76,427.92 266.15,427.65 265.85,428.82 265.69,429.48 265.79,429.81 266.37,429.64 266.63,430.08 266.57,430.32 266.50,431.00 266.74,431.15 266.97,431.03 267.21,431.07 267.45,431.27 267.68,431.18 267.92,431.10 268.15,430.86 268.39,430.23 268.63,430.10 268.86,430.02 269.10,430.70 269.33,431.01 269.55,430.82 269.78,431.01 270.00,430.83 270.23,431.58 270.45,431.95 270.68,432.60 270.90,433.14 271.12,433.56 271.35,434.33 271.57,434.84 271.80,434.20 272.04,435.46 272.27,435.83 272.51,435.75 272.75,435.43 272.98,435.98 273.22,436.28 273.45,436.84 273.69,436.84 273.93,437.15 274.16,437.26 274.40,437.70 274.57,438.30 274.74,438.44 274.80,438.53 274.99,438.76 275.19,439.10 275.30,439.36 275.36,439.48 275.69,440.02 275.84,441.20 275.91,441.06 276.07,441.43 276.23,441.99 276.45,442.57 276.50,443.37 276.67,443.78 276.82,443.48 277.00,444.00 277.23,444.02 277.47,444.28 277.70,444.24 277.93,444.46 278.17,444.70 278.40,444.68 278.63,444.99 278.87,444.55 279.10,444.70 279.33,444.39 279.57,443.99 279.80,444.59 280.03,444.73 280.27,445.21 280.50,445.30 280.72,445.21 280.94,445.28 281.16,445.44 281.38,445.26 281.60,444.96 281.82,444.74 282.05,444.49 282.27,444.63 282.49,444.65 282.71,444.38 282.93,443.92 283.15,444.34 283.37,444.24 283.59,443.59 283.81,444.28 284.03,444.29 284.25,444.48 284.48,444.97 284.70,444.55 284.92,444.90 285.14,443.88 285.36,443.81 285.58,443.99 285.80,443.80 286.03,443.33 286.27,443.95 286.50,443.85 286.73,443.72 286.97,443.37 287.20,444.00 287.43,443.93 287.67,444.57 287.90,444.17 288.13,444.17 288.37,444.68 288.60,444.15 288.83,444.94 289.07,445.22 289.30,445.30 289.53,446.07 289.75,445.80 289.98,445.64 290.20,445.30 290.43,444.59 290.66,444.60 290.88,444.94 291.11,444.32 291.33,444.23 291.56,444.10 291.79,444.53 292.01,443.92 292.24,444.39 292.47,444.74 292.69,444.25 292.92,444.21 293.14,444.52 293.37,443.90 293.60,444.17 293.82,443.87 294.05,444.28 294.27,443.65 294.50,443.80 294.73,443.75 294.97,444.30 295.20,444.26 295.43,444.37 295.67,444.52 295.90,445.14 296.13,445.06 296.37,445.43 296.60,445.00 296.83,445.16 297.07,445.36 297.30,445.33 297.53,445.54 297.77,446.09 298.00,445.80 298.22,446.27 298.44,446.31 298.66,446.45 298.88,446.43 299.10,445.90 299.32,445.64 299.55,446.07 299.77,446.24 299.99,446.05 300.21,446.01 300.43,445.81 300.65,445.89 300.87,445.95 301.09,446.27 301.31,446.31 301.53,446.22 301.75,446.00 301.98,446.08 302.20,445.90 302.42,446.51 302.64,445.87 302.86,446.10 303.08,446.01 303.30,446.40 303.52,446.61 303.74,446.75 303.96,446.71 304.18,446.80 304.40,446.72 304.62,446.17 304.85,446.95 305.07,446.38 305.29,446.34 305.51,446.52 305.73,447.16 305.95,447.20 306.17,447.29 306.39,447.07 306.61,447.69 306.83,447.46 307.05,448.18 307.28,447.94 307.50,447.56 307.72,447.41 307.94,447.73 308.16,448.02 308.38,448.43 308.60,448.00 308.82,448.49 309.05,448.29 309.27,448.23 309.50,447.73 309.72,447.60 309.95,448.01 310.17,448.16 310.39,448.51 310.62,447.98 310.84,448.08 311.07,447.83 311.29,448.41 311.52,448.41 311.74,447.87 311.96,447.77 312.19,448.36 312.41,448.42 312.64,448.49 312.86,448.00 313.08,447.86 313.31,447.96 313.53,447.88 313.76,448.16 313.98,448.94 314.21,448.96 314.43,448.57 314.65,448.56 314.88,448.20 315.10,448.08 315.33,448.22 315.55,448.00 315.78,447.95 316.00,448.20 316.22,448.36 316.44,448.97 316.66,448.90 316.88,448.36 317.10,448.20 317.32,448.57 317.54,448.60 317.76,448.77 317.98,448.54 318.20,449.36 318.42,448.61 318.64,448.28 318.86,449.02 319.08,448.96 319.30,449.18 319.52,448.83 319.74,449.30 319.96,448.98 320.18,449.18 320.40,449.72 320.62,449.96 320.84,449.73 321.06,449.29 321.28,449.60 321.50,449.80 321.73,450.11 321.95,449.84 322.18,449.27 322.41,449.07 322.64,449.35 322.86,448.39 323.09,448.10 323.32,448.31 323.55,448.30 323.77,448.20 324.00,448.30 324.22,448.61 324.44,448.90 324.66,448.43 324.88,448.48 325.11,448.22 325.33,448.24 325.55,448.55 325.77,448.86 325.99,448.93 326.21,448.30 326.43,447.92 326.65,447.94 326.87,447.61 327.09,448.32 327.32,448.40 327.54,448.12 327.76,448.14 327.98,448.24 328.20,448.91 328.42,448.69 328.64,448.55 328.86,448.93 329.08,448.16 329.31,447.95 329.53,448.29 329.75,448.46 329.97,447.96 330.19,447.82 330.41,448.16 330.63,447.95 330.85,447.86 331.07,447.97 331.29,449.34 331.52,448.63 331.74,448.41 331.96,448.30 332.18,448.09 332.40,448.30 332.80,493.40 333.02,493.45 333.24,493.81 333.47,493.96 333.69,493.78 333.91,494.09 334.13,494.05 334.36,493.20 334.58,492.97 334.80,493.40 334.92,493.64 334.74,493.69 334.97,494.23 334.99,493.86 334.91,494.66 334.76,495.03 335.15,495.66 335.07,496.20 335.13,496.58 335.07,497.23 335.11,497.12 335.12,497.24 335.36,497.99 335.29,498.47 335.53,499.22 335.33,499.52 335.49,499.81 335.39,500.21 335.59,500.27 335.73,501.47 335.64,501.63 335.61,501.77 335.85,501.99 336.05,501.95 335.60,502.88 335.72,502.76 335.75,503.57 336.05,503.50 336.02,503.79 335.72,504.25 336.11,504.99 336.22,505.54 335.90,506.19 336.08,506.26 336.48,506.18 335.91,506.29 336.28,506.96 336.32,507.71 336.30,508.00 336.51,508.21 336.72,508.45 336.62,508.67 336.92,510.31 336.98,510.08 336.93,510.28 337.37,510.67 337.33,510.95 337.57,511.56 337.88,512.23 337.80,512.40 338.02,512.56 338.25,512.35 338.47,512.88 338.69,512.90 338.92,513.08 339.14,512.74 339.36,513.65 339.58,513.91 339.81,514.48 340.03,514.19 340.25,513.69 340.48,514.14 340.70,513.90" fill="none" stroke="#a6d854" stroke-width="1.2" stroke-linejoin="round"/></g><g><line x1="525.4" y1="402.9" x2="525.4" y2="535.4" stroke="#e5e5e5" stroke-width="1"/><line x1="574.2" y1="402.9" x2="574.2" y2="535.4" stroke="#e5e5e5" stroke-width="1"/><line x1="623" y1="402.9" x2="623" y2="535.4" stroke="#e5e5e5" stroke-width="1"/><line x1="476.6" y1="424.98" x2="671.8" y2="424.98" stroke="#e5e5e5" stroke-width="1"/><line x1="476.6" y1="447.07" x2="671.8" y2="447.07" stroke="#e5e5e5" stroke-width="1"/><line x1="476.6" y1="469.15" x2="671.8" y2="469.15" stroke="#e5e5e5" stroke-width="1"/><line x1="476.6" y1="491.23" x2="671.8" y2="491.23" stroke="#e5e5e5" stroke-width="1"/><line x1="476.6" y1="513.32" x2="671.8" y2="513.32" stroke="#e5e5e5" stroke-width="1"/><rect x="476.6" y="402.9" width="195.2" height="132.5" fill="none" stroke="#d4d4d4" stroke-width="1.1"/></g><text x="476.60" y="547.80" text-anchor="middle" font-size="10.12" fill="#262626" stroke="#262626" stroke-width="0.12" textLength="13.30" lengthAdjust="spacingAndGlyphs">0%</text><text x="525.40" y="547.80" text-anchor="middle" font-size="10.12" fill="#262626" stroke="#262626" stroke-width="0.12" textLength="18.41" lengthAdjust="spacingAndGlyphs">10%</text><text x="574.20" y="547.80" text-anchor="middle" font-size="10.12" fill="#262626" stroke="#262626" stroke-width="0.12" textLength="18.41" lengthAdjust="spacingAndGlyphs">20%</text><text x="623.00" y="547.80" text-anchor="middle" font-size="10.12" fill="#262626" stroke="#262626" stroke-width="0.12" textLength="18.41" lengthAdjust="spacingAndGlyphs">30%</text><text x="671.80" y="547.80" text-anchor="middle" font-size="10.12" fill="#262626" stroke="#262626" stroke-width="0.12" textLength="18.41" lengthAdjust="spacingAndGlyphs">40%</text><text x="574.20" y="399.90" text-anchor="middle" font-size="9.03" font-weight="bold" fill="#111" stroke="#111" stroke-width="0.12" textLength="34.41" lengthAdjust="spacingAndGlyphs">oxacillin</text><clipPath id="cp21"><rect x="476.6" y="401.9" width="195.2" height="133.5"/></clipPath><g clip-path="url(#cp21)"><path d="M477.90,412.40 478.20,422.50 478.80,422.50 478.93,424.29 479.06,426.14 479.19,422.63 479.32,421.31 479.45,423.51 479.58,427.19 479.71,425.90 479.84,422.38 479.97,422.06 480.10,424.30 480.24,423.72 480.37,426.39 480.50,425.50 480.64,424.59 480.78,424.67 480.91,425.62 481.05,424.23 481.18,425.37 481.31,426.42 481.45,429.69 481.59,427.52 481.72,428.95 481.86,425.54 481.99,428.28 482.12,427.95 482.26,426.54 482.40,427.21 482.53,429.43 482.67,427.86 482.80,428.00 482.94,430.20 483.07,431.99 483.21,432.85 483.35,433.18 483.48,427.48 483.62,428.78 483.76,427.20 483.89,429.96 484.03,429.20 484.17,429.27 484.31,429.80 484.44,427.89 484.58,428.65 484.72,427.29 484.85,432.51 484.99,429.24 485.13,429.08 485.26,425.45 485.40,428.90 485.53,424.64 485.66,425.54 485.79,429.05 485.92,430.13 486.05,429.42 486.18,427.21 486.32,431.37 486.45,426.91 486.58,425.59 486.71,427.75 486.84,425.40 486.97,427.03 487.10,426.90 487.24,429.05 487.37,427.78 487.50,428.38 487.64,427.93 487.78,426.40 487.91,421.90 488.05,422.99 488.18,426.26 488.31,424.17 488.45,425.70 488.59,427.87 488.72,431.00 488.86,426.69 488.99,426.96 489.12,428.66 489.26,429.95 489.40,426.61 489.53,432.09 489.67,428.65 489.80,429.30 489.94,432.26 490.07,429.92 490.21,430.81 490.35,434.63 490.48,433.32 490.62,431.28 490.76,427.44 490.89,427.08 491.03,424.83 491.17,433.61 491.31,426.80 491.44,421.82 491.58,431.49 491.72,433.96 491.85,430.30 491.99,432.36 492.13,428.48 492.26,427.83 492.40,429.80 492.53,430.55 492.66,431.16 492.79,428.96 492.92,433.94 493.05,433.18 493.18,431.21 493.31,426.81 493.44,428.90 493.57,428.33 493.70,428.76 493.83,431.31 493.96,428.33 494.09,429.59 494.22,431.47 494.35,430.86 494.48,436.01 494.61,426.52 494.74,427.85 494.87,425.15 495.00,428.60 497.78,427.49 494.83,424.10 495.30,429.44 493.58,432.19 494.28,433.46 495.98,427.93 494.64,430.86 495.26,428.42 495.35,429.96 493.08,427.84 495.84,433.73 494.00,428.81 495.31,428.75 497.33,424.87 495.52,430.78 496.18,432.78 496.15,435.61 497.71,437.30 495.60,433.64 495.90,430.91 496.22,430.54 496.84,433.43 496.30,433.70 496.84,430.72 496.44,432.20 495.77,432.29 495.95,434.61 496.78,437.95 497.12,440.53 497.52,439.18 497.67,436.76 497.24,435.82 497.44,434.10 497.11,437.40 497.39,433.25 497.43,436.70 497.29,434.14 496.65,435.37 498.36,435.05 497.77,433.13 498.24,440.91 497.99,441.63 499.16,435.74 498.33,438.38 498.65,443.19 497.96,440.59 498.50,439.00 498.63,439.43 498.77,439.09 498.90,437.62 499.04,436.71 499.18,436.14 499.31,438.55 499.44,438.18 499.58,440.99 499.71,443.79 499.85,442.95 499.99,441.96 500.12,446.05 500.25,445.08 500.39,438.91 500.52,439.00 500.66,441.71 500.80,439.79 500.93,443.83 501.06,438.35 501.20,443.00 501.46,435.90 501.23,441.79 501.76,442.29 501.53,438.99 501.68,437.40 501.88,435.25 502.08,435.15 502.05,445.27 502.48,444.96 502.45,435.70 502.52,438.74 502.63,441.93 502.76,441.65 502.83,440.04 503.05,446.08 503.45,438.54 503.28,443.31 503.33,438.58 503.51,442.07 503.79,437.70 503.80,438.30 503.94,437.18 504.07,437.62 504.21,443.30 504.35,442.22 504.48,442.86 504.62,440.71 504.76,442.34 504.89,438.78 505.03,440.65 505.17,441.48 505.31,437.63 505.44,433.79 505.58,437.48 505.72,436.89 505.85,438.66 505.99,435.84 506.13,437.97 506.26,439.87 506.40,436.70 506.53,444.57 506.66,444.73 506.79,440.99 506.92,442.71 507.05,437.65 507.18,441.02 507.31,439.42 507.44,442.30 507.57,440.62 507.70,438.56 507.83,436.61 507.96,441.53 508.09,440.01 508.22,441.42 508.35,441.37 508.48,434.39 508.61,439.47 508.74,438.62 508.87,440.57 509.00,440.00 508.67,441.83 509.20,440.13 509.55,441.64 509.38,439.32 509.10,442.30 509.42,446.94 509.79,447.20 510.11,449.01 509.56,444.43 510.16,443.43 509.89,444.38 510.11,441.02 510.20,443.08 510.74,442.83 510.94,442.04 510.67,443.91 510.96,446.94 510.80,444.28 511.14,444.17 511.23,447.59 510.95,444.01 511.47,445.35 511.36,448.41 511.79,442.84 511.70,445.50 511.84,444.01 511.97,441.32 512.11,448.32 512.25,448.51 512.38,446.17 512.52,445.85 512.66,442.77 512.79,446.44 512.93,443.65 513.07,442.52 513.21,442.45 513.34,439.97 513.48,445.05 513.62,448.52 513.75,447.10 513.89,438.63 514.03,440.45 514.16,440.05 514.30,442.50 514.43,442.61 514.57,436.52 514.70,434.62 514.84,438.29 514.97,443.67 515.11,442.28 515.24,448.46 515.38,442.08 515.51,442.30 515.65,441.84 515.78,439.75 515.92,444.43 516.05,439.25 516.18,438.17 516.32,439.70 516.45,439.90 516.59,444.44 516.72,441.39 516.86,443.18 516.99,441.08 517.13,445.20 517.26,443.01 517.40,443.00 517.53,437.69 517.67,442.35 517.80,441.80 517.93,440.19 518.07,443.72 518.20,443.90 518.34,444.06 518.47,445.74 518.61,444.24 518.74,440.21 518.88,441.69 519.01,442.24 519.15,438.68 519.28,442.43 519.42,446.12 519.55,444.00 519.68,442.89 519.82,443.48 519.95,445.46 520.09,441.58 520.22,444.39 520.36,440.64 520.49,442.89 520.63,443.63 520.76,438.87 520.90,442.62 521.03,442.70 521.17,437.47 521.30,441.80 521.43,439.14 521.56,439.31 521.69,438.70 521.82,442.20 521.95,440.13 522.08,441.83 522.21,439.32 522.34,440.81 522.47,447.23 522.60,445.61 522.73,439.62 522.86,439.32 522.99,441.51 523.12,438.20 523.25,444.38 523.38,443.77 523.51,443.55 523.64,443.89 523.77,442.03 523.90,444.00 522.71,439.94 524.19,437.70 524.06,443.19 524.07,437.95 523.67,441.18 523.84,445.90 523.94,443.58 523.94,445.15 525.22,440.52 524.47,437.75 525.01,441.66 525.22,436.48 525.61,438.60 525.47,435.18 524.97,439.80 525.44,438.97 525.16,437.79 525.49,437.01 524.70,440.61 525.74,439.92 525.30,443.66 525.53,444.13 525.95,442.01 525.75,440.51 526.76,436.36 526.03,441.55 526.07,438.69 525.70,434.30 526.83,437.49 525.96,436.68 526.20,433.87 526.60,436.90 526.73,437.81 526.86,437.53 526.99,433.39 527.12,432.76 527.25,436.77 527.38,438.16 527.51,442.80 527.64,443.61 527.77,440.46 527.90,437.03 528.03,438.36 528.16,435.17 528.29,435.38 528.42,440.24 528.55,440.92 528.68,442.11 528.81,444.37 528.94,439.73 529.07,441.57 529.20,439.20 529.34,440.27 529.47,440.45 529.61,440.29 529.75,441.10 529.88,436.03 530.02,434.30 530.16,437.79 530.29,440.11 530.43,438.22 530.57,438.63 530.71,435.14 530.84,440.53 530.98,441.02 531.12,444.11 531.25,439.87 531.39,439.26 531.53,439.52 531.66,443.24 531.80,439.40 531.93,442.30 532.06,441.48 532.19,435.51 532.32,435.61 532.45,433.93 532.58,436.92 532.72,440.88 532.85,440.01 532.98,436.98 533.11,444.16 533.24,437.93 533.37,442.67 533.50,439.30 533.67,443.92 533.41,445.03 533.73,440.25 533.87,441.31 533.91,445.54 533.79,441.76 534.44,442.56 533.99,439.55 534.75,436.87 534.62,442.14 534.78,444.04 534.30,444.01 535.04,444.31 535.22,446.29 535.13,442.06 535.56,438.67 535.46,437.75 535.15,439.20 535.38,439.55 535.89,443.37 535.92,442.96 536.35,446.22 535.98,443.41 536.03,446.16 536.10,444.80 535.98,446.86 536.09,444.15 536.10,442.28 536.09,442.98 536.77,441.77 536.34,438.42 536.43,440.35 537.49,439.24 536.82,442.41 536.56,440.40 536.41,438.37 537.10,442.32 537.36,444.53 538.08,437.06 537.84,441.30 537.47,439.67 538.33,440.00 537.50,436.98 537.30,440.73 537.67,444.59 538.09,444.97 537.86,440.67 538.24,444.06 538.64,437.32 538.70,438.18 538.74,437.59 538.73,439.64 538.98,434.40 539.06,440.81 539.27,441.67 539.46,438.40 538.88,437.29 539.64,433.92 539.61,438.07 538.91,435.85 539.60,437.00 539.74,438.74 539.87,437.45 540.00,435.60 540.14,434.99 540.27,434.93 540.41,431.38 540.54,437.09 540.68,439.36 540.81,440.67 540.95,437.74 541.09,434.28 541.22,432.79 541.36,435.26 541.49,441.89 541.62,441.98 541.76,439.55 541.89,439.98 542.03,441.13 542.16,439.48 542.30,438.40 542.45,439.64 542.41,437.56 542.81,437.02 542.74,434.15 542.92,436.52 543.14,437.40 543.17,438.08 543.12,441.47 543.54,443.85 543.53,438.13 543.62,437.86 543.56,442.16 543.96,443.97 544.30,442.39 543.98,440.62 544.30,442.58 544.15,440.60 544.72,436.52 544.82,436.30 544.51,442.85 544.90,443.00 545.79,443.32 546.74,445.82 544.95,446.96 544.77,443.04 543.83,443.66 548.18,439.31 546.57,443.26 544.04,441.20 544.16,439.79 543.17,438.60 545.74,441.50 545.42,442.84 548.07,438.99 546.15,442.09 545.03,442.87 544.47,442.58 546.76,443.11 546.07,442.67 545.88,440.42 545.01,441.12 546.68,441.19 543.41,435.59 545.27,437.82 544.10,435.39 543.60,433.55 543.76,434.86 545.70,431.40 547.55,438.99 546.45,436.83 545.81,435.73 546.02,433.72 545.06,432.10 545.97,433.88 544.95,440.44 547.00,433.87 546.20,435.00 546.34,435.90 546.48,436.86 546.61,434.84 546.75,430.17 546.89,431.61 547.02,429.45 547.16,431.90 547.30,437.69 547.44,433.87 547.58,433.56 547.71,436.06 547.85,430.11 547.99,433.70 548.12,431.78 548.26,430.03 548.40,432.00 548.53,430.33 548.66,428.86 548.79,433.56 548.92,433.20 549.05,431.61 549.18,433.78 549.31,429.14 549.44,425.36 549.57,433.73 549.70,431.95 549.83,435.11 549.96,431.71 550.09,428.09 550.22,428.92 550.35,434.87 550.48,435.54 550.61,433.09 550.74,435.95 550.87,434.36 551.00,434.90 551.09,435.39 551.26,429.05 551.36,435.12 551.53,439.90 551.67,442.16 551.77,441.65 551.98,434.13 552.06,439.33 552.20,435.09 552.32,433.43 552.45,438.39 552.58,434.96 552.71,437.16 552.80,441.07 552.88,436.72 553.05,441.84 553.22,443.17 553.35,443.50 553.46,441.76 553.60,439.00 553.74,441.28 553.87,436.88 554.00,441.15 554.14,435.13 554.27,436.30 554.41,437.10 554.54,438.75 554.68,438.79 554.81,436.41 554.95,438.51 555.09,431.75 555.22,434.69 555.36,437.61 555.49,436.92 555.62,441.35 555.76,439.81 555.89,441.03 556.03,437.02 556.16,441.39 556.30,440.00 555.16,442.20 555.50,444.18 557.10,437.53 557.04,443.19 556.05,439.75 556.82,436.77 555.99,438.62 555.11,439.53 556.16,438.95 558.56,434.40 556.76,437.89 558.16,434.26 556.55,436.15 557.91,429.80 557.66,436.11 555.93,433.13 557.17,438.08 555.57,438.56 558.08,435.74 559.02,435.28 558.48,437.53 557.57,437.61 557.17,433.42 557.74,437.48 558.00,434.50 558.14,429.59 558.27,433.44 558.41,434.58 558.55,433.51 558.69,435.77 558.83,433.06 558.96,442.00 559.10,436.75 559.24,433.54 559.38,435.57 559.51,436.61 559.65,439.00 559.79,438.19 559.93,439.20 560.06,437.93 560.20,437.50 558.80,437.03 560.14,435.50 561.32,433.69 561.86,435.81 559.97,439.76 562.28,446.63 561.05,440.08 559.30,437.82 559.93,439.25 558.79,441.88 562.38,441.27 563.22,441.18 559.18,446.07 560.08,441.40 560.23,445.14 560.08,436.59 560.76,438.63 561.06,439.92 561.02,438.77 560.54,439.44 562.26,440.31 562.06,442.24 559.03,440.29 562.42,441.31 560.65,442.23 561.83,438.38 559.26,439.29 561.59,443.04 559.92,446.95 561.78,441.14 561.91,447.48 559.91,447.30 559.80,446.36 562.74,440.32 560.93,446.59 562.00,445.50 562.55,446.01 562.10,444.54 561.25,445.46 562.62,441.60 561.84,449.59 564.22,444.57 561.62,442.11 563.12,448.25 560.31,446.98 562.29,447.91 563.15,447.32 563.51,449.33 562.07,449.87 563.40,447.91 561.46,442.54 562.02,441.36 562.46,440.16 563.14,439.01 562.07,440.71 563.36,438.59 562.72,438.40 563.30,440.60 563.43,437.02 563.56,434.11 563.69,437.50 563.82,436.53 563.95,438.82 564.08,439.01 564.21,438.78 564.34,442.33 564.47,438.77 564.60,443.07 564.73,442.31 564.86,448.40 564.99,440.76 565.12,438.68 565.25,440.91 565.38,442.83 565.51,440.48 565.64,442.66 565.77,441.56 565.90,440.60 566.07,436.58 566.21,441.14 566.03,439.91 566.67,441.69 566.60,436.18 566.62,432.98 566.64,431.23 566.47,437.10 566.93,434.13 567.09,436.00 566.87,441.12 566.81,439.54 567.13,429.88 567.58,429.65 567.69,435.91 567.70,437.00 567.57,432.08 567.84,430.72 568.33,432.35 567.73,437.13 568.28,441.93 568.32,442.06 568.76,443.46 568.94,442.70 568.72,442.10 568.11,438.16 569.02,442.58 569.19,437.65 569.08,439.65 569.45,445.25 569.28,438.29 569.70,442.72 569.35,443.07 569.01,442.87 569.66,445.52 569.57,441.39 569.64,442.14 569.70,439.27 570.06,446.15 570.30,445.22 570.30,442.60 570.64,442.05 570.26,442.32 570.48,440.13 571.12,441.01 571.15,435.90 571.38,445.24 570.74,442.57 571.31,447.39 570.93,446.49 570.93,444.66 571.73,449.66 571.83,445.64 570.97,446.01 571.46,447.50 571.65,447.46 571.79,443.82 571.63,448.52 571.62,444.54 572.48,444.31 572.47,448.21 572.88,449.06 573.00,452.36 572.40,446.90 572.93,449.84 572.73,447.33 572.90,448.30 573.03,450.60 573.16,448.61 573.29,446.15 573.42,448.28 573.55,446.48 573.68,449.00 573.81,448.89 573.94,447.28 574.07,445.04 574.20,449.56 574.33,445.79 574.46,447.21 574.59,446.34 574.72,447.10 574.85,446.17 574.98,449.67 575.11,448.35 575.24,444.57 575.37,442.64 575.50,447.00 575.63,447.45 575.77,446.43 575.90,450.12 576.04,449.18 576.17,451.14 576.31,444.14 576.45,444.61 576.58,449.25 576.72,443.75 576.85,447.36 576.99,446.38 577.12,449.05 577.25,446.14 577.39,443.87 577.53,447.40 577.66,452.43 577.80,444.67 577.93,446.03 578.07,443.40 578.20,445.40 578.34,446.18 578.47,447.15 578.61,444.23 578.75,441.47 578.88,444.66 579.02,445.73 579.16,448.63 579.29,447.10 579.43,449.75 579.57,448.53 579.71,451.58 579.84,451.48 579.98,444.75 580.12,445.55 580.25,447.93 580.39,446.89 580.53,448.31 580.66,452.64 580.80,447.60 580.84,446.83 581.18,444.55 581.07,452.47 581.13,454.52 581.44,450.00 581.46,448.52 581.65,443.72 581.77,448.02 581.98,447.65 581.91,450.37 582.40,451.54 582.43,444.06 582.31,439.33 582.54,441.95 582.57,438.28 582.90,437.53 582.94,439.08 583.10,440.70 583.15,435.64 583.16,436.33 583.40,443.00 583.53,441.72 583.66,444.94 583.79,441.19 583.92,440.94 584.05,447.82 584.18,444.87 584.31,446.35 584.44,446.99 584.57,446.52 584.70,443.74 584.83,442.72 584.96,445.16 585.09,435.91 585.22,438.18 585.35,442.31 585.48,444.10 585.61,444.84 585.74,441.91 585.87,440.00 586.00,442.40 586.13,437.59 586.27,441.28 586.40,441.88 586.53,442.40 586.67,435.91 586.80,438.81 586.93,437.89 587.07,443.27 587.20,444.38 587.33,444.61 587.47,444.32 587.60,445.90 587.73,443.85 587.87,440.11 588.00,441.48 588.13,441.64 588.27,442.49 588.40,443.17 588.53,442.18 588.67,442.27 588.80,441.46 588.93,440.57 589.07,437.83 589.20,441.00 589.33,437.98 589.47,438.93 589.60,445.68 589.74,442.46 589.87,439.58 590.01,442.82 590.14,443.79 590.28,441.99 590.41,445.01 590.54,440.64 590.68,438.82 590.81,440.03 590.95,440.93 591.08,441.72 591.22,442.76 591.35,445.84 591.49,444.60 591.62,445.22 591.76,443.68 591.89,441.06 592.02,442.94 592.16,441.05 592.29,445.25 592.43,444.10 592.56,441.61 592.70,443.54 592.83,444.92 592.97,443.68 593.10,445.30 593.23,441.91 593.37,443.38 593.50,443.38 593.63,443.45 593.77,437.95 593.90,440.66 594.03,450.11 594.17,452.00 594.30,451.20 594.43,447.35 594.57,449.57 594.70,449.13 594.83,447.56 594.97,446.91 595.10,446.86 595.23,441.92 595.37,448.00 595.50,449.87 595.63,448.81 595.77,448.76 595.90,445.43 596.03,446.35 596.17,445.19 596.30,443.80 596.43,447.08 596.57,453.74 596.70,454.92 596.83,450.53 596.97,447.66 597.10,448.00 596.93,453.59 597.43,447.65 597.89,452.79 596.90,443.46 597.96,442.21 597.48,442.49 597.49,448.24 597.31,451.16 598.40,445.91 598.18,442.81 598.44,446.97 598.44,447.16 598.44,447.76 599.11,444.49 598.63,441.43 598.61,441.29 598.28,446.17 599.03,440.37 599.03,442.70 599.26,442.69 599.55,441.96 598.85,442.21 599.54,439.39 598.97,438.89 599.59,442.40 600.14,444.66 599.93,438.70 599.82,438.41 600.05,441.54 600.13,440.63 599.43,441.50 600.30,441.00 600.43,443.74 600.57,444.20 600.70,443.47 600.84,441.92 600.97,446.33 601.11,442.58 601.24,443.83 601.38,440.87 601.51,436.48 601.65,441.21 601.78,443.35 601.92,437.86 602.05,445.15 602.19,445.65 602.32,445.07 602.46,441.53 602.59,439.55 602.73,441.93 602.86,443.95 603.00,443.31 603.13,444.02 603.27,445.66 603.40,445.30 603.53,445.87 603.67,446.62 603.80,445.13 603.93,439.93 604.07,444.04 604.20,445.48 604.33,447.76 604.47,446.84 604.60,442.02 604.73,444.98 604.87,448.05 605.00,451.01 605.13,446.65 605.27,445.86 605.40,444.81 605.53,447.65 605.67,446.69 605.80,452.12 605.93,447.64 606.07,444.47 606.20,447.68 606.33,447.46 606.47,443.17 606.60,444.00 606.73,443.79 606.87,442.20 607.00,438.97 607.14,443.59 607.27,441.88 607.41,443.36 607.54,445.15 607.68,442.02 607.81,445.01 607.95,442.66 608.08,443.75 608.22,442.14 608.35,439.67 608.49,435.75 608.62,438.48 608.76,439.32 608.89,448.93 609.03,444.11 609.16,444.14 609.30,441.44 609.43,445.53 609.57,445.70 609.70,442.60 609.78,444.00 609.55,442.40 610.16,442.92 609.64,444.45 609.84,444.26 609.64,445.23 609.94,444.77 609.74,444.54 609.93,444.87 609.77,444.51 609.78,445.08 609.67,445.93 610.14,445.26 609.84,445.52 609.86,446.32 609.93,445.37 610.01,446.46 610.08,447.37 610.37,447.22 609.48,446.86 610.27,447.39 609.84,447.64 610.39,448.07 609.87,448.18 610.21,448.04 610.38,447.58 610.60,447.59 610.38,448.12 609.71,448.97 610.02,449.50 610.26,449.31 610.15,448.79 610.44,449.74 610.38,450.54 610.38,449.08 609.87,449.62 610.56,450.61 610.26,450.89 610.23,450.60 610.41,451.54 610.27,451.76 610.24,451.61 610.73,451.28 610.73,451.28 610.21,452.44 610.60,453.08 610.50,453.00 610.63,454.50 610.77,453.09 610.90,451.95 611.03,451.92 611.17,452.26 611.30,449.85 611.43,453.77 611.57,451.60 611.70,455.00 611.83,455.75 611.97,449.88 612.10,449.74 612.23,450.10 612.37,451.66 612.50,450.15 612.63,452.71 612.77,451.91 612.90,449.96 613.03,453.28 613.17,451.16 613.30,453.22 613.43,456.45 613.57,453.75 613.70,452.70 613.83,452.03 613.97,448.98 614.10,452.36 614.23,451.83 614.37,452.07 614.50,454.64 614.63,451.28 614.77,453.33 614.90,455.85 615.03,455.64 615.17,452.12 615.30,454.98 615.43,453.05 615.57,455.88 615.70,454.36 615.83,455.65 615.97,450.46 616.10,453.30 615.58,452.57 615.90,453.58 616.21,454.17 616.33,455.27 615.74,455.14 615.97,454.96 616.21,454.86 616.44,455.31 616.34,455.75 616.27,455.38 616.40,455.76 616.44,455.09 616.46,455.16 615.97,455.84 616.13,456.56 616.44,457.07 616.62,457.04 616.29,456.80 616.59,457.24 615.92,457.49 616.38,457.76 616.14,457.78 616.46,457.58 616.36,458.64 616.44,458.73 616.34,459.29 616.91,459.56 616.42,459.78 616.98,459.49 616.65,461.01 616.93,460.29 616.80,460.19 616.68,460.12 616.81,459.73 616.53,459.67 616.92,460.68 616.94,461.90 616.98,461.72 616.33,460.97 616.30,461.78 616.77,462.70 616.90,462.50 617.04,462.94 617.17,464.43 617.31,463.11 617.44,462.94 617.58,461.13 617.71,463.06 617.85,461.60 617.98,460.97 618.12,462.05 618.25,462.39 618.39,460.92 618.52,460.64 618.66,459.49 618.79,460.35 618.93,459.07 619.06,459.60 619.20,461.40 619.05,461.56 619.47,461.39 619.40,461.90 618.96,462.11 619.29,462.99 619.35,462.80 619.33,463.73 618.80,463.80 619.19,463.27 619.15,463.27 619.56,463.76 619.43,464.20 619.33,464.54 619.28,465.42 619.24,465.01 619.21,464.86 619.37,464.50 619.33,465.34 619.43,466.31 619.36,465.25 619.57,466.28 619.09,466.15 619.49,466.39 619.62,467.79 619.58,467.25 619.67,467.13 619.48,467.16 619.41,466.70 619.44,466.73 619.80,467.65 619.32,468.08 619.40,468.55 619.65,467.50 619.39,468.23 619.75,468.55 619.34,469.12 619.26,469.91 619.33,470.21 620.04,469.95 619.68,470.01 619.71,469.99 619.76,470.87 619.57,471.73 619.83,470.69 619.93,470.60 620.24,471.18 619.44,471.77 619.64,471.44 619.24,472.12 619.70,472.60 619.66,473.00 619.96,473.40 619.68,473.07 619.25,472.35 619.31,473.35 620.03,473.92 620.09,474.00 619.24,475.56 620.20,474.78 619.41,473.55 619.92,474.16 619.98,475.04 619.92,474.99 619.75,475.23 620.04,476.46 620.04,475.24 619.82,475.39 620.18,477.07 619.78,476.62 620.17,477.48 619.80,478.07 620.00,477.20 619.61,478.98 620.15,478.57 620.07,477.91 620.11,477.06 620.58,477.87 620.59,478.33 620.17,478.91 620.23,479.72 620.20,480.29 620.45,478.71 620.51,478.56 619.93,479.46 619.84,480.04 620.06,479.76 620.51,480.68 620.22,480.16 620.25,481.06 620.10,481.78 620.50,482.16 620.61,482.09 620.39,481.00 620.29,481.90 619.92,483.12 620.47,482.88 620.41,482.66 620.64,483.34 620.78,483.44 620.83,483.64 620.38,483.47 619.91,483.21 620.48,483.93 620.28,483.97 620.67,483.77 620.65,485.14 620.94,485.76 620.79,486.00 620.56,485.45 620.80,486.04 620.71,485.63 620.74,486.22 620.51,486.35 620.53,486.43 620.25,486.98 620.51,487.34 620.66,487.76 620.35,486.76 620.80,487.37 620.57,487.49 621.08,487.94 620.97,488.32 620.80,488.30 620.93,488.67 620.35,489.22 620.55,489.06 620.70,489.83 620.85,489.51 621.03,489.41 620.32,488.97 620.74,489.40 620.83,490.15 620.87,490.50 620.86,491.62 620.94,491.88 620.76,491.16 620.66,491.36 621.15,490.60 620.95,491.87 621.72,491.95 621.28,491.92 621.01,491.89 621.14,492.03 621.27,491.72 620.49,492.80 621.04,493.61 620.73,493.79 620.94,493.38 621.00,494.47 621.14,494.61 621.31,494.36 620.92,494.49 621.45,494.57 621.27,494.48 621.27,494.29 621.30,495.54 621.22,494.91 621.06,494.88 621.56,494.64 621.01,495.91 621.13,495.50 621.57,496.33 621.37,496.18 621.49,497.57 621.14,498.55 621.31,497.21 621.50,497.57 621.14,498.30 621.22,497.80 621.44,498.83 621.30,498.03 620.95,498.24 621.64,499.91 621.58,500.14 621.93,499.28 621.34,500.27 621.43,499.43 621.63,500.60 621.60,500.50 621.73,500.23 621.87,500.67 622.00,500.29 622.13,501.78 622.27,501.89 622.40,502.01 622.53,499.88 622.67,502.30 622.80,502.38 622.93,500.61 623.07,501.64 623.20,499.21 623.33,501.51 623.47,502.16 623.60,502.43 623.73,501.41 623.87,500.28 624.00,499.91 624.13,502.15 624.27,499.64 624.40,501.58 624.53,501.24 624.67,501.37 624.80,502.30 624.93,498.67 625.06,498.81 625.19,497.59 625.33,501.50 625.46,502.19 625.59,502.72 625.72,501.29 625.85,500.22 625.98,501.47 626.12,499.62 626.25,501.11 626.38,499.23 626.51,499.56 626.64,496.15 626.77,498.28 626.91,498.25 627.04,499.71 627.17,501.21 627.30,498.80 627.45,499.43 627.52,498.38 627.72,499.11 627.25,499.56 627.72,499.46 627.12,499.49 627.29,499.84 627.33,500.53 627.17,501.49 627.16,501.26 627.55,500.40 627.51,501.29 627.27,501.27 627.37,501.50 627.30,501.37 627.95,502.43 627.22,502.21 627.46,502.84 627.90,504.03 627.67,503.57 627.38,502.51 627.36,503.16 627.45,503.19 627.69,504.31 627.83,504.56 627.62,504.73 627.80,504.94 627.65,504.31 627.38,505.13 627.96,505.85 627.48,505.14 627.61,506.24 628.11,506.16 627.93,505.89 627.48,506.40 627.63,506.80 628.10,507.16 627.74,507.70 628.00,507.79 628.08,508.33 627.74,507.54 627.89,507.55 628.56,507.36 627.94,508.22 627.96,508.59 627.84,508.07 628.42,509.29 627.89,509.57 627.59,508.87 628.09,509.70 628.29,509.98 628.17,510.42 628.43,510.83 628.57,511.14 628.03,510.33 627.90,511.33 628.19,511.28 628.43,511.01 628.59,511.60 628.56,511.96 628.18,512.05 628.44,511.78 628.14,512.34 628.18,512.55 628.39,513.03 628.32,512.84 628.53,514.25 628.40,513.70" fill="none" stroke="#e78ac3" stroke-width="1.3" stroke-linejoin="round"/><path d="M477.50,424.30 477.60,431.00 477.89,431.73 478.18,429.04 477.88,428.25 478.13,429.31 478.17,429.56 478.01,427.72 478.38,428.20 478.80,427.80 478.77,427.49 479.43,425.29 478.45,425.71 479.62,425.87 479.32,425.22 478.99,426.48 479.31,425.04 479.95,424.24 479.92,424.64 480.28,423.04 479.70,423.60 479.71,423.58 480.61,425.44 479.88,426.12 479.65,424.76 480.85,425.67 479.96,425.98 479.56,426.11 480.16,425.28 479.39,425.26 480.55,426.75 480.61,427.64 479.30,428.62 481.01,427.85 479.40,429.11 479.79,429.63 480.09,430.20 480.60,430.20 480.56,430.12 481.00,429.88 480.93,430.66 481.19,430.23 480.85,432.57 481.53,433.28 481.22,433.27 481.39,433.61 481.19,433.17 481.60,434.61 481.99,434.42 481.90,434.60 482.17,434.15 482.31,433.06 482.66,433.85 482.83,435.52 483.09,433.90 483.20,432.20 482.95,433.04 483.49,433.22 483.25,433.64 483.63,434.16 483.98,434.52 484.39,434.73 484.46,435.69 484.22,435.68 484.30,435.60 484.73,435.93 484.90,436.30 484.88,435.24 485.10,435.52 485.41,435.38 485.55,434.36 485.48,434.39 485.93,433.41 486.03,433.80 486.08,433.88 486.30,433.00 486.54,432.14 486.79,432.42 487.03,432.93 487.27,432.66 487.51,432.75 487.76,433.61 488.00,433.90 488.24,434.91 488.45,434.13 488.70,433.75 488.92,436.62 489.15,437.44 489.37,437.03 489.60,436.50 490.20,456.30 490.32,456.71 490.53,457.35 490.17,457.55 490.55,457.19 490.78,457.48 490.79,458.23 490.84,458.98 491.12,458.59 491.22,458.61 491.13,459.34 491.30,460.10 491.29,460.50 491.48,461.23 491.69,461.67 491.57,461.89 491.61,461.69 491.66,462.18 492.00,463.00 492.50,474.30 492.72,474.28 492.94,474.43 493.17,474.16 493.39,474.21 493.61,474.28 493.83,473.87 494.06,473.87 494.28,473.93 494.50,473.60 494.72,474.29 494.94,474.10 495.17,473.96 495.39,473.73 495.61,473.86 495.83,474.34 496.06,473.93 496.28,474.21 496.50,474.30 496.73,474.34 496.95,474.44 497.18,474.99 497.40,474.66 497.62,474.52 497.85,474.20 498.07,473.96 498.30,474.30 498.80,479.90 499.04,480.04 499.29,480.28 499.53,480.23 499.78,479.97 500.02,480.49 500.27,480.52 500.51,480.28 500.76,481.09 501.00,481.00 500.95,481.46 501.43,481.79 501.22,482.15 501.39,481.77 501.37,482.13 501.49,482.74 501.44,483.46 501.68,483.57 501.72,484.12 501.84,485.26 501.72,485.78 501.84,486.52 501.84,486.34 502.07,486.51 502.10,486.60 502.29,487.12 502.46,487.87 502.65,488.24 502.84,488.60 503.11,488.48 503.26,489.43 503.42,488.89 503.62,489.51 503.85,489.64 504.01,490.05 504.20,490.64 504.40,491.10 504.40,532.80" fill="none" stroke="#a6d854" stroke-width="1.2" stroke-linejoin="round"/></g><text x="359.40" y="571.20" text-anchor="middle" font-size="10.11" fill="#262626" stroke="#262626" stroke-width="0.12" textLength="137.78" lengthAdjust="spacingAndGlyphs">percentage of features removed</text><text x="0.00" y="0.00" text-anchor="middle" font-size="9.78" fill="#262626" stroke="#262626" stroke-width="0.12" textLength="73.67" lengthAdjust="spacingAndGlyphs" transform="translate(11.0 398) rotate(-90)">average F1-score</text><rect x="305.3" y="584.7" width="109.5" height="14.6" rx="1.5" fill="#fff" stroke="#dcdcdc" stroke-width="0.8"/><line x1="308.2" y1="591.5" x2="326.3" y2="591.5" stroke="#e78ac3" stroke-width="1.1"/><text x="332.90" y="594.70" font-size="9.12" fill="#262626" stroke="#262626" stroke-width="0.12" textLength="19.11" lengthAdjust="spacingAndGlyphs">HGC</text><line x1="368.9" y1="591.5" x2="387.1" y2="591.5" stroke="#a6d854" stroke-width="1.1"/><text x="393.70" y="594.70" font-size="9.12" fill="#262626" stroke="#262626" stroke-width="0.12" textLength="17.68" lengthAdjust="spacingAndGlyphs">SNP</text></svg>
</body></html>
